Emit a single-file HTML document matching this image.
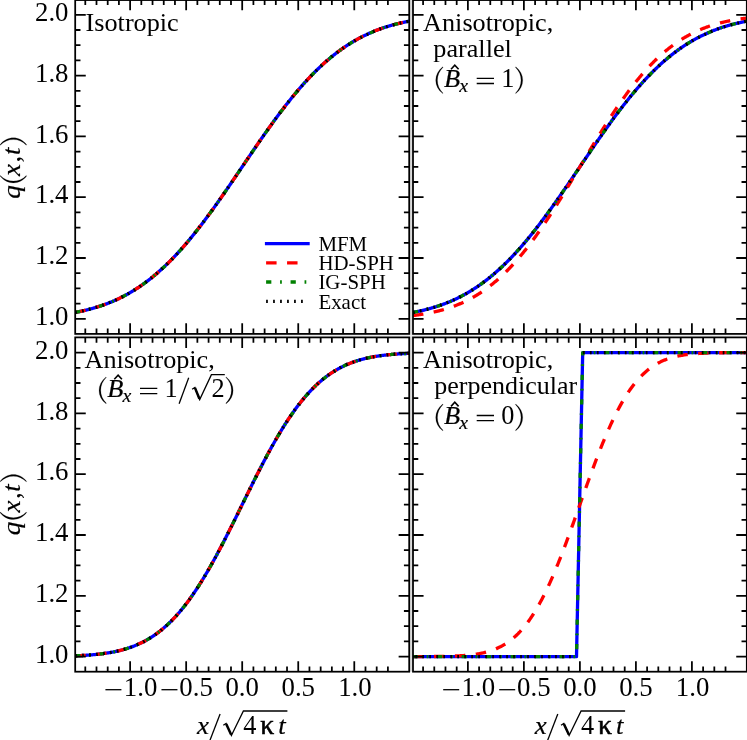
<!DOCTYPE html>
<html><head><meta charset="utf-8"><title>chart</title>
<style>
html,body{margin:0;padding:0;background:#fff;}
body{width:747px;height:740px;overflow:hidden;position:relative;font-family:"Liberation Serif",serif;}
</style></head><body>
<svg width="747" height="740" viewBox="0 0 747 740" style="position:absolute;left:0;top:0;will-change:transform">
<defs>
<clipPath id="c00"><rect x="75.20" y="-0.40" width="334.00" height="334.30"/></clipPath>
<clipPath id="c01"><rect x="75.20" y="337.40" width="334.00" height="334.30"/></clipPath>
<clipPath id="c10"><rect x="413.00" y="-0.40" width="333.80" height="334.30"/></clipPath>
<clipPath id="c11"><rect x="413.00" y="337.40" width="333.80" height="334.30"/></clipPath>
</defs>
<rect x="0" y="0" width="747" height="740" fill="#ffffff"/>
<path d="M75.20 312.41 L75.76 312.31 L76.31 312.20 L76.87 312.10 L77.43 311.99 L77.98 311.88 L78.54 311.76 L79.10 311.65 L79.65 311.54 L80.21 311.42 L80.77 311.30 L81.32 311.18 L81.88 311.06 L82.44 310.94 L82.99 310.81 L83.55 310.68 L84.11 310.56 L84.66 310.43 L85.22 310.30 L85.78 310.16 L86.33 310.03 L86.89 309.89 L87.45 309.75 L88.00 309.61 L88.56 309.47 L89.12 309.33 L89.67 309.18 L90.23 309.03 L90.79 308.88 L91.34 308.73 L91.90 308.58 L92.46 308.42 L93.01 308.27 L93.57 308.11 L94.13 307.95 L94.68 307.79 L95.24 307.62 L95.80 307.45 L96.35 307.29 L96.91 307.11 L97.47 306.94 L98.02 306.77 L98.58 306.59 L99.14 306.41 L99.69 306.23 L100.25 306.05 L100.81 305.86 L101.36 305.67 L101.92 305.48 L102.48 305.29 L103.03 305.09 L103.59 304.90 L104.15 304.70 L104.70 304.50 L105.26 304.29 L105.82 304.09 L106.37 303.88 L106.93 303.67 L107.49 303.46 L108.04 303.24 L108.60 303.02 L109.16 302.80 L109.71 302.58 L110.27 302.36 L110.83 302.13 L111.38 301.90 L111.94 301.67 L112.50 301.43 L113.05 301.19 L113.61 300.95 L114.17 300.71 L114.72 300.47 L115.28 300.22 L115.84 299.97 L116.39 299.71 L116.95 299.46 L117.51 299.20 L118.06 298.94 L118.62 298.68 L119.18 298.41 L119.73 298.14 L120.29 297.87 L120.85 297.59 L121.40 297.32 L121.96 297.04 L122.52 296.75 L123.07 296.47 L123.63 296.18 L124.19 295.89 L124.74 295.59 L125.30 295.30 L125.86 295.00 L126.41 294.69 L126.97 294.39 L127.53 294.08 L128.08 293.77 L128.64 293.45 L129.20 293.14 L129.75 292.82 L130.31 292.49 L130.87 292.17 L131.42 291.84 L131.98 291.50 L132.54 291.17 L133.09 290.83 L133.65 290.49 L134.21 290.14 L134.76 289.80 L135.32 289.45 L135.88 289.09 L136.43 288.73 L136.99 288.37 L137.55 288.01 L138.10 287.64 L138.66 287.27 L139.22 286.90 L139.77 286.52 L140.33 286.15 L140.89 285.76 L141.44 285.38 L142.00 284.99 L142.56 284.60 L143.11 284.20 L143.67 283.80 L144.23 283.40 L144.78 283.00 L145.34 282.59 L145.90 282.18 L146.45 281.76 L147.01 281.34 L147.57 280.92 L148.12 280.50 L148.68 280.07 L149.24 279.64 L149.79 279.20 L150.35 278.76 L150.91 278.32 L151.46 277.88 L152.02 277.43 L152.58 276.98 L153.13 276.52 L153.69 276.06 L154.25 275.60 L154.80 275.14 L155.36 274.67 L155.92 274.20 L156.47 273.72 L157.03 273.24 L157.59 272.76 L158.14 272.28 L158.70 271.79 L159.26 271.30 L159.81 270.80 L160.37 270.30 L160.93 269.80 L161.48 269.29 L162.04 268.79 L162.60 268.27 L163.15 267.76 L163.71 267.24 L164.27 266.72 L164.82 266.19 L165.38 265.66 L165.94 265.13 L166.49 264.59 L167.05 264.05 L167.61 263.51 L168.16 262.97 L168.72 262.42 L169.28 261.86 L169.83 261.31 L170.39 260.75 L170.95 260.19 L171.50 259.62 L172.06 259.05 L172.62 258.48 L173.17 257.90 L173.73 257.32 L174.29 256.74 L174.84 256.16 L175.40 255.57 L175.96 254.98 L176.51 254.38 L177.07 253.78 L177.63 253.18 L178.18 252.57 L178.74 251.97 L179.30 251.35 L179.85 250.74 L180.41 250.12 L180.97 249.50 L181.52 248.88 L182.08 248.25 L182.64 247.62 L183.19 246.99 L183.75 246.35 L184.31 245.71 L184.86 245.07 L185.42 244.42 L185.98 243.77 L186.53 243.12 L187.09 242.47 L187.65 241.81 L188.20 241.15 L188.76 240.48 L189.32 239.82 L189.87 239.15 L190.43 238.47 L190.99 237.80 L191.54 237.12 L192.10 236.44 L192.66 235.76 L193.21 235.07 L193.77 234.38 L194.33 233.69 L194.88 232.99 L195.44 232.29 L196.00 231.59 L196.55 230.89 L197.11 230.19 L197.67 229.48 L198.22 228.77 L198.78 228.05 L199.34 227.34 L199.89 226.62 L200.45 225.90 L201.01 225.17 L201.56 224.45 L202.12 223.72 L202.68 222.99 L203.23 222.25 L203.79 221.52 L204.35 220.78 L204.90 220.04 L205.46 219.30 L206.02 218.55 L206.57 217.81 L207.13 217.06 L207.69 216.31 L208.24 215.55 L208.80 214.80 L209.36 214.04 L209.91 213.28 L210.47 212.52 L211.03 211.75 L211.58 210.99 L212.14 210.22 L212.70 209.45 L213.25 208.68 L213.81 207.90 L214.37 207.13 L214.92 206.35 L215.48 205.57 L216.04 204.79 L216.59 204.01 L217.15 203.23 L217.71 202.44 L218.26 201.65 L218.82 200.86 L219.38 200.07 L219.93 199.28 L220.49 198.49 L221.05 197.70 L221.60 196.90 L222.16 196.10 L222.72 195.30 L223.27 194.50 L223.83 193.70 L224.39 192.90 L224.94 192.10 L225.50 191.29 L226.06 190.49 L226.61 189.68 L227.17 188.87 L227.73 188.06 L228.28 187.25 L228.84 186.44 L229.40 185.63 L229.95 184.82 L230.51 184.00 L231.07 183.19 L231.62 182.38 L232.18 181.56 L232.74 180.74 L233.29 179.93 L233.85 179.11 L234.41 178.29 L234.96 177.47 L235.52 176.65 L236.08 175.83 L236.63 175.01 L237.19 174.19 L237.75 173.37 L238.30 172.55 L238.86 171.73 L239.42 170.91 L239.97 170.09 L240.53 169.27 L241.09 168.44 L241.64 167.62 L242.20 166.80 L242.76 165.98 L243.31 165.16 L243.87 164.33 L244.43 163.51 L244.98 162.69 L245.54 161.87 L246.10 161.05 L246.65 160.23 L247.21 159.41 L247.77 158.59 L248.32 157.77 L248.88 156.95 L249.44 156.13 L249.99 155.31 L250.55 154.49 L251.11 153.67 L251.66 152.86 L252.22 152.04 L252.78 151.22 L253.33 150.41 L253.89 149.60 L254.45 148.78 L255.00 147.97 L255.56 147.16 L256.12 146.35 L256.67 145.54 L257.23 144.73 L257.79 143.92 L258.34 143.11 L258.90 142.31 L259.46 141.50 L260.01 140.70 L260.57 139.90 L261.13 139.10 L261.68 138.30 L262.24 137.50 L262.80 136.70 L263.35 135.90 L263.91 135.11 L264.47 134.32 L265.02 133.53 L265.58 132.74 L266.14 131.95 L266.69 131.16 L267.25 130.37 L267.81 129.59 L268.36 128.81 L268.92 128.03 L269.48 127.25 L270.03 126.47 L270.59 125.70 L271.15 124.92 L271.70 124.15 L272.26 123.38 L272.82 122.61 L273.37 121.85 L273.93 121.08 L274.49 120.32 L275.04 119.56 L275.60 118.80 L276.16 118.05 L276.71 117.29 L277.27 116.54 L277.83 115.79 L278.38 115.05 L278.94 114.30 L279.50 113.56 L280.05 112.82 L280.61 112.08 L281.17 111.35 L281.72 110.61 L282.28 109.88 L282.84 109.15 L283.39 108.43 L283.95 107.70 L284.51 106.98 L285.06 106.26 L285.62 105.55 L286.18 104.83 L286.73 104.12 L287.29 103.41 L287.85 102.71 L288.40 102.01 L288.96 101.31 L289.52 100.61 L290.07 99.91 L290.63 99.22 L291.19 98.53 L291.74 97.84 L292.30 97.16 L292.86 96.48 L293.41 95.80 L293.97 95.13 L294.53 94.45 L295.08 93.78 L295.64 93.12 L296.20 92.45 L296.75 91.79 L297.31 91.13 L297.87 90.48 L298.42 89.83 L298.98 89.18 L299.54 88.53 L300.09 87.89 L300.65 87.25 L301.21 86.61 L301.76 85.98 L302.32 85.35 L302.88 84.72 L303.43 84.10 L303.99 83.48 L304.55 82.86 L305.10 82.25 L305.66 81.63 L306.22 81.03 L306.77 80.42 L307.33 79.82 L307.89 79.22 L308.44 78.62 L309.00 78.03 L309.56 77.44 L310.11 76.86 L310.67 76.28 L311.23 75.70 L311.78 75.12 L312.34 74.55 L312.90 73.98 L313.45 73.41 L314.01 72.85 L314.57 72.29 L315.12 71.74 L315.68 71.18 L316.24 70.63 L316.79 70.09 L317.35 69.55 L317.91 69.01 L318.46 68.47 L319.02 67.94 L319.58 67.41 L320.13 66.88 L320.69 66.36 L321.25 65.84 L321.80 65.33 L322.36 64.81 L322.92 64.31 L323.47 63.80 L324.03 63.30 L324.59 62.80 L325.14 62.30 L325.70 61.81 L326.26 61.32 L326.81 60.84 L327.37 60.36 L327.93 59.88 L328.48 59.40 L329.04 58.93 L329.60 58.46 L330.15 58.00 L330.71 57.54 L331.27 57.08 L331.82 56.62 L332.38 56.17 L332.94 55.72 L333.49 55.28 L334.05 54.84 L334.61 54.40 L335.16 53.96 L335.72 53.53 L336.28 53.10 L336.83 52.68 L337.39 52.26 L337.95 51.84 L338.50 51.42 L339.06 51.01 L339.62 50.60 L340.17 50.20 L340.73 49.80 L341.29 49.40 L341.84 49.00 L342.40 48.61 L342.96 48.22 L343.51 47.84 L344.07 47.45 L344.63 47.08 L345.18 46.70 L345.74 46.33 L346.30 45.96 L346.85 45.59 L347.41 45.23 L347.97 44.87 L348.52 44.51 L349.08 44.15 L349.64 43.80 L350.19 43.46 L350.75 43.11 L351.31 42.77 L351.86 42.43 L352.42 42.10 L352.98 41.76 L353.53 41.43 L354.09 41.11 L354.65 40.78 L355.20 40.46 L355.76 40.15 L356.32 39.83 L356.87 39.52 L357.43 39.21 L357.99 38.91 L358.54 38.60 L359.10 38.30 L359.66 38.01 L360.21 37.71 L360.77 37.42 L361.33 37.13 L361.88 36.85 L362.44 36.56 L363.00 36.28 L363.55 36.01 L364.11 35.73 L364.67 35.46 L365.22 35.19 L365.78 34.92 L366.34 34.66 L366.89 34.40 L367.45 34.14 L368.01 33.89 L368.56 33.63 L369.12 33.38 L369.68 33.13 L370.23 32.89 L370.79 32.65 L371.35 32.41 L371.90 32.17 L372.46 31.93 L373.02 31.70 L373.57 31.47 L374.13 31.24 L374.69 31.02 L375.24 30.80 L375.80 30.58 L376.36 30.36 L376.91 30.14 L377.47 29.93 L378.03 29.72 L378.58 29.51 L379.14 29.31 L379.70 29.10 L380.25 28.90 L380.81 28.70 L381.37 28.51 L381.92 28.31 L382.48 28.12 L383.04 27.93 L383.59 27.74 L384.15 27.55 L384.71 27.37 L385.26 27.19 L385.82 27.01 L386.38 26.83 L386.93 26.66 L387.49 26.49 L388.05 26.31 L388.60 26.15 L389.16 25.98 L389.72 25.81 L390.27 25.65 L390.83 25.49 L391.39 25.33 L391.94 25.18 L392.50 25.02 L393.06 24.87 L393.61 24.72 L394.17 24.57 L394.73 24.42 L395.28 24.27 L395.84 24.13 L396.40 23.99 L396.95 23.85 L397.51 23.71 L398.07 23.57 L398.62 23.44 L399.18 23.30 L399.74 23.17 L400.29 23.04 L400.85 22.92 L401.41 22.79 L401.96 22.66 L402.52 22.54 L403.08 22.42 L403.63 22.30 L404.19 22.18 L404.75 22.06 L405.30 21.95 L405.86 21.84 L406.42 21.72 L406.97 21.61 L407.53 21.50 L408.09 21.40 L408.64 21.29 L409.20 21.19" fill="none" stroke="#0000ff" stroke-width="3.30" clip-path="url(#c00)" stroke-linejoin="round"/>
<path d="M75.20 312.41 L75.76 312.31 L76.31 312.20 L76.87 312.10 L77.43 311.99 L77.98 311.88 L78.54 311.76 L79.10 311.65 L79.65 311.54 L80.21 311.42 L80.77 311.30 L81.32 311.18 L81.88 311.06 L82.44 310.94 L82.99 310.81 L83.55 310.68 L84.11 310.56 L84.66 310.43 L85.22 310.30 L85.78 310.16 L86.33 310.03 L86.89 309.89 L87.45 309.75 L88.00 309.61 L88.56 309.47 L89.12 309.33 L89.67 309.18 L90.23 309.03 L90.79 308.88 L91.34 308.73 L91.90 308.58 L92.46 308.42 L93.01 308.27 L93.57 308.11 L94.13 307.95 L94.68 307.79 L95.24 307.62 L95.80 307.45 L96.35 307.29 L96.91 307.11 L97.47 306.94 L98.02 306.77 L98.58 306.59 L99.14 306.41 L99.69 306.23 L100.25 306.05 L100.81 305.86 L101.36 305.67 L101.92 305.48 L102.48 305.29 L103.03 305.09 L103.59 304.90 L104.15 304.70 L104.70 304.50 L105.26 304.29 L105.82 304.09 L106.37 303.88 L106.93 303.67 L107.49 303.46 L108.04 303.24 L108.60 303.02 L109.16 302.80 L109.71 302.58 L110.27 302.36 L110.83 302.13 L111.38 301.90 L111.94 301.67 L112.50 301.43 L113.05 301.19 L113.61 300.95 L114.17 300.71 L114.72 300.47 L115.28 300.22 L115.84 299.97 L116.39 299.71 L116.95 299.46 L117.51 299.20 L118.06 298.94 L118.62 298.68 L119.18 298.41 L119.73 298.14 L120.29 297.87 L120.85 297.59 L121.40 297.32 L121.96 297.04 L122.52 296.75 L123.07 296.47 L123.63 296.18 L124.19 295.89 L124.74 295.59 L125.30 295.30 L125.86 295.00 L126.41 294.69 L126.97 294.39 L127.53 294.08 L128.08 293.77 L128.64 293.45 L129.20 293.14 L129.75 292.82 L130.31 292.49 L130.87 292.17 L131.42 291.84 L131.98 291.50 L132.54 291.17 L133.09 290.83 L133.65 290.49 L134.21 290.14 L134.76 289.80 L135.32 289.45 L135.88 289.09 L136.43 288.73 L136.99 288.37 L137.55 288.01 L138.10 287.64 L138.66 287.27 L139.22 286.90 L139.77 286.52 L140.33 286.15 L140.89 285.76 L141.44 285.38 L142.00 284.99 L142.56 284.60 L143.11 284.20 L143.67 283.80 L144.23 283.40 L144.78 283.00 L145.34 282.59 L145.90 282.18 L146.45 281.76 L147.01 281.34 L147.57 280.92 L148.12 280.50 L148.68 280.07 L149.24 279.64 L149.79 279.20 L150.35 278.76 L150.91 278.32 L151.46 277.88 L152.02 277.43 L152.58 276.98 L153.13 276.52 L153.69 276.06 L154.25 275.60 L154.80 275.14 L155.36 274.67 L155.92 274.20 L156.47 273.72 L157.03 273.24 L157.59 272.76 L158.14 272.28 L158.70 271.79 L159.26 271.30 L159.81 270.80 L160.37 270.30 L160.93 269.80 L161.48 269.29 L162.04 268.79 L162.60 268.27 L163.15 267.76 L163.71 267.24 L164.27 266.72 L164.82 266.19 L165.38 265.66 L165.94 265.13 L166.49 264.59 L167.05 264.05 L167.61 263.51 L168.16 262.97 L168.72 262.42 L169.28 261.86 L169.83 261.31 L170.39 260.75 L170.95 260.19 L171.50 259.62 L172.06 259.05 L172.62 258.48 L173.17 257.90 L173.73 257.32 L174.29 256.74 L174.84 256.16 L175.40 255.57 L175.96 254.98 L176.51 254.38 L177.07 253.78 L177.63 253.18 L178.18 252.57 L178.74 251.97 L179.30 251.35 L179.85 250.74 L180.41 250.12 L180.97 249.50 L181.52 248.88 L182.08 248.25 L182.64 247.62 L183.19 246.99 L183.75 246.35 L184.31 245.71 L184.86 245.07 L185.42 244.42 L185.98 243.77 L186.53 243.12 L187.09 242.47 L187.65 241.81 L188.20 241.15 L188.76 240.48 L189.32 239.82 L189.87 239.15 L190.43 238.47 L190.99 237.80 L191.54 237.12 L192.10 236.44 L192.66 235.76 L193.21 235.07 L193.77 234.38 L194.33 233.69 L194.88 232.99 L195.44 232.29 L196.00 231.59 L196.55 230.89 L197.11 230.19 L197.67 229.48 L198.22 228.77 L198.78 228.05 L199.34 227.34 L199.89 226.62 L200.45 225.90 L201.01 225.17 L201.56 224.45 L202.12 223.72 L202.68 222.99 L203.23 222.25 L203.79 221.52 L204.35 220.78 L204.90 220.04 L205.46 219.30 L206.02 218.55 L206.57 217.81 L207.13 217.06 L207.69 216.31 L208.24 215.55 L208.80 214.80 L209.36 214.04 L209.91 213.28 L210.47 212.52 L211.03 211.75 L211.58 210.99 L212.14 210.22 L212.70 209.45 L213.25 208.68 L213.81 207.90 L214.37 207.13 L214.92 206.35 L215.48 205.57 L216.04 204.79 L216.59 204.01 L217.15 203.23 L217.71 202.44 L218.26 201.65 L218.82 200.86 L219.38 200.07 L219.93 199.28 L220.49 198.49 L221.05 197.70 L221.60 196.90 L222.16 196.10 L222.72 195.30 L223.27 194.50 L223.83 193.70 L224.39 192.90 L224.94 192.10 L225.50 191.29 L226.06 190.49 L226.61 189.68 L227.17 188.87 L227.73 188.06 L228.28 187.25 L228.84 186.44 L229.40 185.63 L229.95 184.82 L230.51 184.00 L231.07 183.19 L231.62 182.38 L232.18 181.56 L232.74 180.74 L233.29 179.93 L233.85 179.11 L234.41 178.29 L234.96 177.47 L235.52 176.65 L236.08 175.83 L236.63 175.01 L237.19 174.19 L237.75 173.37 L238.30 172.55 L238.86 171.73 L239.42 170.91 L239.97 170.09 L240.53 169.27 L241.09 168.44 L241.64 167.62 L242.20 166.80 L242.76 165.98 L243.31 165.16 L243.87 164.33 L244.43 163.51 L244.98 162.69 L245.54 161.87 L246.10 161.05 L246.65 160.23 L247.21 159.41 L247.77 158.59 L248.32 157.77 L248.88 156.95 L249.44 156.13 L249.99 155.31 L250.55 154.49 L251.11 153.67 L251.66 152.86 L252.22 152.04 L252.78 151.22 L253.33 150.41 L253.89 149.60 L254.45 148.78 L255.00 147.97 L255.56 147.16 L256.12 146.35 L256.67 145.54 L257.23 144.73 L257.79 143.92 L258.34 143.11 L258.90 142.31 L259.46 141.50 L260.01 140.70 L260.57 139.90 L261.13 139.10 L261.68 138.30 L262.24 137.50 L262.80 136.70 L263.35 135.90 L263.91 135.11 L264.47 134.32 L265.02 133.53 L265.58 132.74 L266.14 131.95 L266.69 131.16 L267.25 130.37 L267.81 129.59 L268.36 128.81 L268.92 128.03 L269.48 127.25 L270.03 126.47 L270.59 125.70 L271.15 124.92 L271.70 124.15 L272.26 123.38 L272.82 122.61 L273.37 121.85 L273.93 121.08 L274.49 120.32 L275.04 119.56 L275.60 118.80 L276.16 118.05 L276.71 117.29 L277.27 116.54 L277.83 115.79 L278.38 115.05 L278.94 114.30 L279.50 113.56 L280.05 112.82 L280.61 112.08 L281.17 111.35 L281.72 110.61 L282.28 109.88 L282.84 109.15 L283.39 108.43 L283.95 107.70 L284.51 106.98 L285.06 106.26 L285.62 105.55 L286.18 104.83 L286.73 104.12 L287.29 103.41 L287.85 102.71 L288.40 102.01 L288.96 101.31 L289.52 100.61 L290.07 99.91 L290.63 99.22 L291.19 98.53 L291.74 97.84 L292.30 97.16 L292.86 96.48 L293.41 95.80 L293.97 95.13 L294.53 94.45 L295.08 93.78 L295.64 93.12 L296.20 92.45 L296.75 91.79 L297.31 91.13 L297.87 90.48 L298.42 89.83 L298.98 89.18 L299.54 88.53 L300.09 87.89 L300.65 87.25 L301.21 86.61 L301.76 85.98 L302.32 85.35 L302.88 84.72 L303.43 84.10 L303.99 83.48 L304.55 82.86 L305.10 82.25 L305.66 81.63 L306.22 81.03 L306.77 80.42 L307.33 79.82 L307.89 79.22 L308.44 78.62 L309.00 78.03 L309.56 77.44 L310.11 76.86 L310.67 76.28 L311.23 75.70 L311.78 75.12 L312.34 74.55 L312.90 73.98 L313.45 73.41 L314.01 72.85 L314.57 72.29 L315.12 71.74 L315.68 71.18 L316.24 70.63 L316.79 70.09 L317.35 69.55 L317.91 69.01 L318.46 68.47 L319.02 67.94 L319.58 67.41 L320.13 66.88 L320.69 66.36 L321.25 65.84 L321.80 65.33 L322.36 64.81 L322.92 64.31 L323.47 63.80 L324.03 63.30 L324.59 62.80 L325.14 62.30 L325.70 61.81 L326.26 61.32 L326.81 60.84 L327.37 60.36 L327.93 59.88 L328.48 59.40 L329.04 58.93 L329.60 58.46 L330.15 58.00 L330.71 57.54 L331.27 57.08 L331.82 56.62 L332.38 56.17 L332.94 55.72 L333.49 55.28 L334.05 54.84 L334.61 54.40 L335.16 53.96 L335.72 53.53 L336.28 53.10 L336.83 52.68 L337.39 52.26 L337.95 51.84 L338.50 51.42 L339.06 51.01 L339.62 50.60 L340.17 50.20 L340.73 49.80 L341.29 49.40 L341.84 49.00 L342.40 48.61 L342.96 48.22 L343.51 47.84 L344.07 47.45 L344.63 47.08 L345.18 46.70 L345.74 46.33 L346.30 45.96 L346.85 45.59 L347.41 45.23 L347.97 44.87 L348.52 44.51 L349.08 44.15 L349.64 43.80 L350.19 43.46 L350.75 43.11 L351.31 42.77 L351.86 42.43 L352.42 42.10 L352.98 41.76 L353.53 41.43 L354.09 41.11 L354.65 40.78 L355.20 40.46 L355.76 40.15 L356.32 39.83 L356.87 39.52 L357.43 39.21 L357.99 38.91 L358.54 38.60 L359.10 38.30 L359.66 38.01 L360.21 37.71 L360.77 37.42 L361.33 37.13 L361.88 36.85 L362.44 36.56 L363.00 36.28 L363.55 36.01 L364.11 35.73 L364.67 35.46 L365.22 35.19 L365.78 34.92 L366.34 34.66 L366.89 34.40 L367.45 34.14 L368.01 33.89 L368.56 33.63 L369.12 33.38 L369.68 33.13 L370.23 32.89 L370.79 32.65 L371.35 32.41 L371.90 32.17 L372.46 31.93 L373.02 31.70 L373.57 31.47 L374.13 31.24 L374.69 31.02 L375.24 30.80 L375.80 30.58 L376.36 30.36 L376.91 30.14 L377.47 29.93 L378.03 29.72 L378.58 29.51 L379.14 29.31 L379.70 29.10 L380.25 28.90 L380.81 28.70 L381.37 28.51 L381.92 28.31 L382.48 28.12 L383.04 27.93 L383.59 27.74 L384.15 27.55 L384.71 27.37 L385.26 27.19 L385.82 27.01 L386.38 26.83 L386.93 26.66 L387.49 26.49 L388.05 26.31 L388.60 26.15 L389.16 25.98 L389.72 25.81 L390.27 25.65 L390.83 25.49 L391.39 25.33 L391.94 25.18 L392.50 25.02 L393.06 24.87 L393.61 24.72 L394.17 24.57 L394.73 24.42 L395.28 24.27 L395.84 24.13 L396.40 23.99 L396.95 23.85 L397.51 23.71 L398.07 23.57 L398.62 23.44 L399.18 23.30 L399.74 23.17 L400.29 23.04 L400.85 22.92 L401.41 22.79 L401.96 22.66 L402.52 22.54 L403.08 22.42 L403.63 22.30 L404.19 22.18 L404.75 22.06 L405.30 21.95 L405.86 21.84 L406.42 21.72 L406.97 21.61 L407.53 21.50 L408.09 21.40 L408.64 21.29 L409.20 21.19" fill="none" stroke="#ff0000" stroke-width="3.30" stroke-dasharray="10.48 10.48" stroke-dashoffset="0.00" clip-path="url(#c00)" stroke-linejoin="round"/>
<path d="M75.20 312.41 L75.76 312.31 L76.31 312.20 L76.87 312.10 L77.43 311.99 L77.98 311.88 L78.54 311.76 L79.10 311.65 L79.65 311.54 L80.21 311.42 L80.77 311.30 L81.32 311.18 L81.88 311.06 L82.44 310.94 L82.99 310.81 L83.55 310.68 L84.11 310.56 L84.66 310.43 L85.22 310.30 L85.78 310.16 L86.33 310.03 L86.89 309.89 L87.45 309.75 L88.00 309.61 L88.56 309.47 L89.12 309.33 L89.67 309.18 L90.23 309.03 L90.79 308.88 L91.34 308.73 L91.90 308.58 L92.46 308.42 L93.01 308.27 L93.57 308.11 L94.13 307.95 L94.68 307.79 L95.24 307.62 L95.80 307.45 L96.35 307.29 L96.91 307.11 L97.47 306.94 L98.02 306.77 L98.58 306.59 L99.14 306.41 L99.69 306.23 L100.25 306.05 L100.81 305.86 L101.36 305.67 L101.92 305.48 L102.48 305.29 L103.03 305.09 L103.59 304.90 L104.15 304.70 L104.70 304.50 L105.26 304.29 L105.82 304.09 L106.37 303.88 L106.93 303.67 L107.49 303.46 L108.04 303.24 L108.60 303.02 L109.16 302.80 L109.71 302.58 L110.27 302.36 L110.83 302.13 L111.38 301.90 L111.94 301.67 L112.50 301.43 L113.05 301.19 L113.61 300.95 L114.17 300.71 L114.72 300.47 L115.28 300.22 L115.84 299.97 L116.39 299.71 L116.95 299.46 L117.51 299.20 L118.06 298.94 L118.62 298.68 L119.18 298.41 L119.73 298.14 L120.29 297.87 L120.85 297.59 L121.40 297.32 L121.96 297.04 L122.52 296.75 L123.07 296.47 L123.63 296.18 L124.19 295.89 L124.74 295.59 L125.30 295.30 L125.86 295.00 L126.41 294.69 L126.97 294.39 L127.53 294.08 L128.08 293.77 L128.64 293.45 L129.20 293.14 L129.75 292.82 L130.31 292.49 L130.87 292.17 L131.42 291.84 L131.98 291.50 L132.54 291.17 L133.09 290.83 L133.65 290.49 L134.21 290.14 L134.76 289.80 L135.32 289.45 L135.88 289.09 L136.43 288.73 L136.99 288.37 L137.55 288.01 L138.10 287.64 L138.66 287.27 L139.22 286.90 L139.77 286.52 L140.33 286.15 L140.89 285.76 L141.44 285.38 L142.00 284.99 L142.56 284.60 L143.11 284.20 L143.67 283.80 L144.23 283.40 L144.78 283.00 L145.34 282.59 L145.90 282.18 L146.45 281.76 L147.01 281.34 L147.57 280.92 L148.12 280.50 L148.68 280.07 L149.24 279.64 L149.79 279.20 L150.35 278.76 L150.91 278.32 L151.46 277.88 L152.02 277.43 L152.58 276.98 L153.13 276.52 L153.69 276.06 L154.25 275.60 L154.80 275.14 L155.36 274.67 L155.92 274.20 L156.47 273.72 L157.03 273.24 L157.59 272.76 L158.14 272.28 L158.70 271.79 L159.26 271.30 L159.81 270.80 L160.37 270.30 L160.93 269.80 L161.48 269.29 L162.04 268.79 L162.60 268.27 L163.15 267.76 L163.71 267.24 L164.27 266.72 L164.82 266.19 L165.38 265.66 L165.94 265.13 L166.49 264.59 L167.05 264.05 L167.61 263.51 L168.16 262.97 L168.72 262.42 L169.28 261.86 L169.83 261.31 L170.39 260.75 L170.95 260.19 L171.50 259.62 L172.06 259.05 L172.62 258.48 L173.17 257.90 L173.73 257.32 L174.29 256.74 L174.84 256.16 L175.40 255.57 L175.96 254.98 L176.51 254.38 L177.07 253.78 L177.63 253.18 L178.18 252.57 L178.74 251.97 L179.30 251.35 L179.85 250.74 L180.41 250.12 L180.97 249.50 L181.52 248.88 L182.08 248.25 L182.64 247.62 L183.19 246.99 L183.75 246.35 L184.31 245.71 L184.86 245.07 L185.42 244.42 L185.98 243.77 L186.53 243.12 L187.09 242.47 L187.65 241.81 L188.20 241.15 L188.76 240.48 L189.32 239.82 L189.87 239.15 L190.43 238.47 L190.99 237.80 L191.54 237.12 L192.10 236.44 L192.66 235.76 L193.21 235.07 L193.77 234.38 L194.33 233.69 L194.88 232.99 L195.44 232.29 L196.00 231.59 L196.55 230.89 L197.11 230.19 L197.67 229.48 L198.22 228.77 L198.78 228.05 L199.34 227.34 L199.89 226.62 L200.45 225.90 L201.01 225.17 L201.56 224.45 L202.12 223.72 L202.68 222.99 L203.23 222.25 L203.79 221.52 L204.35 220.78 L204.90 220.04 L205.46 219.30 L206.02 218.55 L206.57 217.81 L207.13 217.06 L207.69 216.31 L208.24 215.55 L208.80 214.80 L209.36 214.04 L209.91 213.28 L210.47 212.52 L211.03 211.75 L211.58 210.99 L212.14 210.22 L212.70 209.45 L213.25 208.68 L213.81 207.90 L214.37 207.13 L214.92 206.35 L215.48 205.57 L216.04 204.79 L216.59 204.01 L217.15 203.23 L217.71 202.44 L218.26 201.65 L218.82 200.86 L219.38 200.07 L219.93 199.28 L220.49 198.49 L221.05 197.70 L221.60 196.90 L222.16 196.10 L222.72 195.30 L223.27 194.50 L223.83 193.70 L224.39 192.90 L224.94 192.10 L225.50 191.29 L226.06 190.49 L226.61 189.68 L227.17 188.87 L227.73 188.06 L228.28 187.25 L228.84 186.44 L229.40 185.63 L229.95 184.82 L230.51 184.00 L231.07 183.19 L231.62 182.38 L232.18 181.56 L232.74 180.74 L233.29 179.93 L233.85 179.11 L234.41 178.29 L234.96 177.47 L235.52 176.65 L236.08 175.83 L236.63 175.01 L237.19 174.19 L237.75 173.37 L238.30 172.55 L238.86 171.73 L239.42 170.91 L239.97 170.09 L240.53 169.27 L241.09 168.44 L241.64 167.62 L242.20 166.80 L242.76 165.98 L243.31 165.16 L243.87 164.33 L244.43 163.51 L244.98 162.69 L245.54 161.87 L246.10 161.05 L246.65 160.23 L247.21 159.41 L247.77 158.59 L248.32 157.77 L248.88 156.95 L249.44 156.13 L249.99 155.31 L250.55 154.49 L251.11 153.67 L251.66 152.86 L252.22 152.04 L252.78 151.22 L253.33 150.41 L253.89 149.60 L254.45 148.78 L255.00 147.97 L255.56 147.16 L256.12 146.35 L256.67 145.54 L257.23 144.73 L257.79 143.92 L258.34 143.11 L258.90 142.31 L259.46 141.50 L260.01 140.70 L260.57 139.90 L261.13 139.10 L261.68 138.30 L262.24 137.50 L262.80 136.70 L263.35 135.90 L263.91 135.11 L264.47 134.32 L265.02 133.53 L265.58 132.74 L266.14 131.95 L266.69 131.16 L267.25 130.37 L267.81 129.59 L268.36 128.81 L268.92 128.03 L269.48 127.25 L270.03 126.47 L270.59 125.70 L271.15 124.92 L271.70 124.15 L272.26 123.38 L272.82 122.61 L273.37 121.85 L273.93 121.08 L274.49 120.32 L275.04 119.56 L275.60 118.80 L276.16 118.05 L276.71 117.29 L277.27 116.54 L277.83 115.79 L278.38 115.05 L278.94 114.30 L279.50 113.56 L280.05 112.82 L280.61 112.08 L281.17 111.35 L281.72 110.61 L282.28 109.88 L282.84 109.15 L283.39 108.43 L283.95 107.70 L284.51 106.98 L285.06 106.26 L285.62 105.55 L286.18 104.83 L286.73 104.12 L287.29 103.41 L287.85 102.71 L288.40 102.01 L288.96 101.31 L289.52 100.61 L290.07 99.91 L290.63 99.22 L291.19 98.53 L291.74 97.84 L292.30 97.16 L292.86 96.48 L293.41 95.80 L293.97 95.13 L294.53 94.45 L295.08 93.78 L295.64 93.12 L296.20 92.45 L296.75 91.79 L297.31 91.13 L297.87 90.48 L298.42 89.83 L298.98 89.18 L299.54 88.53 L300.09 87.89 L300.65 87.25 L301.21 86.61 L301.76 85.98 L302.32 85.35 L302.88 84.72 L303.43 84.10 L303.99 83.48 L304.55 82.86 L305.10 82.25 L305.66 81.63 L306.22 81.03 L306.77 80.42 L307.33 79.82 L307.89 79.22 L308.44 78.62 L309.00 78.03 L309.56 77.44 L310.11 76.86 L310.67 76.28 L311.23 75.70 L311.78 75.12 L312.34 74.55 L312.90 73.98 L313.45 73.41 L314.01 72.85 L314.57 72.29 L315.12 71.74 L315.68 71.18 L316.24 70.63 L316.79 70.09 L317.35 69.55 L317.91 69.01 L318.46 68.47 L319.02 67.94 L319.58 67.41 L320.13 66.88 L320.69 66.36 L321.25 65.84 L321.80 65.33 L322.36 64.81 L322.92 64.31 L323.47 63.80 L324.03 63.30 L324.59 62.80 L325.14 62.30 L325.70 61.81 L326.26 61.32 L326.81 60.84 L327.37 60.36 L327.93 59.88 L328.48 59.40 L329.04 58.93 L329.60 58.46 L330.15 58.00 L330.71 57.54 L331.27 57.08 L331.82 56.62 L332.38 56.17 L332.94 55.72 L333.49 55.28 L334.05 54.84 L334.61 54.40 L335.16 53.96 L335.72 53.53 L336.28 53.10 L336.83 52.68 L337.39 52.26 L337.95 51.84 L338.50 51.42 L339.06 51.01 L339.62 50.60 L340.17 50.20 L340.73 49.80 L341.29 49.40 L341.84 49.00 L342.40 48.61 L342.96 48.22 L343.51 47.84 L344.07 47.45 L344.63 47.08 L345.18 46.70 L345.74 46.33 L346.30 45.96 L346.85 45.59 L347.41 45.23 L347.97 44.87 L348.52 44.51 L349.08 44.15 L349.64 43.80 L350.19 43.46 L350.75 43.11 L351.31 42.77 L351.86 42.43 L352.42 42.10 L352.98 41.76 L353.53 41.43 L354.09 41.11 L354.65 40.78 L355.20 40.46 L355.76 40.15 L356.32 39.83 L356.87 39.52 L357.43 39.21 L357.99 38.91 L358.54 38.60 L359.10 38.30 L359.66 38.01 L360.21 37.71 L360.77 37.42 L361.33 37.13 L361.88 36.85 L362.44 36.56 L363.00 36.28 L363.55 36.01 L364.11 35.73 L364.67 35.46 L365.22 35.19 L365.78 34.92 L366.34 34.66 L366.89 34.40 L367.45 34.14 L368.01 33.89 L368.56 33.63 L369.12 33.38 L369.68 33.13 L370.23 32.89 L370.79 32.65 L371.35 32.41 L371.90 32.17 L372.46 31.93 L373.02 31.70 L373.57 31.47 L374.13 31.24 L374.69 31.02 L375.24 30.80 L375.80 30.58 L376.36 30.36 L376.91 30.14 L377.47 29.93 L378.03 29.72 L378.58 29.51 L379.14 29.31 L379.70 29.10 L380.25 28.90 L380.81 28.70 L381.37 28.51 L381.92 28.31 L382.48 28.12 L383.04 27.93 L383.59 27.74 L384.15 27.55 L384.71 27.37 L385.26 27.19 L385.82 27.01 L386.38 26.83 L386.93 26.66 L387.49 26.49 L388.05 26.31 L388.60 26.15 L389.16 25.98 L389.72 25.81 L390.27 25.65 L390.83 25.49 L391.39 25.33 L391.94 25.18 L392.50 25.02 L393.06 24.87 L393.61 24.72 L394.17 24.57 L394.73 24.42 L395.28 24.27 L395.84 24.13 L396.40 23.99 L396.95 23.85 L397.51 23.71 L398.07 23.57 L398.62 23.44 L399.18 23.30 L399.74 23.17 L400.29 23.04 L400.85 22.92 L401.41 22.79 L401.96 22.66 L402.52 22.54 L403.08 22.42 L403.63 22.30 L404.19 22.18 L404.75 22.06 L405.30 21.95 L405.86 21.84 L406.42 21.72 L406.97 21.61 L407.53 21.50 L408.09 21.40 L408.64 21.29 L409.20 21.19" fill="none" stroke="#008000" stroke-width="3.30" stroke-dasharray="5.24 8.74 1.75 8.74" stroke-dashoffset="0.00" clip-path="url(#c00)" stroke-linejoin="round"/>
<path d="M75.20 312.41 L75.76 312.31 L76.31 312.20 L76.87 312.10 L77.43 311.99 L77.98 311.88 L78.54 311.76 L79.10 311.65 L79.65 311.54 L80.21 311.42 L80.77 311.30 L81.32 311.18 L81.88 311.06 L82.44 310.94 L82.99 310.81 L83.55 310.68 L84.11 310.56 L84.66 310.43 L85.22 310.30 L85.78 310.16 L86.33 310.03 L86.89 309.89 L87.45 309.75 L88.00 309.61 L88.56 309.47 L89.12 309.33 L89.67 309.18 L90.23 309.03 L90.79 308.88 L91.34 308.73 L91.90 308.58 L92.46 308.42 L93.01 308.27 L93.57 308.11 L94.13 307.95 L94.68 307.79 L95.24 307.62 L95.80 307.45 L96.35 307.29 L96.91 307.11 L97.47 306.94 L98.02 306.77 L98.58 306.59 L99.14 306.41 L99.69 306.23 L100.25 306.05 L100.81 305.86 L101.36 305.67 L101.92 305.48 L102.48 305.29 L103.03 305.09 L103.59 304.90 L104.15 304.70 L104.70 304.50 L105.26 304.29 L105.82 304.09 L106.37 303.88 L106.93 303.67 L107.49 303.46 L108.04 303.24 L108.60 303.02 L109.16 302.80 L109.71 302.58 L110.27 302.36 L110.83 302.13 L111.38 301.90 L111.94 301.67 L112.50 301.43 L113.05 301.19 L113.61 300.95 L114.17 300.71 L114.72 300.47 L115.28 300.22 L115.84 299.97 L116.39 299.71 L116.95 299.46 L117.51 299.20 L118.06 298.94 L118.62 298.68 L119.18 298.41 L119.73 298.14 L120.29 297.87 L120.85 297.59 L121.40 297.32 L121.96 297.04 L122.52 296.75 L123.07 296.47 L123.63 296.18 L124.19 295.89 L124.74 295.59 L125.30 295.30 L125.86 295.00 L126.41 294.69 L126.97 294.39 L127.53 294.08 L128.08 293.77 L128.64 293.45 L129.20 293.14 L129.75 292.82 L130.31 292.49 L130.87 292.17 L131.42 291.84 L131.98 291.50 L132.54 291.17 L133.09 290.83 L133.65 290.49 L134.21 290.14 L134.76 289.80 L135.32 289.45 L135.88 289.09 L136.43 288.73 L136.99 288.37 L137.55 288.01 L138.10 287.64 L138.66 287.27 L139.22 286.90 L139.77 286.52 L140.33 286.15 L140.89 285.76 L141.44 285.38 L142.00 284.99 L142.56 284.60 L143.11 284.20 L143.67 283.80 L144.23 283.40 L144.78 283.00 L145.34 282.59 L145.90 282.18 L146.45 281.76 L147.01 281.34 L147.57 280.92 L148.12 280.50 L148.68 280.07 L149.24 279.64 L149.79 279.20 L150.35 278.76 L150.91 278.32 L151.46 277.88 L152.02 277.43 L152.58 276.98 L153.13 276.52 L153.69 276.06 L154.25 275.60 L154.80 275.14 L155.36 274.67 L155.92 274.20 L156.47 273.72 L157.03 273.24 L157.59 272.76 L158.14 272.28 L158.70 271.79 L159.26 271.30 L159.81 270.80 L160.37 270.30 L160.93 269.80 L161.48 269.29 L162.04 268.79 L162.60 268.27 L163.15 267.76 L163.71 267.24 L164.27 266.72 L164.82 266.19 L165.38 265.66 L165.94 265.13 L166.49 264.59 L167.05 264.05 L167.61 263.51 L168.16 262.97 L168.72 262.42 L169.28 261.86 L169.83 261.31 L170.39 260.75 L170.95 260.19 L171.50 259.62 L172.06 259.05 L172.62 258.48 L173.17 257.90 L173.73 257.32 L174.29 256.74 L174.84 256.16 L175.40 255.57 L175.96 254.98 L176.51 254.38 L177.07 253.78 L177.63 253.18 L178.18 252.57 L178.74 251.97 L179.30 251.35 L179.85 250.74 L180.41 250.12 L180.97 249.50 L181.52 248.88 L182.08 248.25 L182.64 247.62 L183.19 246.99 L183.75 246.35 L184.31 245.71 L184.86 245.07 L185.42 244.42 L185.98 243.77 L186.53 243.12 L187.09 242.47 L187.65 241.81 L188.20 241.15 L188.76 240.48 L189.32 239.82 L189.87 239.15 L190.43 238.47 L190.99 237.80 L191.54 237.12 L192.10 236.44 L192.66 235.76 L193.21 235.07 L193.77 234.38 L194.33 233.69 L194.88 232.99 L195.44 232.29 L196.00 231.59 L196.55 230.89 L197.11 230.19 L197.67 229.48 L198.22 228.77 L198.78 228.05 L199.34 227.34 L199.89 226.62 L200.45 225.90 L201.01 225.17 L201.56 224.45 L202.12 223.72 L202.68 222.99 L203.23 222.25 L203.79 221.52 L204.35 220.78 L204.90 220.04 L205.46 219.30 L206.02 218.55 L206.57 217.81 L207.13 217.06 L207.69 216.31 L208.24 215.55 L208.80 214.80 L209.36 214.04 L209.91 213.28 L210.47 212.52 L211.03 211.75 L211.58 210.99 L212.14 210.22 L212.70 209.45 L213.25 208.68 L213.81 207.90 L214.37 207.13 L214.92 206.35 L215.48 205.57 L216.04 204.79 L216.59 204.01 L217.15 203.23 L217.71 202.44 L218.26 201.65 L218.82 200.86 L219.38 200.07 L219.93 199.28 L220.49 198.49 L221.05 197.70 L221.60 196.90 L222.16 196.10 L222.72 195.30 L223.27 194.50 L223.83 193.70 L224.39 192.90 L224.94 192.10 L225.50 191.29 L226.06 190.49 L226.61 189.68 L227.17 188.87 L227.73 188.06 L228.28 187.25 L228.84 186.44 L229.40 185.63 L229.95 184.82 L230.51 184.00 L231.07 183.19 L231.62 182.38 L232.18 181.56 L232.74 180.74 L233.29 179.93 L233.85 179.11 L234.41 178.29 L234.96 177.47 L235.52 176.65 L236.08 175.83 L236.63 175.01 L237.19 174.19 L237.75 173.37 L238.30 172.55 L238.86 171.73 L239.42 170.91 L239.97 170.09 L240.53 169.27 L241.09 168.44 L241.64 167.62 L242.20 166.80 L242.76 165.98 L243.31 165.16 L243.87 164.33 L244.43 163.51 L244.98 162.69 L245.54 161.87 L246.10 161.05 L246.65 160.23 L247.21 159.41 L247.77 158.59 L248.32 157.77 L248.88 156.95 L249.44 156.13 L249.99 155.31 L250.55 154.49 L251.11 153.67 L251.66 152.86 L252.22 152.04 L252.78 151.22 L253.33 150.41 L253.89 149.60 L254.45 148.78 L255.00 147.97 L255.56 147.16 L256.12 146.35 L256.67 145.54 L257.23 144.73 L257.79 143.92 L258.34 143.11 L258.90 142.31 L259.46 141.50 L260.01 140.70 L260.57 139.90 L261.13 139.10 L261.68 138.30 L262.24 137.50 L262.80 136.70 L263.35 135.90 L263.91 135.11 L264.47 134.32 L265.02 133.53 L265.58 132.74 L266.14 131.95 L266.69 131.16 L267.25 130.37 L267.81 129.59 L268.36 128.81 L268.92 128.03 L269.48 127.25 L270.03 126.47 L270.59 125.70 L271.15 124.92 L271.70 124.15 L272.26 123.38 L272.82 122.61 L273.37 121.85 L273.93 121.08 L274.49 120.32 L275.04 119.56 L275.60 118.80 L276.16 118.05 L276.71 117.29 L277.27 116.54 L277.83 115.79 L278.38 115.05 L278.94 114.30 L279.50 113.56 L280.05 112.82 L280.61 112.08 L281.17 111.35 L281.72 110.61 L282.28 109.88 L282.84 109.15 L283.39 108.43 L283.95 107.70 L284.51 106.98 L285.06 106.26 L285.62 105.55 L286.18 104.83 L286.73 104.12 L287.29 103.41 L287.85 102.71 L288.40 102.01 L288.96 101.31 L289.52 100.61 L290.07 99.91 L290.63 99.22 L291.19 98.53 L291.74 97.84 L292.30 97.16 L292.86 96.48 L293.41 95.80 L293.97 95.13 L294.53 94.45 L295.08 93.78 L295.64 93.12 L296.20 92.45 L296.75 91.79 L297.31 91.13 L297.87 90.48 L298.42 89.83 L298.98 89.18 L299.54 88.53 L300.09 87.89 L300.65 87.25 L301.21 86.61 L301.76 85.98 L302.32 85.35 L302.88 84.72 L303.43 84.10 L303.99 83.48 L304.55 82.86 L305.10 82.25 L305.66 81.63 L306.22 81.03 L306.77 80.42 L307.33 79.82 L307.89 79.22 L308.44 78.62 L309.00 78.03 L309.56 77.44 L310.11 76.86 L310.67 76.28 L311.23 75.70 L311.78 75.12 L312.34 74.55 L312.90 73.98 L313.45 73.41 L314.01 72.85 L314.57 72.29 L315.12 71.74 L315.68 71.18 L316.24 70.63 L316.79 70.09 L317.35 69.55 L317.91 69.01 L318.46 68.47 L319.02 67.94 L319.58 67.41 L320.13 66.88 L320.69 66.36 L321.25 65.84 L321.80 65.33 L322.36 64.81 L322.92 64.31 L323.47 63.80 L324.03 63.30 L324.59 62.80 L325.14 62.30 L325.70 61.81 L326.26 61.32 L326.81 60.84 L327.37 60.36 L327.93 59.88 L328.48 59.40 L329.04 58.93 L329.60 58.46 L330.15 58.00 L330.71 57.54 L331.27 57.08 L331.82 56.62 L332.38 56.17 L332.94 55.72 L333.49 55.28 L334.05 54.84 L334.61 54.40 L335.16 53.96 L335.72 53.53 L336.28 53.10 L336.83 52.68 L337.39 52.26 L337.95 51.84 L338.50 51.42 L339.06 51.01 L339.62 50.60 L340.17 50.20 L340.73 49.80 L341.29 49.40 L341.84 49.00 L342.40 48.61 L342.96 48.22 L343.51 47.84 L344.07 47.45 L344.63 47.08 L345.18 46.70 L345.74 46.33 L346.30 45.96 L346.85 45.59 L347.41 45.23 L347.97 44.87 L348.52 44.51 L349.08 44.15 L349.64 43.80 L350.19 43.46 L350.75 43.11 L351.31 42.77 L351.86 42.43 L352.42 42.10 L352.98 41.76 L353.53 41.43 L354.09 41.11 L354.65 40.78 L355.20 40.46 L355.76 40.15 L356.32 39.83 L356.87 39.52 L357.43 39.21 L357.99 38.91 L358.54 38.60 L359.10 38.30 L359.66 38.01 L360.21 37.71 L360.77 37.42 L361.33 37.13 L361.88 36.85 L362.44 36.56 L363.00 36.28 L363.55 36.01 L364.11 35.73 L364.67 35.46 L365.22 35.19 L365.78 34.92 L366.34 34.66 L366.89 34.40 L367.45 34.14 L368.01 33.89 L368.56 33.63 L369.12 33.38 L369.68 33.13 L370.23 32.89 L370.79 32.65 L371.35 32.41 L371.90 32.17 L372.46 31.93 L373.02 31.70 L373.57 31.47 L374.13 31.24 L374.69 31.02 L375.24 30.80 L375.80 30.58 L376.36 30.36 L376.91 30.14 L377.47 29.93 L378.03 29.72 L378.58 29.51 L379.14 29.31 L379.70 29.10 L380.25 28.90 L380.81 28.70 L381.37 28.51 L381.92 28.31 L382.48 28.12 L383.04 27.93 L383.59 27.74 L384.15 27.55 L384.71 27.37 L385.26 27.19 L385.82 27.01 L386.38 26.83 L386.93 26.66 L387.49 26.49 L388.05 26.31 L388.60 26.15 L389.16 25.98 L389.72 25.81 L390.27 25.65 L390.83 25.49 L391.39 25.33 L391.94 25.18 L392.50 25.02 L393.06 24.87 L393.61 24.72 L394.17 24.57 L394.73 24.42 L395.28 24.27 L395.84 24.13 L396.40 23.99 L396.95 23.85 L397.51 23.71 L398.07 23.57 L398.62 23.44 L399.18 23.30 L399.74 23.17 L400.29 23.04 L400.85 22.92 L401.41 22.79 L401.96 22.66 L402.52 22.54 L403.08 22.42 L403.63 22.30 L404.19 22.18 L404.75 22.06 L405.30 21.95 L405.86 21.84 L406.42 21.72 L406.97 21.61 L407.53 21.50 L408.09 21.40 L408.64 21.29 L409.20 21.19" fill="none" stroke="#000000" stroke-width="3.30" stroke-dasharray="1.75 5.24" stroke-dashoffset="0.00" clip-path="url(#c00)" stroke-linejoin="round"/>
<path d="M75.20 655.83 L75.76 655.81 L76.31 655.78 L76.87 655.76 L77.43 655.74 L77.98 655.71 L78.54 655.68 L79.10 655.66 L79.65 655.63 L80.21 655.60 L80.77 655.57 L81.32 655.55 L81.88 655.52 L82.44 655.48 L82.99 655.45 L83.55 655.42 L84.11 655.39 L84.66 655.35 L85.22 655.32 L85.78 655.28 L86.33 655.25 L86.89 655.21 L87.45 655.17 L88.00 655.13 L88.56 655.09 L89.12 655.05 L89.67 655.01 L90.23 654.96 L90.79 654.92 L91.34 654.87 L91.90 654.83 L92.46 654.78 L93.01 654.73 L93.57 654.68 L94.13 654.63 L94.68 654.58 L95.24 654.52 L95.80 654.47 L96.35 654.41 L96.91 654.36 L97.47 654.30 L98.02 654.24 L98.58 654.18 L99.14 654.11 L99.69 654.05 L100.25 653.98 L100.81 653.92 L101.36 653.85 L101.92 653.78 L102.48 653.71 L103.03 653.63 L103.59 653.56 L104.15 653.48 L104.70 653.40 L105.26 653.32 L105.82 653.24 L106.37 653.16 L106.93 653.07 L107.49 652.99 L108.04 652.90 L108.60 652.81 L109.16 652.71 L109.71 652.62 L110.27 652.52 L110.83 652.42 L111.38 652.32 L111.94 652.22 L112.50 652.11 L113.05 652.01 L113.61 651.90 L114.17 651.79 L114.72 651.67 L115.28 651.56 L115.84 651.44 L116.39 651.32 L116.95 651.19 L117.51 651.07 L118.06 650.94 L118.62 650.81 L119.18 650.68 L119.73 650.54 L120.29 650.40 L120.85 650.26 L121.40 650.12 L121.96 649.97 L122.52 649.82 L123.07 649.67 L123.63 649.51 L124.19 649.36 L124.74 649.20 L125.30 649.03 L125.86 648.87 L126.41 648.70 L126.97 648.52 L127.53 648.35 L128.08 648.17 L128.64 647.98 L129.20 647.80 L129.75 647.61 L130.31 647.42 L130.87 647.22 L131.42 647.02 L131.98 646.82 L132.54 646.61 L133.09 646.40 L133.65 646.19 L134.21 645.97 L134.76 645.75 L135.32 645.52 L135.88 645.29 L136.43 645.06 L136.99 644.83 L137.55 644.59 L138.10 644.34 L138.66 644.09 L139.22 643.84 L139.77 643.58 L140.33 643.32 L140.89 643.06 L141.44 642.79 L142.00 642.52 L142.56 642.24 L143.11 641.96 L143.67 641.67 L144.23 641.38 L144.78 641.08 L145.34 640.78 L145.90 640.48 L146.45 640.17 L147.01 639.85 L147.57 639.54 L148.12 639.21 L148.68 638.88 L149.24 638.55 L149.79 638.21 L150.35 637.87 L150.91 637.52 L151.46 637.17 L152.02 636.81 L152.58 636.45 L153.13 636.08 L153.69 635.71 L154.25 635.33 L154.80 634.95 L155.36 634.56 L155.92 634.16 L156.47 633.76 L157.03 633.36 L157.59 632.95 L158.14 632.53 L158.70 632.11 L159.26 631.68 L159.81 631.25 L160.37 630.81 L160.93 630.37 L161.48 629.92 L162.04 629.46 L162.60 629.00 L163.15 628.53 L163.71 628.06 L164.27 627.58 L164.82 627.10 L165.38 626.60 L165.94 626.11 L166.49 625.61 L167.05 625.10 L167.61 624.58 L168.16 624.06 L168.72 623.54 L169.28 623.00 L169.83 622.46 L170.39 621.92 L170.95 621.37 L171.50 620.81 L172.06 620.25 L172.62 619.68 L173.17 619.10 L173.73 618.52 L174.29 617.93 L174.84 617.33 L175.40 616.73 L175.96 616.13 L176.51 615.51 L177.07 614.89 L177.63 614.27 L178.18 613.63 L178.74 612.99 L179.30 612.35 L179.85 611.69 L180.41 611.04 L180.97 610.37 L181.52 609.70 L182.08 609.02 L182.64 608.34 L183.19 607.65 L183.75 606.95 L184.31 606.25 L184.86 605.54 L185.42 604.82 L185.98 604.10 L186.53 603.37 L187.09 602.63 L187.65 601.89 L188.20 601.14 L188.76 600.39 L189.32 599.63 L189.87 598.86 L190.43 598.09 L190.99 597.31 L191.54 596.52 L192.10 595.73 L192.66 594.93 L193.21 594.12 L193.77 593.31 L194.33 592.49 L194.88 591.67 L195.44 590.84 L196.00 590.01 L196.55 589.16 L197.11 588.32 L197.67 587.46 L198.22 586.60 L198.78 585.74 L199.34 584.86 L199.89 583.99 L200.45 583.10 L201.01 582.21 L201.56 581.32 L202.12 580.42 L202.68 579.51 L203.23 578.60 L203.79 577.68 L204.35 576.76 L204.90 575.83 L205.46 574.90 L206.02 573.96 L206.57 573.01 L207.13 572.06 L207.69 571.11 L208.24 570.15 L208.80 569.18 L209.36 568.21 L209.91 567.23 L210.47 566.25 L211.03 565.27 L211.58 564.28 L212.14 563.28 L212.70 562.28 L213.25 561.28 L213.81 560.27 L214.37 559.25 L214.92 558.24 L215.48 557.21 L216.04 556.19 L216.59 555.16 L217.15 554.12 L217.71 553.08 L218.26 552.04 L218.82 550.99 L219.38 549.94 L219.93 548.89 L220.49 547.83 L221.05 546.77 L221.60 545.70 L222.16 544.63 L222.72 543.56 L223.27 542.48 L223.83 541.40 L224.39 540.32 L224.94 539.24 L225.50 538.15 L226.06 537.06 L226.61 535.96 L227.17 534.87 L227.73 533.77 L228.28 532.67 L228.84 531.56 L229.40 530.46 L229.95 529.35 L230.51 528.24 L231.07 527.13 L231.62 526.01 L232.18 524.90 L232.74 523.78 L233.29 522.66 L233.85 521.54 L234.41 520.42 L234.96 519.29 L235.52 518.17 L236.08 517.04 L236.63 515.91 L237.19 514.78 L237.75 513.66 L238.30 512.53 L238.86 511.39 L239.42 510.26 L239.97 509.13 L240.53 508.00 L241.09 506.87 L241.64 505.73 L242.20 504.60 L242.76 503.47 L243.31 502.33 L243.87 501.20 L244.43 500.07 L244.98 498.94 L245.54 497.81 L246.10 496.67 L246.65 495.54 L247.21 494.42 L247.77 493.29 L248.32 492.16 L248.88 491.03 L249.44 489.91 L249.99 488.78 L250.55 487.66 L251.11 486.54 L251.66 485.42 L252.22 484.30 L252.78 483.19 L253.33 482.07 L253.89 480.96 L254.45 479.85 L255.00 478.74 L255.56 477.64 L256.12 476.53 L256.67 475.43 L257.23 474.33 L257.79 473.24 L258.34 472.14 L258.90 471.05 L259.46 469.96 L260.01 468.88 L260.57 467.80 L261.13 466.72 L261.68 465.64 L262.24 464.57 L262.80 463.50 L263.35 462.43 L263.91 461.37 L264.47 460.31 L265.02 459.26 L265.58 458.21 L266.14 457.16 L266.69 456.12 L267.25 455.08 L267.81 454.04 L268.36 453.01 L268.92 451.99 L269.48 450.96 L270.03 449.95 L270.59 448.93 L271.15 447.92 L271.70 446.92 L272.26 445.92 L272.82 444.92 L273.37 443.93 L273.93 442.95 L274.49 441.97 L275.04 440.99 L275.60 440.02 L276.16 439.05 L276.71 438.09 L277.27 437.14 L277.83 436.19 L278.38 435.24 L278.94 434.30 L279.50 433.37 L280.05 432.44 L280.61 431.52 L281.17 430.60 L281.72 429.69 L282.28 428.78 L282.84 427.88 L283.39 426.99 L283.95 426.10 L284.51 425.21 L285.06 424.34 L285.62 423.46 L286.18 422.60 L286.73 421.74 L287.29 420.88 L287.85 420.04 L288.40 419.19 L288.96 418.36 L289.52 417.53 L290.07 416.71 L290.63 415.89 L291.19 415.08 L291.74 414.27 L292.30 413.47 L292.86 412.68 L293.41 411.89 L293.97 411.11 L294.53 410.34 L295.08 409.57 L295.64 408.81 L296.20 408.06 L296.75 407.31 L297.31 406.57 L297.87 405.83 L298.42 405.10 L298.98 404.38 L299.54 403.66 L300.09 402.95 L300.65 402.25 L301.21 401.55 L301.76 400.86 L302.32 400.18 L302.88 399.50 L303.43 398.83 L303.99 398.16 L304.55 397.51 L305.10 396.85 L305.66 396.21 L306.22 395.57 L306.77 394.93 L307.33 394.31 L307.89 393.69 L308.44 393.07 L309.00 392.47 L309.56 391.87 L310.11 391.27 L310.67 390.68 L311.23 390.10 L311.78 389.52 L312.34 388.95 L312.90 388.39 L313.45 387.83 L314.01 387.28 L314.57 386.74 L315.12 386.20 L315.68 385.66 L316.24 385.14 L316.79 384.62 L317.35 384.10 L317.91 383.59 L318.46 383.09 L319.02 382.60 L319.58 382.10 L320.13 381.62 L320.69 381.14 L321.25 380.67 L321.80 380.20 L322.36 379.74 L322.92 379.28 L323.47 378.83 L324.03 378.39 L324.59 377.95 L325.14 377.52 L325.70 377.09 L326.26 376.67 L326.81 376.25 L327.37 375.84 L327.93 375.44 L328.48 375.04 L329.04 374.64 L329.60 374.25 L330.15 373.87 L330.71 373.49 L331.27 373.12 L331.82 372.75 L332.38 372.39 L332.94 372.03 L333.49 371.68 L334.05 371.33 L334.61 370.99 L335.16 370.65 L335.72 370.32 L336.28 369.99 L336.83 369.66 L337.39 369.35 L337.95 369.03 L338.50 368.72 L339.06 368.42 L339.62 368.12 L340.17 367.82 L340.73 367.53 L341.29 367.24 L341.84 366.96 L342.40 366.68 L342.96 366.41 L343.51 366.14 L344.07 365.88 L344.63 365.62 L345.18 365.36 L345.74 365.11 L346.30 364.86 L346.85 364.61 L347.41 364.37 L347.97 364.14 L348.52 363.91 L349.08 363.68 L349.64 363.45 L350.19 363.23 L350.75 363.01 L351.31 362.80 L351.86 362.59 L352.42 362.38 L352.98 362.18 L353.53 361.98 L354.09 361.78 L354.65 361.59 L355.20 361.40 L355.76 361.22 L356.32 361.03 L356.87 360.85 L357.43 360.68 L357.99 360.50 L358.54 360.33 L359.10 360.17 L359.66 360.00 L360.21 359.84 L360.77 359.69 L361.33 359.53 L361.88 359.38 L362.44 359.23 L363.00 359.08 L363.55 358.94 L364.11 358.80 L364.67 358.66 L365.22 358.52 L365.78 358.39 L366.34 358.26 L366.89 358.13 L367.45 358.01 L368.01 357.88 L368.56 357.76 L369.12 357.64 L369.68 357.53 L370.23 357.41 L370.79 357.30 L371.35 357.19 L371.90 357.09 L372.46 356.98 L373.02 356.88 L373.57 356.78 L374.13 356.68 L374.69 356.58 L375.24 356.49 L375.80 356.39 L376.36 356.30 L376.91 356.21 L377.47 356.13 L378.03 356.04 L378.58 355.96 L379.14 355.88 L379.70 355.80 L380.25 355.72 L380.81 355.64 L381.37 355.57 L381.92 355.49 L382.48 355.42 L383.04 355.35 L383.59 355.28 L384.15 355.22 L384.71 355.15 L385.26 355.09 L385.82 355.02 L386.38 354.96 L386.93 354.90 L387.49 354.84 L388.05 354.79 L388.60 354.73 L389.16 354.68 L389.72 354.62 L390.27 354.57 L390.83 354.52 L391.39 354.47 L391.94 354.42 L392.50 354.37 L393.06 354.33 L393.61 354.28 L394.17 354.24 L394.73 354.19 L395.28 354.15 L395.84 354.11 L396.40 354.07 L396.95 354.03 L397.51 353.99 L398.07 353.95 L398.62 353.92 L399.18 353.88 L399.74 353.85 L400.29 353.81 L400.85 353.78 L401.41 353.75 L401.96 353.72 L402.52 353.68 L403.08 353.65 L403.63 353.63 L404.19 353.60 L404.75 353.57 L405.30 353.54 L405.86 353.52 L406.42 353.49 L406.97 353.46 L407.53 353.44 L408.09 353.42 L408.64 353.39 L409.20 353.37" fill="none" stroke="#0000ff" stroke-width="3.30" clip-path="url(#c01)" stroke-linejoin="round"/>
<path d="M75.20 655.83 L75.76 655.81 L76.31 655.78 L76.87 655.76 L77.43 655.74 L77.98 655.71 L78.54 655.68 L79.10 655.66 L79.65 655.63 L80.21 655.60 L80.77 655.57 L81.32 655.55 L81.88 655.52 L82.44 655.48 L82.99 655.45 L83.55 655.42 L84.11 655.39 L84.66 655.35 L85.22 655.32 L85.78 655.28 L86.33 655.25 L86.89 655.21 L87.45 655.17 L88.00 655.13 L88.56 655.09 L89.12 655.05 L89.67 655.01 L90.23 654.96 L90.79 654.92 L91.34 654.87 L91.90 654.83 L92.46 654.78 L93.01 654.73 L93.57 654.68 L94.13 654.63 L94.68 654.58 L95.24 654.52 L95.80 654.47 L96.35 654.41 L96.91 654.36 L97.47 654.30 L98.02 654.24 L98.58 654.18 L99.14 654.11 L99.69 654.05 L100.25 653.98 L100.81 653.92 L101.36 653.85 L101.92 653.78 L102.48 653.71 L103.03 653.63 L103.59 653.56 L104.15 653.48 L104.70 653.40 L105.26 653.32 L105.82 653.24 L106.37 653.16 L106.93 653.07 L107.49 652.99 L108.04 652.90 L108.60 652.81 L109.16 652.71 L109.71 652.62 L110.27 652.52 L110.83 652.42 L111.38 652.32 L111.94 652.22 L112.50 652.11 L113.05 652.01 L113.61 651.90 L114.17 651.79 L114.72 651.67 L115.28 651.56 L115.84 651.44 L116.39 651.32 L116.95 651.19 L117.51 651.07 L118.06 650.94 L118.62 650.81 L119.18 650.68 L119.73 650.54 L120.29 650.40 L120.85 650.26 L121.40 650.12 L121.96 649.97 L122.52 649.82 L123.07 649.67 L123.63 649.51 L124.19 649.36 L124.74 649.20 L125.30 649.03 L125.86 648.87 L126.41 648.70 L126.97 648.52 L127.53 648.35 L128.08 648.17 L128.64 647.98 L129.20 647.80 L129.75 647.61 L130.31 647.42 L130.87 647.22 L131.42 647.02 L131.98 646.82 L132.54 646.61 L133.09 646.40 L133.65 646.19 L134.21 645.97 L134.76 645.75 L135.32 645.52 L135.88 645.29 L136.43 645.06 L136.99 644.83 L137.55 644.59 L138.10 644.34 L138.66 644.09 L139.22 643.84 L139.77 643.58 L140.33 643.32 L140.89 643.06 L141.44 642.79 L142.00 642.52 L142.56 642.24 L143.11 641.96 L143.67 641.67 L144.23 641.38 L144.78 641.08 L145.34 640.78 L145.90 640.48 L146.45 640.17 L147.01 639.85 L147.57 639.54 L148.12 639.21 L148.68 638.88 L149.24 638.55 L149.79 638.21 L150.35 637.87 L150.91 637.52 L151.46 637.17 L152.02 636.81 L152.58 636.45 L153.13 636.08 L153.69 635.71 L154.25 635.33 L154.80 634.95 L155.36 634.56 L155.92 634.16 L156.47 633.76 L157.03 633.36 L157.59 632.95 L158.14 632.53 L158.70 632.11 L159.26 631.68 L159.81 631.25 L160.37 630.81 L160.93 630.37 L161.48 629.92 L162.04 629.46 L162.60 629.00 L163.15 628.53 L163.71 628.06 L164.27 627.58 L164.82 627.10 L165.38 626.60 L165.94 626.11 L166.49 625.61 L167.05 625.10 L167.61 624.58 L168.16 624.06 L168.72 623.54 L169.28 623.00 L169.83 622.46 L170.39 621.92 L170.95 621.37 L171.50 620.81 L172.06 620.25 L172.62 619.68 L173.17 619.10 L173.73 618.52 L174.29 617.93 L174.84 617.33 L175.40 616.73 L175.96 616.13 L176.51 615.51 L177.07 614.89 L177.63 614.27 L178.18 613.63 L178.74 612.99 L179.30 612.35 L179.85 611.69 L180.41 611.04 L180.97 610.37 L181.52 609.70 L182.08 609.02 L182.64 608.34 L183.19 607.65 L183.75 606.95 L184.31 606.25 L184.86 605.54 L185.42 604.82 L185.98 604.10 L186.53 603.37 L187.09 602.63 L187.65 601.89 L188.20 601.14 L188.76 600.39 L189.32 599.63 L189.87 598.86 L190.43 598.09 L190.99 597.31 L191.54 596.52 L192.10 595.73 L192.66 594.93 L193.21 594.12 L193.77 593.31 L194.33 592.49 L194.88 591.67 L195.44 590.84 L196.00 590.01 L196.55 589.16 L197.11 588.32 L197.67 587.46 L198.22 586.60 L198.78 585.74 L199.34 584.86 L199.89 583.99 L200.45 583.10 L201.01 582.21 L201.56 581.32 L202.12 580.42 L202.68 579.51 L203.23 578.60 L203.79 577.68 L204.35 576.76 L204.90 575.83 L205.46 574.90 L206.02 573.96 L206.57 573.01 L207.13 572.06 L207.69 571.11 L208.24 570.15 L208.80 569.18 L209.36 568.21 L209.91 567.23 L210.47 566.25 L211.03 565.27 L211.58 564.28 L212.14 563.28 L212.70 562.28 L213.25 561.28 L213.81 560.27 L214.37 559.25 L214.92 558.24 L215.48 557.21 L216.04 556.19 L216.59 555.16 L217.15 554.12 L217.71 553.08 L218.26 552.04 L218.82 550.99 L219.38 549.94 L219.93 548.89 L220.49 547.83 L221.05 546.77 L221.60 545.70 L222.16 544.63 L222.72 543.56 L223.27 542.48 L223.83 541.40 L224.39 540.32 L224.94 539.24 L225.50 538.15 L226.06 537.06 L226.61 535.96 L227.17 534.87 L227.73 533.77 L228.28 532.67 L228.84 531.56 L229.40 530.46 L229.95 529.35 L230.51 528.24 L231.07 527.13 L231.62 526.01 L232.18 524.90 L232.74 523.78 L233.29 522.66 L233.85 521.54 L234.41 520.42 L234.96 519.29 L235.52 518.17 L236.08 517.04 L236.63 515.91 L237.19 514.78 L237.75 513.66 L238.30 512.53 L238.86 511.39 L239.42 510.26 L239.97 509.13 L240.53 508.00 L241.09 506.87 L241.64 505.73 L242.20 504.60 L242.76 503.47 L243.31 502.33 L243.87 501.20 L244.43 500.07 L244.98 498.94 L245.54 497.81 L246.10 496.67 L246.65 495.54 L247.21 494.42 L247.77 493.29 L248.32 492.16 L248.88 491.03 L249.44 489.91 L249.99 488.78 L250.55 487.66 L251.11 486.54 L251.66 485.42 L252.22 484.30 L252.78 483.19 L253.33 482.07 L253.89 480.96 L254.45 479.85 L255.00 478.74 L255.56 477.64 L256.12 476.53 L256.67 475.43 L257.23 474.33 L257.79 473.24 L258.34 472.14 L258.90 471.05 L259.46 469.96 L260.01 468.88 L260.57 467.80 L261.13 466.72 L261.68 465.64 L262.24 464.57 L262.80 463.50 L263.35 462.43 L263.91 461.37 L264.47 460.31 L265.02 459.26 L265.58 458.21 L266.14 457.16 L266.69 456.12 L267.25 455.08 L267.81 454.04 L268.36 453.01 L268.92 451.99 L269.48 450.96 L270.03 449.95 L270.59 448.93 L271.15 447.92 L271.70 446.92 L272.26 445.92 L272.82 444.92 L273.37 443.93 L273.93 442.95 L274.49 441.97 L275.04 440.99 L275.60 440.02 L276.16 439.05 L276.71 438.09 L277.27 437.14 L277.83 436.19 L278.38 435.24 L278.94 434.30 L279.50 433.37 L280.05 432.44 L280.61 431.52 L281.17 430.60 L281.72 429.69 L282.28 428.78 L282.84 427.88 L283.39 426.99 L283.95 426.10 L284.51 425.21 L285.06 424.34 L285.62 423.46 L286.18 422.60 L286.73 421.74 L287.29 420.88 L287.85 420.04 L288.40 419.19 L288.96 418.36 L289.52 417.53 L290.07 416.71 L290.63 415.89 L291.19 415.08 L291.74 414.27 L292.30 413.47 L292.86 412.68 L293.41 411.89 L293.97 411.11 L294.53 410.34 L295.08 409.57 L295.64 408.81 L296.20 408.06 L296.75 407.31 L297.31 406.57 L297.87 405.83 L298.42 405.10 L298.98 404.38 L299.54 403.66 L300.09 402.95 L300.65 402.25 L301.21 401.55 L301.76 400.86 L302.32 400.18 L302.88 399.50 L303.43 398.83 L303.99 398.16 L304.55 397.51 L305.10 396.85 L305.66 396.21 L306.22 395.57 L306.77 394.93 L307.33 394.31 L307.89 393.69 L308.44 393.07 L309.00 392.47 L309.56 391.87 L310.11 391.27 L310.67 390.68 L311.23 390.10 L311.78 389.52 L312.34 388.95 L312.90 388.39 L313.45 387.83 L314.01 387.28 L314.57 386.74 L315.12 386.20 L315.68 385.66 L316.24 385.14 L316.79 384.62 L317.35 384.10 L317.91 383.59 L318.46 383.09 L319.02 382.60 L319.58 382.10 L320.13 381.62 L320.69 381.14 L321.25 380.67 L321.80 380.20 L322.36 379.74 L322.92 379.28 L323.47 378.83 L324.03 378.39 L324.59 377.95 L325.14 377.52 L325.70 377.09 L326.26 376.67 L326.81 376.25 L327.37 375.84 L327.93 375.44 L328.48 375.04 L329.04 374.64 L329.60 374.25 L330.15 373.87 L330.71 373.49 L331.27 373.12 L331.82 372.75 L332.38 372.39 L332.94 372.03 L333.49 371.68 L334.05 371.33 L334.61 370.99 L335.16 370.65 L335.72 370.32 L336.28 369.99 L336.83 369.66 L337.39 369.35 L337.95 369.03 L338.50 368.72 L339.06 368.42 L339.62 368.12 L340.17 367.82 L340.73 367.53 L341.29 367.24 L341.84 366.96 L342.40 366.68 L342.96 366.41 L343.51 366.14 L344.07 365.88 L344.63 365.62 L345.18 365.36 L345.74 365.11 L346.30 364.86 L346.85 364.61 L347.41 364.37 L347.97 364.14 L348.52 363.91 L349.08 363.68 L349.64 363.45 L350.19 363.23 L350.75 363.01 L351.31 362.80 L351.86 362.59 L352.42 362.38 L352.98 362.18 L353.53 361.98 L354.09 361.78 L354.65 361.59 L355.20 361.40 L355.76 361.22 L356.32 361.03 L356.87 360.85 L357.43 360.68 L357.99 360.50 L358.54 360.33 L359.10 360.17 L359.66 360.00 L360.21 359.84 L360.77 359.69 L361.33 359.53 L361.88 359.38 L362.44 359.23 L363.00 359.08 L363.55 358.94 L364.11 358.80 L364.67 358.66 L365.22 358.52 L365.78 358.39 L366.34 358.26 L366.89 358.13 L367.45 358.01 L368.01 357.88 L368.56 357.76 L369.12 357.64 L369.68 357.53 L370.23 357.41 L370.79 357.30 L371.35 357.19 L371.90 357.09 L372.46 356.98 L373.02 356.88 L373.57 356.78 L374.13 356.68 L374.69 356.58 L375.24 356.49 L375.80 356.39 L376.36 356.30 L376.91 356.21 L377.47 356.13 L378.03 356.04 L378.58 355.96 L379.14 355.88 L379.70 355.80 L380.25 355.72 L380.81 355.64 L381.37 355.57 L381.92 355.49 L382.48 355.42 L383.04 355.35 L383.59 355.28 L384.15 355.22 L384.71 355.15 L385.26 355.09 L385.82 355.02 L386.38 354.96 L386.93 354.90 L387.49 354.84 L388.05 354.79 L388.60 354.73 L389.16 354.68 L389.72 354.62 L390.27 354.57 L390.83 354.52 L391.39 354.47 L391.94 354.42 L392.50 354.37 L393.06 354.33 L393.61 354.28 L394.17 354.24 L394.73 354.19 L395.28 354.15 L395.84 354.11 L396.40 354.07 L396.95 354.03 L397.51 353.99 L398.07 353.95 L398.62 353.92 L399.18 353.88 L399.74 353.85 L400.29 353.81 L400.85 353.78 L401.41 353.75 L401.96 353.72 L402.52 353.68 L403.08 353.65 L403.63 353.63 L404.19 353.60 L404.75 353.57 L405.30 353.54 L405.86 353.52 L406.42 353.49 L406.97 353.46 L407.53 353.44 L408.09 353.42 L408.64 353.39 L409.20 353.37" fill="none" stroke="#ff0000" stroke-width="3.30" stroke-dasharray="10.48 10.48" stroke-dashoffset="0.00" clip-path="url(#c01)" stroke-linejoin="round"/>
<path d="M75.20 655.83 L75.76 655.81 L76.31 655.78 L76.87 655.76 L77.43 655.74 L77.98 655.71 L78.54 655.68 L79.10 655.66 L79.65 655.63 L80.21 655.60 L80.77 655.57 L81.32 655.55 L81.88 655.52 L82.44 655.48 L82.99 655.45 L83.55 655.42 L84.11 655.39 L84.66 655.35 L85.22 655.32 L85.78 655.28 L86.33 655.25 L86.89 655.21 L87.45 655.17 L88.00 655.13 L88.56 655.09 L89.12 655.05 L89.67 655.01 L90.23 654.96 L90.79 654.92 L91.34 654.87 L91.90 654.83 L92.46 654.78 L93.01 654.73 L93.57 654.68 L94.13 654.63 L94.68 654.58 L95.24 654.52 L95.80 654.47 L96.35 654.41 L96.91 654.36 L97.47 654.30 L98.02 654.24 L98.58 654.18 L99.14 654.11 L99.69 654.05 L100.25 653.98 L100.81 653.92 L101.36 653.85 L101.92 653.78 L102.48 653.71 L103.03 653.63 L103.59 653.56 L104.15 653.48 L104.70 653.40 L105.26 653.32 L105.82 653.24 L106.37 653.16 L106.93 653.07 L107.49 652.99 L108.04 652.90 L108.60 652.81 L109.16 652.71 L109.71 652.62 L110.27 652.52 L110.83 652.42 L111.38 652.32 L111.94 652.22 L112.50 652.11 L113.05 652.01 L113.61 651.90 L114.17 651.79 L114.72 651.67 L115.28 651.56 L115.84 651.44 L116.39 651.32 L116.95 651.19 L117.51 651.07 L118.06 650.94 L118.62 650.81 L119.18 650.68 L119.73 650.54 L120.29 650.40 L120.85 650.26 L121.40 650.12 L121.96 649.97 L122.52 649.82 L123.07 649.67 L123.63 649.51 L124.19 649.36 L124.74 649.20 L125.30 649.03 L125.86 648.87 L126.41 648.70 L126.97 648.52 L127.53 648.35 L128.08 648.17 L128.64 647.98 L129.20 647.80 L129.75 647.61 L130.31 647.42 L130.87 647.22 L131.42 647.02 L131.98 646.82 L132.54 646.61 L133.09 646.40 L133.65 646.19 L134.21 645.97 L134.76 645.75 L135.32 645.52 L135.88 645.29 L136.43 645.06 L136.99 644.83 L137.55 644.59 L138.10 644.34 L138.66 644.09 L139.22 643.84 L139.77 643.58 L140.33 643.32 L140.89 643.06 L141.44 642.79 L142.00 642.52 L142.56 642.24 L143.11 641.96 L143.67 641.67 L144.23 641.38 L144.78 641.08 L145.34 640.78 L145.90 640.48 L146.45 640.17 L147.01 639.85 L147.57 639.54 L148.12 639.21 L148.68 638.88 L149.24 638.55 L149.79 638.21 L150.35 637.87 L150.91 637.52 L151.46 637.17 L152.02 636.81 L152.58 636.45 L153.13 636.08 L153.69 635.71 L154.25 635.33 L154.80 634.95 L155.36 634.56 L155.92 634.16 L156.47 633.76 L157.03 633.36 L157.59 632.95 L158.14 632.53 L158.70 632.11 L159.26 631.68 L159.81 631.25 L160.37 630.81 L160.93 630.37 L161.48 629.92 L162.04 629.46 L162.60 629.00 L163.15 628.53 L163.71 628.06 L164.27 627.58 L164.82 627.10 L165.38 626.60 L165.94 626.11 L166.49 625.61 L167.05 625.10 L167.61 624.58 L168.16 624.06 L168.72 623.54 L169.28 623.00 L169.83 622.46 L170.39 621.92 L170.95 621.37 L171.50 620.81 L172.06 620.25 L172.62 619.68 L173.17 619.10 L173.73 618.52 L174.29 617.93 L174.84 617.33 L175.40 616.73 L175.96 616.13 L176.51 615.51 L177.07 614.89 L177.63 614.27 L178.18 613.63 L178.74 612.99 L179.30 612.35 L179.85 611.69 L180.41 611.04 L180.97 610.37 L181.52 609.70 L182.08 609.02 L182.64 608.34 L183.19 607.65 L183.75 606.95 L184.31 606.25 L184.86 605.54 L185.42 604.82 L185.98 604.10 L186.53 603.37 L187.09 602.63 L187.65 601.89 L188.20 601.14 L188.76 600.39 L189.32 599.63 L189.87 598.86 L190.43 598.09 L190.99 597.31 L191.54 596.52 L192.10 595.73 L192.66 594.93 L193.21 594.12 L193.77 593.31 L194.33 592.49 L194.88 591.67 L195.44 590.84 L196.00 590.01 L196.55 589.16 L197.11 588.32 L197.67 587.46 L198.22 586.60 L198.78 585.74 L199.34 584.86 L199.89 583.99 L200.45 583.10 L201.01 582.21 L201.56 581.32 L202.12 580.42 L202.68 579.51 L203.23 578.60 L203.79 577.68 L204.35 576.76 L204.90 575.83 L205.46 574.90 L206.02 573.96 L206.57 573.01 L207.13 572.06 L207.69 571.11 L208.24 570.15 L208.80 569.18 L209.36 568.21 L209.91 567.23 L210.47 566.25 L211.03 565.27 L211.58 564.28 L212.14 563.28 L212.70 562.28 L213.25 561.28 L213.81 560.27 L214.37 559.25 L214.92 558.24 L215.48 557.21 L216.04 556.19 L216.59 555.16 L217.15 554.12 L217.71 553.08 L218.26 552.04 L218.82 550.99 L219.38 549.94 L219.93 548.89 L220.49 547.83 L221.05 546.77 L221.60 545.70 L222.16 544.63 L222.72 543.56 L223.27 542.48 L223.83 541.40 L224.39 540.32 L224.94 539.24 L225.50 538.15 L226.06 537.06 L226.61 535.96 L227.17 534.87 L227.73 533.77 L228.28 532.67 L228.84 531.56 L229.40 530.46 L229.95 529.35 L230.51 528.24 L231.07 527.13 L231.62 526.01 L232.18 524.90 L232.74 523.78 L233.29 522.66 L233.85 521.54 L234.41 520.42 L234.96 519.29 L235.52 518.17 L236.08 517.04 L236.63 515.91 L237.19 514.78 L237.75 513.66 L238.30 512.53 L238.86 511.39 L239.42 510.26 L239.97 509.13 L240.53 508.00 L241.09 506.87 L241.64 505.73 L242.20 504.60 L242.76 503.47 L243.31 502.33 L243.87 501.20 L244.43 500.07 L244.98 498.94 L245.54 497.81 L246.10 496.67 L246.65 495.54 L247.21 494.42 L247.77 493.29 L248.32 492.16 L248.88 491.03 L249.44 489.91 L249.99 488.78 L250.55 487.66 L251.11 486.54 L251.66 485.42 L252.22 484.30 L252.78 483.19 L253.33 482.07 L253.89 480.96 L254.45 479.85 L255.00 478.74 L255.56 477.64 L256.12 476.53 L256.67 475.43 L257.23 474.33 L257.79 473.24 L258.34 472.14 L258.90 471.05 L259.46 469.96 L260.01 468.88 L260.57 467.80 L261.13 466.72 L261.68 465.64 L262.24 464.57 L262.80 463.50 L263.35 462.43 L263.91 461.37 L264.47 460.31 L265.02 459.26 L265.58 458.21 L266.14 457.16 L266.69 456.12 L267.25 455.08 L267.81 454.04 L268.36 453.01 L268.92 451.99 L269.48 450.96 L270.03 449.95 L270.59 448.93 L271.15 447.92 L271.70 446.92 L272.26 445.92 L272.82 444.92 L273.37 443.93 L273.93 442.95 L274.49 441.97 L275.04 440.99 L275.60 440.02 L276.16 439.05 L276.71 438.09 L277.27 437.14 L277.83 436.19 L278.38 435.24 L278.94 434.30 L279.50 433.37 L280.05 432.44 L280.61 431.52 L281.17 430.60 L281.72 429.69 L282.28 428.78 L282.84 427.88 L283.39 426.99 L283.95 426.10 L284.51 425.21 L285.06 424.34 L285.62 423.46 L286.18 422.60 L286.73 421.74 L287.29 420.88 L287.85 420.04 L288.40 419.19 L288.96 418.36 L289.52 417.53 L290.07 416.71 L290.63 415.89 L291.19 415.08 L291.74 414.27 L292.30 413.47 L292.86 412.68 L293.41 411.89 L293.97 411.11 L294.53 410.34 L295.08 409.57 L295.64 408.81 L296.20 408.06 L296.75 407.31 L297.31 406.57 L297.87 405.83 L298.42 405.10 L298.98 404.38 L299.54 403.66 L300.09 402.95 L300.65 402.25 L301.21 401.55 L301.76 400.86 L302.32 400.18 L302.88 399.50 L303.43 398.83 L303.99 398.16 L304.55 397.51 L305.10 396.85 L305.66 396.21 L306.22 395.57 L306.77 394.93 L307.33 394.31 L307.89 393.69 L308.44 393.07 L309.00 392.47 L309.56 391.87 L310.11 391.27 L310.67 390.68 L311.23 390.10 L311.78 389.52 L312.34 388.95 L312.90 388.39 L313.45 387.83 L314.01 387.28 L314.57 386.74 L315.12 386.20 L315.68 385.66 L316.24 385.14 L316.79 384.62 L317.35 384.10 L317.91 383.59 L318.46 383.09 L319.02 382.60 L319.58 382.10 L320.13 381.62 L320.69 381.14 L321.25 380.67 L321.80 380.20 L322.36 379.74 L322.92 379.28 L323.47 378.83 L324.03 378.39 L324.59 377.95 L325.14 377.52 L325.70 377.09 L326.26 376.67 L326.81 376.25 L327.37 375.84 L327.93 375.44 L328.48 375.04 L329.04 374.64 L329.60 374.25 L330.15 373.87 L330.71 373.49 L331.27 373.12 L331.82 372.75 L332.38 372.39 L332.94 372.03 L333.49 371.68 L334.05 371.33 L334.61 370.99 L335.16 370.65 L335.72 370.32 L336.28 369.99 L336.83 369.66 L337.39 369.35 L337.95 369.03 L338.50 368.72 L339.06 368.42 L339.62 368.12 L340.17 367.82 L340.73 367.53 L341.29 367.24 L341.84 366.96 L342.40 366.68 L342.96 366.41 L343.51 366.14 L344.07 365.88 L344.63 365.62 L345.18 365.36 L345.74 365.11 L346.30 364.86 L346.85 364.61 L347.41 364.37 L347.97 364.14 L348.52 363.91 L349.08 363.68 L349.64 363.45 L350.19 363.23 L350.75 363.01 L351.31 362.80 L351.86 362.59 L352.42 362.38 L352.98 362.18 L353.53 361.98 L354.09 361.78 L354.65 361.59 L355.20 361.40 L355.76 361.22 L356.32 361.03 L356.87 360.85 L357.43 360.68 L357.99 360.50 L358.54 360.33 L359.10 360.17 L359.66 360.00 L360.21 359.84 L360.77 359.69 L361.33 359.53 L361.88 359.38 L362.44 359.23 L363.00 359.08 L363.55 358.94 L364.11 358.80 L364.67 358.66 L365.22 358.52 L365.78 358.39 L366.34 358.26 L366.89 358.13 L367.45 358.01 L368.01 357.88 L368.56 357.76 L369.12 357.64 L369.68 357.53 L370.23 357.41 L370.79 357.30 L371.35 357.19 L371.90 357.09 L372.46 356.98 L373.02 356.88 L373.57 356.78 L374.13 356.68 L374.69 356.58 L375.24 356.49 L375.80 356.39 L376.36 356.30 L376.91 356.21 L377.47 356.13 L378.03 356.04 L378.58 355.96 L379.14 355.88 L379.70 355.80 L380.25 355.72 L380.81 355.64 L381.37 355.57 L381.92 355.49 L382.48 355.42 L383.04 355.35 L383.59 355.28 L384.15 355.22 L384.71 355.15 L385.26 355.09 L385.82 355.02 L386.38 354.96 L386.93 354.90 L387.49 354.84 L388.05 354.79 L388.60 354.73 L389.16 354.68 L389.72 354.62 L390.27 354.57 L390.83 354.52 L391.39 354.47 L391.94 354.42 L392.50 354.37 L393.06 354.33 L393.61 354.28 L394.17 354.24 L394.73 354.19 L395.28 354.15 L395.84 354.11 L396.40 354.07 L396.95 354.03 L397.51 353.99 L398.07 353.95 L398.62 353.92 L399.18 353.88 L399.74 353.85 L400.29 353.81 L400.85 353.78 L401.41 353.75 L401.96 353.72 L402.52 353.68 L403.08 353.65 L403.63 353.63 L404.19 353.60 L404.75 353.57 L405.30 353.54 L405.86 353.52 L406.42 353.49 L406.97 353.46 L407.53 353.44 L408.09 353.42 L408.64 353.39 L409.20 353.37" fill="none" stroke="#008000" stroke-width="3.30" stroke-dasharray="5.24 8.74 1.75 8.74" stroke-dashoffset="0.00" clip-path="url(#c01)" stroke-linejoin="round"/>
<path d="M75.20 655.83 L75.76 655.81 L76.31 655.78 L76.87 655.76 L77.43 655.74 L77.98 655.71 L78.54 655.68 L79.10 655.66 L79.65 655.63 L80.21 655.60 L80.77 655.57 L81.32 655.55 L81.88 655.52 L82.44 655.48 L82.99 655.45 L83.55 655.42 L84.11 655.39 L84.66 655.35 L85.22 655.32 L85.78 655.28 L86.33 655.25 L86.89 655.21 L87.45 655.17 L88.00 655.13 L88.56 655.09 L89.12 655.05 L89.67 655.01 L90.23 654.96 L90.79 654.92 L91.34 654.87 L91.90 654.83 L92.46 654.78 L93.01 654.73 L93.57 654.68 L94.13 654.63 L94.68 654.58 L95.24 654.52 L95.80 654.47 L96.35 654.41 L96.91 654.36 L97.47 654.30 L98.02 654.24 L98.58 654.18 L99.14 654.11 L99.69 654.05 L100.25 653.98 L100.81 653.92 L101.36 653.85 L101.92 653.78 L102.48 653.71 L103.03 653.63 L103.59 653.56 L104.15 653.48 L104.70 653.40 L105.26 653.32 L105.82 653.24 L106.37 653.16 L106.93 653.07 L107.49 652.99 L108.04 652.90 L108.60 652.81 L109.16 652.71 L109.71 652.62 L110.27 652.52 L110.83 652.42 L111.38 652.32 L111.94 652.22 L112.50 652.11 L113.05 652.01 L113.61 651.90 L114.17 651.79 L114.72 651.67 L115.28 651.56 L115.84 651.44 L116.39 651.32 L116.95 651.19 L117.51 651.07 L118.06 650.94 L118.62 650.81 L119.18 650.68 L119.73 650.54 L120.29 650.40 L120.85 650.26 L121.40 650.12 L121.96 649.97 L122.52 649.82 L123.07 649.67 L123.63 649.51 L124.19 649.36 L124.74 649.20 L125.30 649.03 L125.86 648.87 L126.41 648.70 L126.97 648.52 L127.53 648.35 L128.08 648.17 L128.64 647.98 L129.20 647.80 L129.75 647.61 L130.31 647.42 L130.87 647.22 L131.42 647.02 L131.98 646.82 L132.54 646.61 L133.09 646.40 L133.65 646.19 L134.21 645.97 L134.76 645.75 L135.32 645.52 L135.88 645.29 L136.43 645.06 L136.99 644.83 L137.55 644.59 L138.10 644.34 L138.66 644.09 L139.22 643.84 L139.77 643.58 L140.33 643.32 L140.89 643.06 L141.44 642.79 L142.00 642.52 L142.56 642.24 L143.11 641.96 L143.67 641.67 L144.23 641.38 L144.78 641.08 L145.34 640.78 L145.90 640.48 L146.45 640.17 L147.01 639.85 L147.57 639.54 L148.12 639.21 L148.68 638.88 L149.24 638.55 L149.79 638.21 L150.35 637.87 L150.91 637.52 L151.46 637.17 L152.02 636.81 L152.58 636.45 L153.13 636.08 L153.69 635.71 L154.25 635.33 L154.80 634.95 L155.36 634.56 L155.92 634.16 L156.47 633.76 L157.03 633.36 L157.59 632.95 L158.14 632.53 L158.70 632.11 L159.26 631.68 L159.81 631.25 L160.37 630.81 L160.93 630.37 L161.48 629.92 L162.04 629.46 L162.60 629.00 L163.15 628.53 L163.71 628.06 L164.27 627.58 L164.82 627.10 L165.38 626.60 L165.94 626.11 L166.49 625.61 L167.05 625.10 L167.61 624.58 L168.16 624.06 L168.72 623.54 L169.28 623.00 L169.83 622.46 L170.39 621.92 L170.95 621.37 L171.50 620.81 L172.06 620.25 L172.62 619.68 L173.17 619.10 L173.73 618.52 L174.29 617.93 L174.84 617.33 L175.40 616.73 L175.96 616.13 L176.51 615.51 L177.07 614.89 L177.63 614.27 L178.18 613.63 L178.74 612.99 L179.30 612.35 L179.85 611.69 L180.41 611.04 L180.97 610.37 L181.52 609.70 L182.08 609.02 L182.64 608.34 L183.19 607.65 L183.75 606.95 L184.31 606.25 L184.86 605.54 L185.42 604.82 L185.98 604.10 L186.53 603.37 L187.09 602.63 L187.65 601.89 L188.20 601.14 L188.76 600.39 L189.32 599.63 L189.87 598.86 L190.43 598.09 L190.99 597.31 L191.54 596.52 L192.10 595.73 L192.66 594.93 L193.21 594.12 L193.77 593.31 L194.33 592.49 L194.88 591.67 L195.44 590.84 L196.00 590.01 L196.55 589.16 L197.11 588.32 L197.67 587.46 L198.22 586.60 L198.78 585.74 L199.34 584.86 L199.89 583.99 L200.45 583.10 L201.01 582.21 L201.56 581.32 L202.12 580.42 L202.68 579.51 L203.23 578.60 L203.79 577.68 L204.35 576.76 L204.90 575.83 L205.46 574.90 L206.02 573.96 L206.57 573.01 L207.13 572.06 L207.69 571.11 L208.24 570.15 L208.80 569.18 L209.36 568.21 L209.91 567.23 L210.47 566.25 L211.03 565.27 L211.58 564.28 L212.14 563.28 L212.70 562.28 L213.25 561.28 L213.81 560.27 L214.37 559.25 L214.92 558.24 L215.48 557.21 L216.04 556.19 L216.59 555.16 L217.15 554.12 L217.71 553.08 L218.26 552.04 L218.82 550.99 L219.38 549.94 L219.93 548.89 L220.49 547.83 L221.05 546.77 L221.60 545.70 L222.16 544.63 L222.72 543.56 L223.27 542.48 L223.83 541.40 L224.39 540.32 L224.94 539.24 L225.50 538.15 L226.06 537.06 L226.61 535.96 L227.17 534.87 L227.73 533.77 L228.28 532.67 L228.84 531.56 L229.40 530.46 L229.95 529.35 L230.51 528.24 L231.07 527.13 L231.62 526.01 L232.18 524.90 L232.74 523.78 L233.29 522.66 L233.85 521.54 L234.41 520.42 L234.96 519.29 L235.52 518.17 L236.08 517.04 L236.63 515.91 L237.19 514.78 L237.75 513.66 L238.30 512.53 L238.86 511.39 L239.42 510.26 L239.97 509.13 L240.53 508.00 L241.09 506.87 L241.64 505.73 L242.20 504.60 L242.76 503.47 L243.31 502.33 L243.87 501.20 L244.43 500.07 L244.98 498.94 L245.54 497.81 L246.10 496.67 L246.65 495.54 L247.21 494.42 L247.77 493.29 L248.32 492.16 L248.88 491.03 L249.44 489.91 L249.99 488.78 L250.55 487.66 L251.11 486.54 L251.66 485.42 L252.22 484.30 L252.78 483.19 L253.33 482.07 L253.89 480.96 L254.45 479.85 L255.00 478.74 L255.56 477.64 L256.12 476.53 L256.67 475.43 L257.23 474.33 L257.79 473.24 L258.34 472.14 L258.90 471.05 L259.46 469.96 L260.01 468.88 L260.57 467.80 L261.13 466.72 L261.68 465.64 L262.24 464.57 L262.80 463.50 L263.35 462.43 L263.91 461.37 L264.47 460.31 L265.02 459.26 L265.58 458.21 L266.14 457.16 L266.69 456.12 L267.25 455.08 L267.81 454.04 L268.36 453.01 L268.92 451.99 L269.48 450.96 L270.03 449.95 L270.59 448.93 L271.15 447.92 L271.70 446.92 L272.26 445.92 L272.82 444.92 L273.37 443.93 L273.93 442.95 L274.49 441.97 L275.04 440.99 L275.60 440.02 L276.16 439.05 L276.71 438.09 L277.27 437.14 L277.83 436.19 L278.38 435.24 L278.94 434.30 L279.50 433.37 L280.05 432.44 L280.61 431.52 L281.17 430.60 L281.72 429.69 L282.28 428.78 L282.84 427.88 L283.39 426.99 L283.95 426.10 L284.51 425.21 L285.06 424.34 L285.62 423.46 L286.18 422.60 L286.73 421.74 L287.29 420.88 L287.85 420.04 L288.40 419.19 L288.96 418.36 L289.52 417.53 L290.07 416.71 L290.63 415.89 L291.19 415.08 L291.74 414.27 L292.30 413.47 L292.86 412.68 L293.41 411.89 L293.97 411.11 L294.53 410.34 L295.08 409.57 L295.64 408.81 L296.20 408.06 L296.75 407.31 L297.31 406.57 L297.87 405.83 L298.42 405.10 L298.98 404.38 L299.54 403.66 L300.09 402.95 L300.65 402.25 L301.21 401.55 L301.76 400.86 L302.32 400.18 L302.88 399.50 L303.43 398.83 L303.99 398.16 L304.55 397.51 L305.10 396.85 L305.66 396.21 L306.22 395.57 L306.77 394.93 L307.33 394.31 L307.89 393.69 L308.44 393.07 L309.00 392.47 L309.56 391.87 L310.11 391.27 L310.67 390.68 L311.23 390.10 L311.78 389.52 L312.34 388.95 L312.90 388.39 L313.45 387.83 L314.01 387.28 L314.57 386.74 L315.12 386.20 L315.68 385.66 L316.24 385.14 L316.79 384.62 L317.35 384.10 L317.91 383.59 L318.46 383.09 L319.02 382.60 L319.58 382.10 L320.13 381.62 L320.69 381.14 L321.25 380.67 L321.80 380.20 L322.36 379.74 L322.92 379.28 L323.47 378.83 L324.03 378.39 L324.59 377.95 L325.14 377.52 L325.70 377.09 L326.26 376.67 L326.81 376.25 L327.37 375.84 L327.93 375.44 L328.48 375.04 L329.04 374.64 L329.60 374.25 L330.15 373.87 L330.71 373.49 L331.27 373.12 L331.82 372.75 L332.38 372.39 L332.94 372.03 L333.49 371.68 L334.05 371.33 L334.61 370.99 L335.16 370.65 L335.72 370.32 L336.28 369.99 L336.83 369.66 L337.39 369.35 L337.95 369.03 L338.50 368.72 L339.06 368.42 L339.62 368.12 L340.17 367.82 L340.73 367.53 L341.29 367.24 L341.84 366.96 L342.40 366.68 L342.96 366.41 L343.51 366.14 L344.07 365.88 L344.63 365.62 L345.18 365.36 L345.74 365.11 L346.30 364.86 L346.85 364.61 L347.41 364.37 L347.97 364.14 L348.52 363.91 L349.08 363.68 L349.64 363.45 L350.19 363.23 L350.75 363.01 L351.31 362.80 L351.86 362.59 L352.42 362.38 L352.98 362.18 L353.53 361.98 L354.09 361.78 L354.65 361.59 L355.20 361.40 L355.76 361.22 L356.32 361.03 L356.87 360.85 L357.43 360.68 L357.99 360.50 L358.54 360.33 L359.10 360.17 L359.66 360.00 L360.21 359.84 L360.77 359.69 L361.33 359.53 L361.88 359.38 L362.44 359.23 L363.00 359.08 L363.55 358.94 L364.11 358.80 L364.67 358.66 L365.22 358.52 L365.78 358.39 L366.34 358.26 L366.89 358.13 L367.45 358.01 L368.01 357.88 L368.56 357.76 L369.12 357.64 L369.68 357.53 L370.23 357.41 L370.79 357.30 L371.35 357.19 L371.90 357.09 L372.46 356.98 L373.02 356.88 L373.57 356.78 L374.13 356.68 L374.69 356.58 L375.24 356.49 L375.80 356.39 L376.36 356.30 L376.91 356.21 L377.47 356.13 L378.03 356.04 L378.58 355.96 L379.14 355.88 L379.70 355.80 L380.25 355.72 L380.81 355.64 L381.37 355.57 L381.92 355.49 L382.48 355.42 L383.04 355.35 L383.59 355.28 L384.15 355.22 L384.71 355.15 L385.26 355.09 L385.82 355.02 L386.38 354.96 L386.93 354.90 L387.49 354.84 L388.05 354.79 L388.60 354.73 L389.16 354.68 L389.72 354.62 L390.27 354.57 L390.83 354.52 L391.39 354.47 L391.94 354.42 L392.50 354.37 L393.06 354.33 L393.61 354.28 L394.17 354.24 L394.73 354.19 L395.28 354.15 L395.84 354.11 L396.40 354.07 L396.95 354.03 L397.51 353.99 L398.07 353.95 L398.62 353.92 L399.18 353.88 L399.74 353.85 L400.29 353.81 L400.85 353.78 L401.41 353.75 L401.96 353.72 L402.52 353.68 L403.08 353.65 L403.63 353.63 L404.19 353.60 L404.75 353.57 L405.30 353.54 L405.86 353.52 L406.42 353.49 L406.97 353.46 L407.53 353.44 L408.09 353.42 L408.64 353.39 L409.20 353.37" fill="none" stroke="#000000" stroke-width="3.30" stroke-dasharray="1.75 5.24" stroke-dashoffset="0.00" clip-path="url(#c01)" stroke-linejoin="round"/>
<path d="M413.00 312.41 L413.56 312.31 L414.11 312.20 L414.67 312.10 L415.23 311.99 L415.78 311.88 L416.34 311.76 L416.89 311.65 L417.45 311.54 L418.01 311.42 L418.56 311.30 L419.12 311.18 L419.68 311.06 L420.23 310.94 L420.79 310.81 L421.35 310.68 L421.90 310.56 L422.46 310.43 L423.01 310.30 L423.57 310.16 L424.13 310.03 L424.68 309.89 L425.24 309.75 L425.80 309.61 L426.35 309.47 L426.91 309.33 L427.46 309.18 L428.02 309.03 L428.58 308.88 L429.13 308.73 L429.69 308.58 L430.25 308.42 L430.80 308.27 L431.36 308.11 L431.92 307.95 L432.47 307.79 L433.03 307.62 L433.58 307.45 L434.14 307.29 L434.70 307.11 L435.25 306.94 L435.81 306.77 L436.37 306.59 L436.92 306.41 L437.48 306.23 L438.03 306.05 L438.59 305.86 L439.15 305.67 L439.70 305.48 L440.26 305.29 L440.82 305.09 L441.37 304.90 L441.93 304.70 L442.49 304.50 L443.04 304.29 L443.60 304.09 L444.15 303.88 L444.71 303.67 L445.27 303.46 L445.82 303.24 L446.38 303.02 L446.94 302.80 L447.49 302.58 L448.05 302.36 L448.61 302.13 L449.16 301.90 L449.72 301.67 L450.27 301.43 L450.83 301.19 L451.39 300.95 L451.94 300.71 L452.50 300.47 L453.06 300.22 L453.61 299.97 L454.17 299.71 L454.73 299.46 L455.28 299.20 L455.84 298.94 L456.39 298.68 L456.95 298.41 L457.51 298.14 L458.06 297.87 L458.62 297.59 L459.18 297.32 L459.73 297.04 L460.29 296.75 L460.84 296.47 L461.40 296.18 L461.96 295.89 L462.51 295.59 L463.07 295.30 L463.63 295.00 L464.18 294.69 L464.74 294.39 L465.30 294.08 L465.85 293.77 L466.41 293.45 L466.96 293.14 L467.52 292.82 L468.08 292.49 L468.63 292.17 L469.19 291.84 L469.75 291.50 L470.30 291.17 L470.86 290.83 L471.41 290.49 L471.97 290.14 L472.53 289.80 L473.08 289.45 L473.64 289.09 L474.20 288.73 L474.75 288.37 L475.31 288.01 L475.87 287.64 L476.42 287.27 L476.98 286.90 L477.53 286.52 L478.09 286.15 L478.65 285.76 L479.20 285.38 L479.76 284.99 L480.32 284.60 L480.87 284.20 L481.43 283.80 L481.99 283.40 L482.54 283.00 L483.10 282.59 L483.65 282.18 L484.21 281.76 L484.77 281.34 L485.32 280.92 L485.88 280.50 L486.44 280.07 L486.99 279.64 L487.55 279.20 L488.11 278.76 L488.66 278.32 L489.22 277.88 L489.77 277.43 L490.33 276.98 L490.89 276.52 L491.44 276.06 L492.00 275.60 L492.56 275.14 L493.11 274.67 L493.67 274.20 L494.22 273.72 L494.78 273.24 L495.34 272.76 L495.89 272.28 L496.45 271.79 L497.01 271.30 L497.56 270.80 L498.12 270.30 L498.68 269.80 L499.23 269.29 L499.79 268.79 L500.34 268.27 L500.90 267.76 L501.46 267.24 L502.01 266.72 L502.57 266.19 L503.13 265.66 L503.68 265.13 L504.24 264.59 L504.79 264.05 L505.35 263.51 L505.91 262.97 L506.46 262.42 L507.02 261.86 L507.58 261.31 L508.13 260.75 L508.69 260.19 L509.25 259.62 L509.80 259.05 L510.36 258.48 L510.91 257.90 L511.47 257.32 L512.03 256.74 L512.58 256.16 L513.14 255.57 L513.70 254.98 L514.25 254.38 L514.81 253.78 L515.37 253.18 L515.92 252.57 L516.48 251.97 L517.03 251.35 L517.59 250.74 L518.15 250.12 L518.70 249.50 L519.26 248.88 L519.82 248.25 L520.37 247.62 L520.93 246.99 L521.49 246.35 L522.04 245.71 L522.60 245.07 L523.15 244.42 L523.71 243.77 L524.27 243.12 L524.82 242.47 L525.38 241.81 L525.94 241.15 L526.49 240.48 L527.05 239.82 L527.60 239.15 L528.16 238.47 L528.72 237.80 L529.27 237.12 L529.83 236.44 L530.39 235.76 L530.94 235.07 L531.50 234.38 L532.06 233.69 L532.61 232.99 L533.17 232.29 L533.72 231.59 L534.28 230.89 L534.84 230.19 L535.39 229.48 L535.95 228.77 L536.51 228.05 L537.06 227.34 L537.62 226.62 L538.17 225.90 L538.73 225.17 L539.29 224.45 L539.84 223.72 L540.40 222.99 L540.96 222.25 L541.51 221.52 L542.07 220.78 L542.63 220.04 L543.18 219.30 L543.74 218.55 L544.29 217.81 L544.85 217.06 L545.41 216.31 L545.96 215.55 L546.52 214.80 L547.08 214.04 L547.63 213.28 L548.19 212.52 L548.75 211.75 L549.30 210.99 L549.86 210.22 L550.41 209.45 L550.97 208.68 L551.53 207.90 L552.08 207.13 L552.64 206.35 L553.20 205.57 L553.75 204.79 L554.31 204.01 L554.87 203.23 L555.42 202.44 L555.98 201.65 L556.53 200.86 L557.09 200.07 L557.65 199.28 L558.20 198.49 L558.76 197.70 L559.32 196.90 L559.87 196.10 L560.43 195.30 L560.98 194.50 L561.54 193.70 L562.10 192.90 L562.65 192.10 L563.21 191.29 L563.77 190.49 L564.32 189.68 L564.88 188.87 L565.44 188.06 L565.99 187.25 L566.55 186.44 L567.10 185.63 L567.66 184.82 L568.22 184.00 L568.77 183.19 L569.33 182.38 L569.89 181.56 L570.44 180.74 L571.00 179.93 L571.55 179.11 L572.11 178.29 L572.67 177.47 L573.22 176.65 L573.78 175.83 L574.34 175.01 L574.89 174.19 L575.45 173.37 L576.01 172.55 L576.56 171.73 L577.12 170.91 L577.67 170.09 L578.23 169.27 L578.79 168.44 L579.34 167.62 L579.90 166.80 L580.46 165.98 L581.01 165.16 L581.57 164.33 L582.13 163.51 L582.68 162.69 L583.24 161.87 L583.79 161.05 L584.35 160.23 L584.91 159.41 L585.46 158.59 L586.02 157.77 L586.58 156.95 L587.13 156.13 L587.69 155.31 L588.25 154.49 L588.80 153.67 L589.36 152.86 L589.91 152.04 L590.47 151.22 L591.03 150.41 L591.58 149.60 L592.14 148.78 L592.70 147.97 L593.25 147.16 L593.81 146.35 L594.36 145.54 L594.92 144.73 L595.48 143.92 L596.03 143.11 L596.59 142.31 L597.15 141.50 L597.70 140.70 L598.26 139.90 L598.82 139.10 L599.37 138.30 L599.93 137.50 L600.48 136.70 L601.04 135.90 L601.60 135.11 L602.15 134.32 L602.71 133.53 L603.27 132.74 L603.82 131.95 L604.38 131.16 L604.93 130.37 L605.49 129.59 L606.05 128.81 L606.60 128.03 L607.16 127.25 L607.72 126.47 L608.27 125.70 L608.83 124.92 L609.39 124.15 L609.94 123.38 L610.50 122.61 L611.05 121.85 L611.61 121.08 L612.17 120.32 L612.72 119.56 L613.28 118.80 L613.84 118.05 L614.39 117.29 L614.95 116.54 L615.51 115.79 L616.06 115.05 L616.62 114.30 L617.17 113.56 L617.73 112.82 L618.29 112.08 L618.84 111.35 L619.40 110.61 L619.96 109.88 L620.51 109.15 L621.07 108.43 L621.62 107.70 L622.18 106.98 L622.74 106.26 L623.29 105.55 L623.85 104.83 L624.41 104.12 L624.96 103.41 L625.52 102.71 L626.08 102.01 L626.63 101.31 L627.19 100.61 L627.74 99.91 L628.30 99.22 L628.86 98.53 L629.41 97.84 L629.97 97.16 L630.53 96.48 L631.08 95.80 L631.64 95.13 L632.20 94.45 L632.75 93.78 L633.31 93.12 L633.86 92.45 L634.42 91.79 L634.98 91.13 L635.53 90.48 L636.09 89.83 L636.65 89.18 L637.20 88.53 L637.76 87.89 L638.32 87.25 L638.87 86.61 L639.43 85.98 L639.98 85.35 L640.54 84.72 L641.10 84.10 L641.65 83.48 L642.21 82.86 L642.77 82.25 L643.32 81.63 L643.88 81.03 L644.43 80.42 L644.99 79.82 L645.55 79.22 L646.10 78.62 L646.66 78.03 L647.22 77.44 L647.77 76.86 L648.33 76.28 L648.89 75.70 L649.44 75.12 L650.00 74.55 L650.55 73.98 L651.11 73.41 L651.67 72.85 L652.22 72.29 L652.78 71.74 L653.34 71.18 L653.89 70.63 L654.45 70.09 L655.00 69.55 L655.56 69.01 L656.12 68.47 L656.67 67.94 L657.23 67.41 L657.79 66.88 L658.34 66.36 L658.90 65.84 L659.46 65.33 L660.01 64.81 L660.57 64.31 L661.12 63.80 L661.68 63.30 L662.24 62.80 L662.79 62.30 L663.35 61.81 L663.91 61.32 L664.46 60.84 L665.02 60.36 L665.58 59.88 L666.13 59.40 L666.69 58.93 L667.24 58.46 L667.80 58.00 L668.36 57.54 L668.91 57.08 L669.47 56.62 L670.03 56.17 L670.58 55.72 L671.14 55.28 L671.69 54.84 L672.25 54.40 L672.81 53.96 L673.36 53.53 L673.92 53.10 L674.48 52.68 L675.03 52.26 L675.59 51.84 L676.15 51.42 L676.70 51.01 L677.26 50.60 L677.81 50.20 L678.37 49.80 L678.93 49.40 L679.48 49.00 L680.04 48.61 L680.60 48.22 L681.15 47.84 L681.71 47.45 L682.27 47.08 L682.82 46.70 L683.38 46.33 L683.93 45.96 L684.49 45.59 L685.05 45.23 L685.60 44.87 L686.16 44.51 L686.72 44.15 L687.27 43.80 L687.83 43.46 L688.38 43.11 L688.94 42.77 L689.50 42.43 L690.05 42.10 L690.61 41.76 L691.17 41.43 L691.72 41.11 L692.28 40.78 L692.84 40.46 L693.39 40.15 L693.95 39.83 L694.50 39.52 L695.06 39.21 L695.62 38.91 L696.17 38.60 L696.73 38.30 L697.29 38.01 L697.84 37.71 L698.40 37.42 L698.96 37.13 L699.51 36.85 L700.07 36.56 L700.62 36.28 L701.18 36.01 L701.74 35.73 L702.29 35.46 L702.85 35.19 L703.41 34.92 L703.96 34.66 L704.52 34.40 L705.07 34.14 L705.63 33.89 L706.19 33.63 L706.74 33.38 L707.30 33.13 L707.86 32.89 L708.41 32.65 L708.97 32.41 L709.53 32.17 L710.08 31.93 L710.64 31.70 L711.19 31.47 L711.75 31.24 L712.31 31.02 L712.86 30.80 L713.42 30.58 L713.98 30.36 L714.53 30.14 L715.09 29.93 L715.65 29.72 L716.20 29.51 L716.76 29.31 L717.31 29.10 L717.87 28.90 L718.43 28.70 L718.98 28.51 L719.54 28.31 L720.10 28.12 L720.65 27.93 L721.21 27.74 L721.76 27.55 L722.32 27.37 L722.88 27.19 L723.43 27.01 L723.99 26.83 L724.55 26.66 L725.10 26.49 L725.66 26.31 L726.22 26.15 L726.77 25.98 L727.33 25.81 L727.88 25.65 L728.44 25.49 L729.00 25.33 L729.55 25.18 L730.11 25.02 L730.67 24.87 L731.22 24.72 L731.78 24.57 L732.34 24.42 L732.89 24.27 L733.45 24.13 L734.00 23.99 L734.56 23.85 L735.12 23.71 L735.67 23.57 L736.23 23.44 L736.79 23.30 L737.34 23.17 L737.90 23.04 L738.45 22.92 L739.01 22.79 L739.57 22.66 L740.12 22.54 L740.68 22.42 L741.24 22.30 L741.79 22.18 L742.35 22.06 L742.91 21.95 L743.46 21.84 L744.02 21.72 L744.57 21.61 L745.13 21.50 L745.69 21.40 L746.24 21.29 L746.80 21.19" fill="none" stroke="#0000ff" stroke-width="3.30" clip-path="url(#c10)" stroke-linejoin="round"/>
<path d="M413.00 315.51 L413.56 315.45 L414.11 315.38 L414.67 315.31 L415.23 315.24 L415.78 315.17 L416.34 315.09 L416.89 315.02 L417.45 314.94 L418.01 314.87 L418.56 314.79 L419.12 314.71 L419.68 314.63 L420.23 314.54 L420.79 314.46 L421.35 314.38 L421.90 314.29 L422.46 314.20 L423.01 314.11 L423.57 314.02 L424.13 313.93 L424.68 313.83 L425.24 313.74 L425.80 313.64 L426.35 313.54 L426.91 313.44 L427.46 313.34 L428.02 313.24 L428.58 313.13 L429.13 313.02 L429.69 312.91 L430.25 312.80 L430.80 312.69 L431.36 312.58 L431.92 312.46 L432.47 312.34 L433.03 312.22 L433.58 312.10 L434.14 311.98 L434.70 311.85 L435.25 311.73 L435.81 311.60 L436.37 311.47 L436.92 311.33 L437.48 311.20 L438.03 311.06 L438.59 310.92 L439.15 310.78 L439.70 310.64 L440.26 310.49 L440.82 310.35 L441.37 310.20 L441.93 310.04 L442.49 309.89 L443.04 309.73 L443.60 309.57 L444.15 309.41 L444.71 309.25 L445.27 309.08 L445.82 308.92 L446.38 308.75 L446.94 308.57 L447.49 308.40 L448.05 308.22 L448.61 308.04 L449.16 307.86 L449.72 307.67 L450.27 307.48 L450.83 307.29 L451.39 307.10 L451.94 306.91 L452.50 306.71 L453.06 306.51 L453.61 306.30 L454.17 306.10 L454.73 305.89 L455.28 305.67 L455.84 305.46 L456.39 305.24 L456.95 305.02 L457.51 304.80 L458.06 304.57 L458.62 304.34 L459.18 304.11 L459.73 303.88 L460.29 303.64 L460.84 303.40 L461.40 303.15 L461.96 302.91 L462.51 302.66 L463.07 302.40 L463.63 302.15 L464.18 301.89 L464.74 301.62 L465.30 301.36 L465.85 301.09 L466.41 300.81 L466.96 300.54 L467.52 300.26 L468.08 299.98 L468.63 299.69 L469.19 299.40 L469.75 299.11 L470.30 298.81 L470.86 298.51 L471.41 298.21 L471.97 297.90 L472.53 297.59 L473.08 297.28 L473.64 296.96 L474.20 296.64 L474.75 296.32 L475.31 295.99 L475.87 295.66 L476.42 295.33 L476.98 294.99 L477.53 294.64 L478.09 294.30 L478.65 293.95 L479.20 293.59 L479.76 293.24 L480.32 292.88 L480.87 292.51 L481.43 292.14 L481.99 291.77 L482.54 291.39 L483.10 291.01 L483.65 290.63 L484.21 290.24 L484.77 289.85 L485.32 289.45 L485.88 289.05 L486.44 288.65 L486.99 288.24 L487.55 287.83 L488.11 287.41 L488.66 286.99 L489.22 286.57 L489.77 286.14 L490.33 285.71 L490.89 285.27 L491.44 284.83 L492.00 284.39 L492.56 283.94 L493.11 283.48 L493.67 283.03 L494.22 282.57 L494.78 282.10 L495.34 281.63 L495.89 281.16 L496.45 280.68 L497.01 280.20 L497.56 279.71 L498.12 279.22 L498.68 278.72 L499.23 278.22 L499.79 277.72 L500.34 277.21 L500.90 276.70 L501.46 276.19 L502.01 275.66 L502.57 275.14 L503.13 274.61 L503.68 274.08 L504.24 273.54 L504.79 273.00 L505.35 272.45 L505.91 271.90 L506.46 271.34 L507.02 270.79 L507.58 270.22 L508.13 269.65 L508.69 269.08 L509.25 268.50 L509.80 267.92 L510.36 267.34 L510.91 266.75 L511.47 266.16 L512.03 265.56 L512.58 264.95 L513.14 264.35 L513.70 263.74 L514.25 263.12 L514.81 262.50 L515.37 261.88 L515.92 261.25 L516.48 260.62 L517.03 259.98 L517.59 259.34 L518.15 258.70 L518.70 258.05 L519.26 257.39 L519.82 256.74 L520.37 256.07 L520.93 255.41 L521.49 254.74 L522.04 254.06 L522.60 253.39 L523.15 252.70 L523.71 252.02 L524.27 251.33 L524.82 250.63 L525.38 249.93 L525.94 249.23 L526.49 248.52 L527.05 247.81 L527.60 247.10 L528.16 246.38 L528.72 245.66 L529.27 244.93 L529.83 244.20 L530.39 243.47 L530.94 242.73 L531.50 241.99 L532.06 241.24 L532.61 240.49 L533.17 239.74 L533.72 238.98 L534.28 238.22 L534.84 237.46 L535.39 236.69 L535.95 235.92 L536.51 235.14 L537.06 234.36 L537.62 233.58 L538.17 232.79 L538.73 232.00 L539.29 231.21 L539.84 230.42 L540.40 229.62 L540.96 228.81 L541.51 228.01 L542.07 227.20 L542.63 226.39 L543.18 225.57 L543.74 224.75 L544.29 223.93 L544.85 223.11 L545.41 222.28 L545.96 221.45 L546.52 220.61 L547.08 219.78 L547.63 218.94 L548.19 218.09 L548.75 217.25 L549.30 216.40 L549.86 215.55 L550.41 214.69 L550.97 213.84 L551.53 212.98 L552.08 212.12 L552.64 211.25 L553.20 210.39 L553.75 209.52 L554.31 208.65 L554.87 207.77 L555.42 206.90 L555.98 206.02 L556.53 205.14 L557.09 204.25 L557.65 203.37 L558.20 202.48 L558.76 201.59 L559.32 200.70 L559.87 199.81 L560.43 198.91 L560.98 198.02 L561.54 197.12 L562.10 196.22 L562.65 195.32 L563.21 194.41 L563.77 193.51 L564.32 192.60 L564.88 191.69 L565.44 190.78 L565.99 189.87 L566.55 188.96 L567.10 188.05 L567.66 187.13 L568.22 186.22 L568.77 185.30 L569.33 184.38 L569.89 183.46 L570.44 182.54 L571.00 181.62 L571.55 180.70 L572.11 179.77 L572.67 178.85 L573.22 177.93 L573.78 177.00 L574.34 176.08 L574.89 175.15 L575.45 174.22 L576.01 173.30 L576.56 172.37 L577.12 171.44 L577.67 170.51 L578.23 169.59 L578.79 168.66 L579.34 167.73 L579.90 166.80 L580.46 165.87 L581.01 164.94 L581.57 164.01 L582.13 163.09 L582.68 162.16 L583.24 161.23 L583.79 160.30 L584.35 159.38 L584.91 158.45 L585.46 157.52 L586.02 156.60 L586.58 155.67 L587.13 154.75 L587.69 153.83 L588.25 152.90 L588.80 151.98 L589.36 151.06 L589.91 150.14 L590.47 149.22 L591.03 148.30 L591.58 147.38 L592.14 146.47 L592.70 145.55 L593.25 144.64 L593.81 143.73 L594.36 142.82 L594.92 141.91 L595.48 141.00 L596.03 140.09 L596.59 139.19 L597.15 138.28 L597.70 137.38 L598.26 136.48 L598.82 135.58 L599.37 134.69 L599.93 133.79 L600.48 132.90 L601.04 132.01 L601.60 131.12 L602.15 130.23 L602.71 129.35 L603.27 128.46 L603.82 127.58 L604.38 126.70 L604.93 125.83 L605.49 124.95 L606.05 124.08 L606.60 123.21 L607.16 122.35 L607.72 121.48 L608.27 120.62 L608.83 119.76 L609.39 118.91 L609.94 118.05 L610.50 117.20 L611.05 116.35 L611.61 115.51 L612.17 114.66 L612.72 113.82 L613.28 112.99 L613.84 112.15 L614.39 111.32 L614.95 110.49 L615.51 109.67 L616.06 108.85 L616.62 108.03 L617.17 107.21 L617.73 106.40 L618.29 105.59 L618.84 104.79 L619.40 103.98 L619.96 103.18 L620.51 102.39 L621.07 101.60 L621.62 100.81 L622.18 100.02 L622.74 99.24 L623.29 98.46 L623.85 97.68 L624.41 96.91 L624.96 96.14 L625.52 95.38 L626.08 94.62 L626.63 93.86 L627.19 93.11 L627.74 92.36 L628.30 91.61 L628.86 90.87 L629.41 90.13 L629.97 89.40 L630.53 88.67 L631.08 87.94 L631.64 87.22 L632.20 86.50 L632.75 85.79 L633.31 85.08 L633.86 84.37 L634.42 83.67 L634.98 82.97 L635.53 82.27 L636.09 81.58 L636.65 80.90 L637.20 80.21 L637.76 79.54 L638.32 78.86 L638.87 78.19 L639.43 77.53 L639.98 76.86 L640.54 76.21 L641.10 75.55 L641.65 74.90 L642.21 74.26 L642.77 73.62 L643.32 72.98 L643.88 72.35 L644.43 71.72 L644.99 71.10 L645.55 70.48 L646.10 69.86 L646.66 69.25 L647.22 68.65 L647.77 68.04 L648.33 67.44 L648.89 66.85 L649.44 66.26 L650.00 65.68 L650.55 65.10 L651.11 64.52 L651.67 63.95 L652.22 63.38 L652.78 62.81 L653.34 62.26 L653.89 61.70 L654.45 61.15 L655.00 60.60 L655.56 60.06 L656.12 59.52 L656.67 58.99 L657.23 58.46 L657.79 57.94 L658.34 57.41 L658.90 56.90 L659.46 56.39 L660.01 55.88 L660.57 55.38 L661.12 54.88 L661.68 54.38 L662.24 53.89 L662.79 53.40 L663.35 52.92 L663.91 52.44 L664.46 51.97 L665.02 51.50 L665.58 51.03 L666.13 50.57 L666.69 50.12 L667.24 49.66 L667.80 49.21 L668.36 48.77 L668.91 48.33 L669.47 47.89 L670.03 47.46 L670.58 47.03 L671.14 46.61 L671.69 46.19 L672.25 45.77 L672.81 45.36 L673.36 44.95 L673.92 44.55 L674.48 44.15 L675.03 43.75 L675.59 43.36 L676.15 42.97 L676.70 42.59 L677.26 42.21 L677.81 41.83 L678.37 41.46 L678.93 41.09 L679.48 40.72 L680.04 40.36 L680.60 40.01 L681.15 39.65 L681.71 39.30 L682.27 38.96 L682.82 38.61 L683.38 38.27 L683.93 37.94 L684.49 37.61 L685.05 37.28 L685.60 36.96 L686.16 36.64 L686.72 36.32 L687.27 36.01 L687.83 35.70 L688.38 35.39 L688.94 35.09 L689.50 34.79 L690.05 34.49 L690.61 34.20 L691.17 33.91 L691.72 33.62 L692.28 33.34 L692.84 33.06 L693.39 32.79 L693.95 32.51 L694.50 32.24 L695.06 31.98 L695.62 31.71 L696.17 31.45 L696.73 31.20 L697.29 30.94 L697.84 30.69 L698.40 30.45 L698.96 30.20 L699.51 29.96 L700.07 29.72 L700.62 29.49 L701.18 29.26 L701.74 29.03 L702.29 28.80 L702.85 28.58 L703.41 28.36 L703.96 28.14 L704.52 27.93 L705.07 27.71 L705.63 27.50 L706.19 27.30 L706.74 27.09 L707.30 26.89 L707.86 26.69 L708.41 26.50 L708.97 26.31 L709.53 26.12 L710.08 25.93 L710.64 25.74 L711.19 25.56 L711.75 25.38 L712.31 25.20 L712.86 25.03 L713.42 24.85 L713.98 24.68 L714.53 24.52 L715.09 24.35 L715.65 24.19 L716.20 24.03 L716.76 23.87 L717.31 23.71 L717.87 23.56 L718.43 23.40 L718.98 23.25 L719.54 23.11 L720.10 22.96 L720.65 22.82 L721.21 22.68 L721.76 22.54 L722.32 22.40 L722.88 22.27 L723.43 22.13 L723.99 22.00 L724.55 21.87 L725.10 21.75 L725.66 21.62 L726.22 21.50 L726.77 21.38 L727.33 21.26 L727.88 21.14 L728.44 21.02 L729.00 20.91 L729.55 20.80 L730.11 20.69 L730.67 20.58 L731.22 20.47 L731.78 20.36 L732.34 20.26 L732.89 20.16 L733.45 20.06 L734.00 19.96 L734.56 19.86 L735.12 19.77 L735.67 19.67 L736.23 19.58 L736.79 19.49 L737.34 19.40 L737.90 19.31 L738.45 19.22 L739.01 19.14 L739.57 19.06 L740.12 18.97 L740.68 18.89 L741.24 18.81 L741.79 18.73 L742.35 18.66 L742.91 18.58 L743.46 18.51 L744.02 18.43 L744.57 18.36 L745.13 18.29 L745.69 18.22 L746.24 18.15 L746.80 18.09" fill="none" stroke="#ff0000" stroke-width="3.30" stroke-dasharray="10.48 10.48" stroke-dashoffset="0.00" clip-path="url(#c10)" stroke-linejoin="round"/>
<path d="M413.00 312.41 L413.56 312.31 L414.11 312.20 L414.67 312.10 L415.23 311.99 L415.78 311.88 L416.34 311.76 L416.89 311.65 L417.45 311.54 L418.01 311.42 L418.56 311.30 L419.12 311.18 L419.68 311.06 L420.23 310.94 L420.79 310.81 L421.35 310.68 L421.90 310.56 L422.46 310.43 L423.01 310.30 L423.57 310.16 L424.13 310.03 L424.68 309.89 L425.24 309.75 L425.80 309.61 L426.35 309.47 L426.91 309.33 L427.46 309.18 L428.02 309.03 L428.58 308.88 L429.13 308.73 L429.69 308.58 L430.25 308.42 L430.80 308.27 L431.36 308.11 L431.92 307.95 L432.47 307.79 L433.03 307.62 L433.58 307.45 L434.14 307.29 L434.70 307.11 L435.25 306.94 L435.81 306.77 L436.37 306.59 L436.92 306.41 L437.48 306.23 L438.03 306.05 L438.59 305.86 L439.15 305.67 L439.70 305.48 L440.26 305.29 L440.82 305.09 L441.37 304.90 L441.93 304.70 L442.49 304.50 L443.04 304.29 L443.60 304.09 L444.15 303.88 L444.71 303.67 L445.27 303.46 L445.82 303.24 L446.38 303.02 L446.94 302.80 L447.49 302.58 L448.05 302.36 L448.61 302.13 L449.16 301.90 L449.72 301.67 L450.27 301.43 L450.83 301.19 L451.39 300.95 L451.94 300.71 L452.50 300.47 L453.06 300.22 L453.61 299.97 L454.17 299.71 L454.73 299.46 L455.28 299.20 L455.84 298.94 L456.39 298.68 L456.95 298.41 L457.51 298.14 L458.06 297.87 L458.62 297.59 L459.18 297.32 L459.73 297.04 L460.29 296.75 L460.84 296.47 L461.40 296.18 L461.96 295.89 L462.51 295.59 L463.07 295.30 L463.63 295.00 L464.18 294.69 L464.74 294.39 L465.30 294.08 L465.85 293.77 L466.41 293.45 L466.96 293.14 L467.52 292.82 L468.08 292.49 L468.63 292.17 L469.19 291.84 L469.75 291.50 L470.30 291.17 L470.86 290.83 L471.41 290.49 L471.97 290.14 L472.53 289.80 L473.08 289.45 L473.64 289.09 L474.20 288.73 L474.75 288.37 L475.31 288.01 L475.87 287.64 L476.42 287.27 L476.98 286.90 L477.53 286.52 L478.09 286.15 L478.65 285.76 L479.20 285.38 L479.76 284.99 L480.32 284.60 L480.87 284.20 L481.43 283.80 L481.99 283.40 L482.54 283.00 L483.10 282.59 L483.65 282.18 L484.21 281.76 L484.77 281.34 L485.32 280.92 L485.88 280.50 L486.44 280.07 L486.99 279.64 L487.55 279.20 L488.11 278.76 L488.66 278.32 L489.22 277.88 L489.77 277.43 L490.33 276.98 L490.89 276.52 L491.44 276.06 L492.00 275.60 L492.56 275.14 L493.11 274.67 L493.67 274.20 L494.22 273.72 L494.78 273.24 L495.34 272.76 L495.89 272.28 L496.45 271.79 L497.01 271.30 L497.56 270.80 L498.12 270.30 L498.68 269.80 L499.23 269.29 L499.79 268.79 L500.34 268.27 L500.90 267.76 L501.46 267.24 L502.01 266.72 L502.57 266.19 L503.13 265.66 L503.68 265.13 L504.24 264.59 L504.79 264.05 L505.35 263.51 L505.91 262.97 L506.46 262.42 L507.02 261.86 L507.58 261.31 L508.13 260.75 L508.69 260.19 L509.25 259.62 L509.80 259.05 L510.36 258.48 L510.91 257.90 L511.47 257.32 L512.03 256.74 L512.58 256.16 L513.14 255.57 L513.70 254.98 L514.25 254.38 L514.81 253.78 L515.37 253.18 L515.92 252.57 L516.48 251.97 L517.03 251.35 L517.59 250.74 L518.15 250.12 L518.70 249.50 L519.26 248.88 L519.82 248.25 L520.37 247.62 L520.93 246.99 L521.49 246.35 L522.04 245.71 L522.60 245.07 L523.15 244.42 L523.71 243.77 L524.27 243.12 L524.82 242.47 L525.38 241.81 L525.94 241.15 L526.49 240.48 L527.05 239.82 L527.60 239.15 L528.16 238.47 L528.72 237.80 L529.27 237.12 L529.83 236.44 L530.39 235.76 L530.94 235.07 L531.50 234.38 L532.06 233.69 L532.61 232.99 L533.17 232.29 L533.72 231.59 L534.28 230.89 L534.84 230.19 L535.39 229.48 L535.95 228.77 L536.51 228.05 L537.06 227.34 L537.62 226.62 L538.17 225.90 L538.73 225.17 L539.29 224.45 L539.84 223.72 L540.40 222.99 L540.96 222.25 L541.51 221.52 L542.07 220.78 L542.63 220.04 L543.18 219.30 L543.74 218.55 L544.29 217.81 L544.85 217.06 L545.41 216.31 L545.96 215.55 L546.52 214.80 L547.08 214.04 L547.63 213.28 L548.19 212.52 L548.75 211.75 L549.30 210.99 L549.86 210.22 L550.41 209.45 L550.97 208.68 L551.53 207.90 L552.08 207.13 L552.64 206.35 L553.20 205.57 L553.75 204.79 L554.31 204.01 L554.87 203.23 L555.42 202.44 L555.98 201.65 L556.53 200.86 L557.09 200.07 L557.65 199.28 L558.20 198.49 L558.76 197.70 L559.32 196.90 L559.87 196.10 L560.43 195.30 L560.98 194.50 L561.54 193.70 L562.10 192.90 L562.65 192.10 L563.21 191.29 L563.77 190.49 L564.32 189.68 L564.88 188.87 L565.44 188.06 L565.99 187.25 L566.55 186.44 L567.10 185.63 L567.66 184.82 L568.22 184.00 L568.77 183.19 L569.33 182.38 L569.89 181.56 L570.44 180.74 L571.00 179.93 L571.55 179.11 L572.11 178.29 L572.67 177.47 L573.22 176.65 L573.78 175.83 L574.34 175.01 L574.89 174.19 L575.45 173.37 L576.01 172.55 L576.56 171.73 L577.12 170.91 L577.67 170.09 L578.23 169.27 L578.79 168.44 L579.34 167.62 L579.90 166.80 L580.46 165.98 L581.01 165.16 L581.57 164.33 L582.13 163.51 L582.68 162.69 L583.24 161.87 L583.79 161.05 L584.35 160.23 L584.91 159.41 L585.46 158.59 L586.02 157.77 L586.58 156.95 L587.13 156.13 L587.69 155.31 L588.25 154.49 L588.80 153.67 L589.36 152.86 L589.91 152.04 L590.47 151.22 L591.03 150.41 L591.58 149.60 L592.14 148.78 L592.70 147.97 L593.25 147.16 L593.81 146.35 L594.36 145.54 L594.92 144.73 L595.48 143.92 L596.03 143.11 L596.59 142.31 L597.15 141.50 L597.70 140.70 L598.26 139.90 L598.82 139.10 L599.37 138.30 L599.93 137.50 L600.48 136.70 L601.04 135.90 L601.60 135.11 L602.15 134.32 L602.71 133.53 L603.27 132.74 L603.82 131.95 L604.38 131.16 L604.93 130.37 L605.49 129.59 L606.05 128.81 L606.60 128.03 L607.16 127.25 L607.72 126.47 L608.27 125.70 L608.83 124.92 L609.39 124.15 L609.94 123.38 L610.50 122.61 L611.05 121.85 L611.61 121.08 L612.17 120.32 L612.72 119.56 L613.28 118.80 L613.84 118.05 L614.39 117.29 L614.95 116.54 L615.51 115.79 L616.06 115.05 L616.62 114.30 L617.17 113.56 L617.73 112.82 L618.29 112.08 L618.84 111.35 L619.40 110.61 L619.96 109.88 L620.51 109.15 L621.07 108.43 L621.62 107.70 L622.18 106.98 L622.74 106.26 L623.29 105.55 L623.85 104.83 L624.41 104.12 L624.96 103.41 L625.52 102.71 L626.08 102.01 L626.63 101.31 L627.19 100.61 L627.74 99.91 L628.30 99.22 L628.86 98.53 L629.41 97.84 L629.97 97.16 L630.53 96.48 L631.08 95.80 L631.64 95.13 L632.20 94.45 L632.75 93.78 L633.31 93.12 L633.86 92.45 L634.42 91.79 L634.98 91.13 L635.53 90.48 L636.09 89.83 L636.65 89.18 L637.20 88.53 L637.76 87.89 L638.32 87.25 L638.87 86.61 L639.43 85.98 L639.98 85.35 L640.54 84.72 L641.10 84.10 L641.65 83.48 L642.21 82.86 L642.77 82.25 L643.32 81.63 L643.88 81.03 L644.43 80.42 L644.99 79.82 L645.55 79.22 L646.10 78.62 L646.66 78.03 L647.22 77.44 L647.77 76.86 L648.33 76.28 L648.89 75.70 L649.44 75.12 L650.00 74.55 L650.55 73.98 L651.11 73.41 L651.67 72.85 L652.22 72.29 L652.78 71.74 L653.34 71.18 L653.89 70.63 L654.45 70.09 L655.00 69.55 L655.56 69.01 L656.12 68.47 L656.67 67.94 L657.23 67.41 L657.79 66.88 L658.34 66.36 L658.90 65.84 L659.46 65.33 L660.01 64.81 L660.57 64.31 L661.12 63.80 L661.68 63.30 L662.24 62.80 L662.79 62.30 L663.35 61.81 L663.91 61.32 L664.46 60.84 L665.02 60.36 L665.58 59.88 L666.13 59.40 L666.69 58.93 L667.24 58.46 L667.80 58.00 L668.36 57.54 L668.91 57.08 L669.47 56.62 L670.03 56.17 L670.58 55.72 L671.14 55.28 L671.69 54.84 L672.25 54.40 L672.81 53.96 L673.36 53.53 L673.92 53.10 L674.48 52.68 L675.03 52.26 L675.59 51.84 L676.15 51.42 L676.70 51.01 L677.26 50.60 L677.81 50.20 L678.37 49.80 L678.93 49.40 L679.48 49.00 L680.04 48.61 L680.60 48.22 L681.15 47.84 L681.71 47.45 L682.27 47.08 L682.82 46.70 L683.38 46.33 L683.93 45.96 L684.49 45.59 L685.05 45.23 L685.60 44.87 L686.16 44.51 L686.72 44.15 L687.27 43.80 L687.83 43.46 L688.38 43.11 L688.94 42.77 L689.50 42.43 L690.05 42.10 L690.61 41.76 L691.17 41.43 L691.72 41.11 L692.28 40.78 L692.84 40.46 L693.39 40.15 L693.95 39.83 L694.50 39.52 L695.06 39.21 L695.62 38.91 L696.17 38.60 L696.73 38.30 L697.29 38.01 L697.84 37.71 L698.40 37.42 L698.96 37.13 L699.51 36.85 L700.07 36.56 L700.62 36.28 L701.18 36.01 L701.74 35.73 L702.29 35.46 L702.85 35.19 L703.41 34.92 L703.96 34.66 L704.52 34.40 L705.07 34.14 L705.63 33.89 L706.19 33.63 L706.74 33.38 L707.30 33.13 L707.86 32.89 L708.41 32.65 L708.97 32.41 L709.53 32.17 L710.08 31.93 L710.64 31.70 L711.19 31.47 L711.75 31.24 L712.31 31.02 L712.86 30.80 L713.42 30.58 L713.98 30.36 L714.53 30.14 L715.09 29.93 L715.65 29.72 L716.20 29.51 L716.76 29.31 L717.31 29.10 L717.87 28.90 L718.43 28.70 L718.98 28.51 L719.54 28.31 L720.10 28.12 L720.65 27.93 L721.21 27.74 L721.76 27.55 L722.32 27.37 L722.88 27.19 L723.43 27.01 L723.99 26.83 L724.55 26.66 L725.10 26.49 L725.66 26.31 L726.22 26.15 L726.77 25.98 L727.33 25.81 L727.88 25.65 L728.44 25.49 L729.00 25.33 L729.55 25.18 L730.11 25.02 L730.67 24.87 L731.22 24.72 L731.78 24.57 L732.34 24.42 L732.89 24.27 L733.45 24.13 L734.00 23.99 L734.56 23.85 L735.12 23.71 L735.67 23.57 L736.23 23.44 L736.79 23.30 L737.34 23.17 L737.90 23.04 L738.45 22.92 L739.01 22.79 L739.57 22.66 L740.12 22.54 L740.68 22.42 L741.24 22.30 L741.79 22.18 L742.35 22.06 L742.91 21.95 L743.46 21.84 L744.02 21.72 L744.57 21.61 L745.13 21.50 L745.69 21.40 L746.24 21.29 L746.80 21.19" fill="none" stroke="#008000" stroke-width="3.30" stroke-dasharray="5.24 8.74 1.75 8.74" stroke-dashoffset="0.00" clip-path="url(#c10)" stroke-linejoin="round"/>
<path d="M413.00 312.41 L413.56 312.31 L414.11 312.20 L414.67 312.10 L415.23 311.99 L415.78 311.88 L416.34 311.76 L416.89 311.65 L417.45 311.54 L418.01 311.42 L418.56 311.30 L419.12 311.18 L419.68 311.06 L420.23 310.94 L420.79 310.81 L421.35 310.68 L421.90 310.56 L422.46 310.43 L423.01 310.30 L423.57 310.16 L424.13 310.03 L424.68 309.89 L425.24 309.75 L425.80 309.61 L426.35 309.47 L426.91 309.33 L427.46 309.18 L428.02 309.03 L428.58 308.88 L429.13 308.73 L429.69 308.58 L430.25 308.42 L430.80 308.27 L431.36 308.11 L431.92 307.95 L432.47 307.79 L433.03 307.62 L433.58 307.45 L434.14 307.29 L434.70 307.11 L435.25 306.94 L435.81 306.77 L436.37 306.59 L436.92 306.41 L437.48 306.23 L438.03 306.05 L438.59 305.86 L439.15 305.67 L439.70 305.48 L440.26 305.29 L440.82 305.09 L441.37 304.90 L441.93 304.70 L442.49 304.50 L443.04 304.29 L443.60 304.09 L444.15 303.88 L444.71 303.67 L445.27 303.46 L445.82 303.24 L446.38 303.02 L446.94 302.80 L447.49 302.58 L448.05 302.36 L448.61 302.13 L449.16 301.90 L449.72 301.67 L450.27 301.43 L450.83 301.19 L451.39 300.95 L451.94 300.71 L452.50 300.47 L453.06 300.22 L453.61 299.97 L454.17 299.71 L454.73 299.46 L455.28 299.20 L455.84 298.94 L456.39 298.68 L456.95 298.41 L457.51 298.14 L458.06 297.87 L458.62 297.59 L459.18 297.32 L459.73 297.04 L460.29 296.75 L460.84 296.47 L461.40 296.18 L461.96 295.89 L462.51 295.59 L463.07 295.30 L463.63 295.00 L464.18 294.69 L464.74 294.39 L465.30 294.08 L465.85 293.77 L466.41 293.45 L466.96 293.14 L467.52 292.82 L468.08 292.49 L468.63 292.17 L469.19 291.84 L469.75 291.50 L470.30 291.17 L470.86 290.83 L471.41 290.49 L471.97 290.14 L472.53 289.80 L473.08 289.45 L473.64 289.09 L474.20 288.73 L474.75 288.37 L475.31 288.01 L475.87 287.64 L476.42 287.27 L476.98 286.90 L477.53 286.52 L478.09 286.15 L478.65 285.76 L479.20 285.38 L479.76 284.99 L480.32 284.60 L480.87 284.20 L481.43 283.80 L481.99 283.40 L482.54 283.00 L483.10 282.59 L483.65 282.18 L484.21 281.76 L484.77 281.34 L485.32 280.92 L485.88 280.50 L486.44 280.07 L486.99 279.64 L487.55 279.20 L488.11 278.76 L488.66 278.32 L489.22 277.88 L489.77 277.43 L490.33 276.98 L490.89 276.52 L491.44 276.06 L492.00 275.60 L492.56 275.14 L493.11 274.67 L493.67 274.20 L494.22 273.72 L494.78 273.24 L495.34 272.76 L495.89 272.28 L496.45 271.79 L497.01 271.30 L497.56 270.80 L498.12 270.30 L498.68 269.80 L499.23 269.29 L499.79 268.79 L500.34 268.27 L500.90 267.76 L501.46 267.24 L502.01 266.72 L502.57 266.19 L503.13 265.66 L503.68 265.13 L504.24 264.59 L504.79 264.05 L505.35 263.51 L505.91 262.97 L506.46 262.42 L507.02 261.86 L507.58 261.31 L508.13 260.75 L508.69 260.19 L509.25 259.62 L509.80 259.05 L510.36 258.48 L510.91 257.90 L511.47 257.32 L512.03 256.74 L512.58 256.16 L513.14 255.57 L513.70 254.98 L514.25 254.38 L514.81 253.78 L515.37 253.18 L515.92 252.57 L516.48 251.97 L517.03 251.35 L517.59 250.74 L518.15 250.12 L518.70 249.50 L519.26 248.88 L519.82 248.25 L520.37 247.62 L520.93 246.99 L521.49 246.35 L522.04 245.71 L522.60 245.07 L523.15 244.42 L523.71 243.77 L524.27 243.12 L524.82 242.47 L525.38 241.81 L525.94 241.15 L526.49 240.48 L527.05 239.82 L527.60 239.15 L528.16 238.47 L528.72 237.80 L529.27 237.12 L529.83 236.44 L530.39 235.76 L530.94 235.07 L531.50 234.38 L532.06 233.69 L532.61 232.99 L533.17 232.29 L533.72 231.59 L534.28 230.89 L534.84 230.19 L535.39 229.48 L535.95 228.77 L536.51 228.05 L537.06 227.34 L537.62 226.62 L538.17 225.90 L538.73 225.17 L539.29 224.45 L539.84 223.72 L540.40 222.99 L540.96 222.25 L541.51 221.52 L542.07 220.78 L542.63 220.04 L543.18 219.30 L543.74 218.55 L544.29 217.81 L544.85 217.06 L545.41 216.31 L545.96 215.55 L546.52 214.80 L547.08 214.04 L547.63 213.28 L548.19 212.52 L548.75 211.75 L549.30 210.99 L549.86 210.22 L550.41 209.45 L550.97 208.68 L551.53 207.90 L552.08 207.13 L552.64 206.35 L553.20 205.57 L553.75 204.79 L554.31 204.01 L554.87 203.23 L555.42 202.44 L555.98 201.65 L556.53 200.86 L557.09 200.07 L557.65 199.28 L558.20 198.49 L558.76 197.70 L559.32 196.90 L559.87 196.10 L560.43 195.30 L560.98 194.50 L561.54 193.70 L562.10 192.90 L562.65 192.10 L563.21 191.29 L563.77 190.49 L564.32 189.68 L564.88 188.87 L565.44 188.06 L565.99 187.25 L566.55 186.44 L567.10 185.63 L567.66 184.82 L568.22 184.00 L568.77 183.19 L569.33 182.38 L569.89 181.56 L570.44 180.74 L571.00 179.93 L571.55 179.11 L572.11 178.29 L572.67 177.47 L573.22 176.65 L573.78 175.83 L574.34 175.01 L574.89 174.19 L575.45 173.37 L576.01 172.55 L576.56 171.73 L577.12 170.91 L577.67 170.09 L578.23 169.27 L578.79 168.44 L579.34 167.62 L579.90 166.80 L580.46 165.98 L581.01 165.16 L581.57 164.33 L582.13 163.51 L582.68 162.69 L583.24 161.87 L583.79 161.05 L584.35 160.23 L584.91 159.41 L585.46 158.59 L586.02 157.77 L586.58 156.95 L587.13 156.13 L587.69 155.31 L588.25 154.49 L588.80 153.67 L589.36 152.86 L589.91 152.04 L590.47 151.22 L591.03 150.41 L591.58 149.60 L592.14 148.78 L592.70 147.97 L593.25 147.16 L593.81 146.35 L594.36 145.54 L594.92 144.73 L595.48 143.92 L596.03 143.11 L596.59 142.31 L597.15 141.50 L597.70 140.70 L598.26 139.90 L598.82 139.10 L599.37 138.30 L599.93 137.50 L600.48 136.70 L601.04 135.90 L601.60 135.11 L602.15 134.32 L602.71 133.53 L603.27 132.74 L603.82 131.95 L604.38 131.16 L604.93 130.37 L605.49 129.59 L606.05 128.81 L606.60 128.03 L607.16 127.25 L607.72 126.47 L608.27 125.70 L608.83 124.92 L609.39 124.15 L609.94 123.38 L610.50 122.61 L611.05 121.85 L611.61 121.08 L612.17 120.32 L612.72 119.56 L613.28 118.80 L613.84 118.05 L614.39 117.29 L614.95 116.54 L615.51 115.79 L616.06 115.05 L616.62 114.30 L617.17 113.56 L617.73 112.82 L618.29 112.08 L618.84 111.35 L619.40 110.61 L619.96 109.88 L620.51 109.15 L621.07 108.43 L621.62 107.70 L622.18 106.98 L622.74 106.26 L623.29 105.55 L623.85 104.83 L624.41 104.12 L624.96 103.41 L625.52 102.71 L626.08 102.01 L626.63 101.31 L627.19 100.61 L627.74 99.91 L628.30 99.22 L628.86 98.53 L629.41 97.84 L629.97 97.16 L630.53 96.48 L631.08 95.80 L631.64 95.13 L632.20 94.45 L632.75 93.78 L633.31 93.12 L633.86 92.45 L634.42 91.79 L634.98 91.13 L635.53 90.48 L636.09 89.83 L636.65 89.18 L637.20 88.53 L637.76 87.89 L638.32 87.25 L638.87 86.61 L639.43 85.98 L639.98 85.35 L640.54 84.72 L641.10 84.10 L641.65 83.48 L642.21 82.86 L642.77 82.25 L643.32 81.63 L643.88 81.03 L644.43 80.42 L644.99 79.82 L645.55 79.22 L646.10 78.62 L646.66 78.03 L647.22 77.44 L647.77 76.86 L648.33 76.28 L648.89 75.70 L649.44 75.12 L650.00 74.55 L650.55 73.98 L651.11 73.41 L651.67 72.85 L652.22 72.29 L652.78 71.74 L653.34 71.18 L653.89 70.63 L654.45 70.09 L655.00 69.55 L655.56 69.01 L656.12 68.47 L656.67 67.94 L657.23 67.41 L657.79 66.88 L658.34 66.36 L658.90 65.84 L659.46 65.33 L660.01 64.81 L660.57 64.31 L661.12 63.80 L661.68 63.30 L662.24 62.80 L662.79 62.30 L663.35 61.81 L663.91 61.32 L664.46 60.84 L665.02 60.36 L665.58 59.88 L666.13 59.40 L666.69 58.93 L667.24 58.46 L667.80 58.00 L668.36 57.54 L668.91 57.08 L669.47 56.62 L670.03 56.17 L670.58 55.72 L671.14 55.28 L671.69 54.84 L672.25 54.40 L672.81 53.96 L673.36 53.53 L673.92 53.10 L674.48 52.68 L675.03 52.26 L675.59 51.84 L676.15 51.42 L676.70 51.01 L677.26 50.60 L677.81 50.20 L678.37 49.80 L678.93 49.40 L679.48 49.00 L680.04 48.61 L680.60 48.22 L681.15 47.84 L681.71 47.45 L682.27 47.08 L682.82 46.70 L683.38 46.33 L683.93 45.96 L684.49 45.59 L685.05 45.23 L685.60 44.87 L686.16 44.51 L686.72 44.15 L687.27 43.80 L687.83 43.46 L688.38 43.11 L688.94 42.77 L689.50 42.43 L690.05 42.10 L690.61 41.76 L691.17 41.43 L691.72 41.11 L692.28 40.78 L692.84 40.46 L693.39 40.15 L693.95 39.83 L694.50 39.52 L695.06 39.21 L695.62 38.91 L696.17 38.60 L696.73 38.30 L697.29 38.01 L697.84 37.71 L698.40 37.42 L698.96 37.13 L699.51 36.85 L700.07 36.56 L700.62 36.28 L701.18 36.01 L701.74 35.73 L702.29 35.46 L702.85 35.19 L703.41 34.92 L703.96 34.66 L704.52 34.40 L705.07 34.14 L705.63 33.89 L706.19 33.63 L706.74 33.38 L707.30 33.13 L707.86 32.89 L708.41 32.65 L708.97 32.41 L709.53 32.17 L710.08 31.93 L710.64 31.70 L711.19 31.47 L711.75 31.24 L712.31 31.02 L712.86 30.80 L713.42 30.58 L713.98 30.36 L714.53 30.14 L715.09 29.93 L715.65 29.72 L716.20 29.51 L716.76 29.31 L717.31 29.10 L717.87 28.90 L718.43 28.70 L718.98 28.51 L719.54 28.31 L720.10 28.12 L720.65 27.93 L721.21 27.74 L721.76 27.55 L722.32 27.37 L722.88 27.19 L723.43 27.01 L723.99 26.83 L724.55 26.66 L725.10 26.49 L725.66 26.31 L726.22 26.15 L726.77 25.98 L727.33 25.81 L727.88 25.65 L728.44 25.49 L729.00 25.33 L729.55 25.18 L730.11 25.02 L730.67 24.87 L731.22 24.72 L731.78 24.57 L732.34 24.42 L732.89 24.27 L733.45 24.13 L734.00 23.99 L734.56 23.85 L735.12 23.71 L735.67 23.57 L736.23 23.44 L736.79 23.30 L737.34 23.17 L737.90 23.04 L738.45 22.92 L739.01 22.79 L739.57 22.66 L740.12 22.54 L740.68 22.42 L741.24 22.30 L741.79 22.18 L742.35 22.06 L742.91 21.95 L743.46 21.84 L744.02 21.72 L744.57 21.61 L745.13 21.50 L745.69 21.40 L746.24 21.29 L746.80 21.19" fill="none" stroke="#000000" stroke-width="3.30" stroke-dasharray="1.75 5.24" stroke-dashoffset="0.00" clip-path="url(#c10)" stroke-linejoin="round"/>
<path d="M413.00 656.60 L576.50 656.60 L582.70 352.60 L746.80 352.60" fill="none" stroke="#0000ff" stroke-width="3.30" clip-path="url(#c11)" stroke-linejoin="round"/>
<path d="M413.00 656.58 L413.56 656.58 L414.11 656.58 L414.67 656.58 L415.23 656.58 L415.78 656.58 L416.34 656.58 L416.89 656.58 L417.45 656.58 L418.01 656.57 L418.56 656.57 L419.12 656.57 L419.68 656.57 L420.23 656.57 L420.79 656.57 L421.35 656.57 L421.90 656.56 L422.46 656.56 L423.01 656.56 L423.57 656.56 L424.13 656.55 L424.68 656.55 L425.24 656.55 L425.80 656.55 L426.35 656.55 L426.91 656.54 L427.46 656.54 L428.02 656.54 L428.58 656.53 L429.13 656.53 L429.69 656.53 L430.25 656.52 L430.80 656.52 L431.36 656.52 L431.92 656.51 L432.47 656.51 L433.03 656.50 L433.58 656.50 L434.14 656.49 L434.70 656.49 L435.25 656.48 L435.81 656.48 L436.37 656.47 L436.92 656.46 L437.48 656.46 L438.03 656.45 L438.59 656.44 L439.15 656.44 L439.70 656.43 L440.26 656.42 L440.82 656.41 L441.37 656.40 L441.93 656.39 L442.49 656.39 L443.04 656.38 L443.60 656.37 L444.15 656.35 L444.71 656.34 L445.27 656.33 L445.82 656.32 L446.38 656.31 L446.94 656.29 L447.49 656.28 L448.05 656.27 L448.61 656.25 L449.16 656.24 L449.72 656.22 L450.27 656.20 L450.83 656.19 L451.39 656.17 L451.94 656.15 L452.50 656.13 L453.06 656.11 L453.61 656.09 L454.17 656.07 L454.73 656.05 L455.28 656.02 L455.84 656.00 L456.39 655.97 L456.95 655.95 L457.51 655.92 L458.06 655.89 L458.62 655.86 L459.18 655.83 L459.73 655.80 L460.29 655.77 L460.84 655.74 L461.40 655.70 L461.96 655.67 L462.51 655.63 L463.07 655.59 L463.63 655.55 L464.18 655.51 L464.74 655.47 L465.30 655.42 L465.85 655.37 L466.41 655.33 L466.96 655.28 L467.52 655.23 L468.08 655.17 L468.63 655.12 L469.19 655.06 L469.75 655.00 L470.30 654.94 L470.86 654.88 L471.41 654.82 L471.97 654.75 L472.53 654.68 L473.08 654.61 L473.64 654.54 L474.20 654.46 L474.75 654.38 L475.31 654.30 L475.87 654.22 L476.42 654.13 L476.98 654.05 L477.53 653.95 L478.09 653.86 L478.65 653.76 L479.20 653.66 L479.76 653.56 L480.32 653.45 L480.87 653.34 L481.43 653.23 L481.99 653.11 L482.54 653.00 L483.10 652.87 L483.65 652.75 L484.21 652.61 L484.77 652.48 L485.32 652.34 L485.88 652.20 L486.44 652.05 L486.99 651.90 L487.55 651.75 L488.11 651.59 L488.66 651.43 L489.22 651.26 L489.77 651.08 L490.33 650.91 L490.89 650.72 L491.44 650.54 L492.00 650.34 L492.56 650.15 L493.11 649.94 L493.67 649.74 L494.22 649.52 L494.78 649.30 L495.34 649.08 L495.89 648.85 L496.45 648.61 L497.01 648.37 L497.56 648.12 L498.12 647.87 L498.68 647.61 L499.23 647.34 L499.79 647.06 L500.34 646.78 L500.90 646.50 L501.46 646.20 L502.01 645.90 L502.57 645.59 L503.13 645.28 L503.68 644.95 L504.24 644.62 L504.79 644.28 L505.35 643.94 L505.91 643.58 L506.46 643.22 L507.02 642.85 L507.58 642.47 L508.13 642.09 L508.69 641.69 L509.25 641.29 L509.80 640.88 L510.36 640.46 L510.91 640.03 L511.47 639.59 L512.03 639.14 L512.58 638.68 L513.14 638.22 L513.70 637.74 L514.25 637.26 L514.81 636.76 L515.37 636.26 L515.92 635.74 L516.48 635.22 L517.03 634.69 L517.59 634.14 L518.15 633.59 L518.70 633.02 L519.26 632.44 L519.82 631.86 L520.37 631.26 L520.93 630.65 L521.49 630.03 L522.04 629.40 L522.60 628.76 L523.15 628.11 L523.71 627.45 L524.27 626.77 L524.82 626.09 L525.38 625.39 L525.94 624.68 L526.49 623.96 L527.05 623.23 L527.60 622.49 L528.16 621.73 L528.72 620.97 L529.27 620.19 L529.83 619.40 L530.39 618.59 L530.94 617.78 L531.50 616.95 L532.06 616.11 L532.61 615.26 L533.17 614.40 L533.72 613.52 L534.28 612.63 L534.84 611.73 L535.39 610.82 L535.95 609.90 L536.51 608.96 L537.06 608.01 L537.62 607.05 L538.17 606.08 L538.73 605.09 L539.29 604.09 L539.84 603.08 L540.40 602.06 L540.96 601.02 L541.51 599.98 L542.07 598.92 L542.63 597.85 L543.18 596.76 L543.74 595.67 L544.29 594.56 L544.85 593.44 L545.41 592.31 L545.96 591.17 L546.52 590.01 L547.08 588.85 L547.63 587.67 L548.19 586.48 L548.75 585.28 L549.30 584.07 L549.86 582.84 L550.41 581.61 L550.97 580.36 L551.53 579.11 L552.08 577.84 L552.64 576.56 L553.20 575.28 L553.75 573.98 L554.31 572.67 L554.87 571.35 L555.42 570.02 L555.98 568.68 L556.53 567.34 L557.09 565.98 L557.65 564.61 L558.20 563.24 L558.76 561.85 L559.32 560.46 L559.87 559.06 L560.43 557.64 L560.98 556.23 L561.54 554.80 L562.10 553.36 L562.65 551.92 L563.21 550.47 L563.77 549.01 L564.32 547.55 L564.88 546.08 L565.44 544.60 L565.99 543.11 L566.55 541.62 L567.10 540.13 L567.66 538.62 L568.22 537.12 L568.77 535.60 L569.33 534.08 L569.89 532.56 L570.44 531.03 L571.00 529.50 L571.55 527.96 L572.11 526.42 L572.67 524.88 L573.22 523.33 L573.78 521.78 L574.34 520.23 L574.89 518.67 L575.45 517.12 L576.01 515.56 L576.56 514.00 L577.12 512.43 L577.67 510.87 L578.23 509.30 L578.79 507.73 L579.34 506.17 L579.90 504.60 L580.46 503.03 L581.01 501.47 L581.57 499.90 L582.13 498.33 L582.68 496.77 L583.24 495.20 L583.79 493.64 L584.35 492.08 L584.91 490.53 L585.46 488.97 L586.02 487.42 L586.58 485.87 L587.13 484.32 L587.69 482.78 L588.25 481.24 L588.80 479.70 L589.36 478.17 L589.91 476.64 L590.47 475.12 L591.03 473.60 L591.58 472.08 L592.14 470.58 L592.70 469.07 L593.25 467.58 L593.81 466.09 L594.36 464.60 L594.92 463.12 L595.48 461.65 L596.03 460.19 L596.59 458.73 L597.15 457.28 L597.70 455.84 L598.26 454.40 L598.82 452.97 L599.37 451.56 L599.93 450.14 L600.48 448.74 L601.04 447.35 L601.60 445.96 L602.15 444.59 L602.71 443.22 L603.27 441.86 L603.82 440.52 L604.38 439.18 L604.93 437.85 L605.49 436.53 L606.05 435.22 L606.60 433.92 L607.16 432.64 L607.72 431.36 L608.27 430.09 L608.83 428.84 L609.39 427.59 L609.94 426.36 L610.50 425.13 L611.05 423.92 L611.61 422.72 L612.17 421.53 L612.72 420.35 L613.28 419.19 L613.84 418.03 L614.39 416.89 L614.95 415.76 L615.51 414.64 L616.06 413.53 L616.62 412.44 L617.17 411.35 L617.73 410.28 L618.29 409.22 L618.84 408.18 L619.40 407.14 L619.96 406.12 L620.51 405.11 L621.07 404.11 L621.62 403.12 L622.18 402.15 L622.74 401.19 L623.29 400.24 L623.85 399.30 L624.41 398.38 L624.96 397.47 L625.52 396.57 L626.08 395.68 L626.63 394.80 L627.19 393.94 L627.74 393.09 L628.30 392.25 L628.86 391.42 L629.41 390.61 L629.97 389.80 L630.53 389.01 L631.08 388.23 L631.64 387.47 L632.20 386.71 L632.75 385.97 L633.31 385.24 L633.86 384.52 L634.42 383.81 L634.98 383.11 L635.53 382.43 L636.09 381.75 L636.65 381.09 L637.20 380.44 L637.76 379.80 L638.32 379.17 L638.87 378.55 L639.43 377.94 L639.98 377.34 L640.54 376.76 L641.10 376.18 L641.65 375.61 L642.21 375.06 L642.77 374.51 L643.32 373.98 L643.88 373.46 L644.43 372.94 L644.99 372.44 L645.55 371.94 L646.10 371.46 L646.66 370.98 L647.22 370.52 L647.77 370.06 L648.33 369.61 L648.89 369.17 L649.44 368.74 L650.00 368.32 L650.55 367.91 L651.11 367.51 L651.67 367.11 L652.22 366.73 L652.78 366.35 L653.34 365.98 L653.89 365.62 L654.45 365.26 L655.00 364.92 L655.56 364.58 L656.12 364.25 L656.67 363.92 L657.23 363.61 L657.79 363.30 L658.34 363.00 L658.90 362.70 L659.46 362.42 L660.01 362.14 L660.57 361.86 L661.12 361.59 L661.68 361.33 L662.24 361.08 L662.79 360.83 L663.35 360.59 L663.91 360.35 L664.46 360.12 L665.02 359.90 L665.58 359.68 L666.13 359.46 L666.69 359.26 L667.24 359.05 L667.80 358.86 L668.36 358.66 L668.91 358.48 L669.47 358.29 L670.03 358.12 L670.58 357.94 L671.14 357.77 L671.69 357.61 L672.25 357.45 L672.81 357.30 L673.36 357.15 L673.92 357.00 L674.48 356.86 L675.03 356.72 L675.59 356.59 L676.15 356.45 L676.70 356.33 L677.26 356.20 L677.81 356.09 L678.37 355.97 L678.93 355.86 L679.48 355.75 L680.04 355.64 L680.60 355.54 L681.15 355.44 L681.71 355.34 L682.27 355.25 L682.82 355.15 L683.38 355.07 L683.93 354.98 L684.49 354.90 L685.05 354.82 L685.60 354.74 L686.16 354.66 L686.72 354.59 L687.27 354.52 L687.83 354.45 L688.38 354.38 L688.94 354.32 L689.50 354.26 L690.05 354.20 L690.61 354.14 L691.17 354.08 L691.72 354.03 L692.28 353.97 L692.84 353.92 L693.39 353.87 L693.95 353.83 L694.50 353.78 L695.06 353.73 L695.62 353.69 L696.17 353.65 L696.73 353.61 L697.29 353.57 L697.84 353.53 L698.40 353.50 L698.96 353.46 L699.51 353.43 L700.07 353.40 L700.62 353.37 L701.18 353.34 L701.74 353.31 L702.29 353.28 L702.85 353.25 L703.41 353.23 L703.96 353.20 L704.52 353.18 L705.07 353.15 L705.63 353.13 L706.19 353.11 L706.74 353.09 L707.30 353.07 L707.86 353.05 L708.41 353.03 L708.97 353.01 L709.53 353.00 L710.08 352.98 L710.64 352.96 L711.19 352.95 L711.75 352.93 L712.31 352.92 L712.86 352.91 L713.42 352.89 L713.98 352.88 L714.53 352.87 L715.09 352.86 L715.65 352.85 L716.20 352.83 L716.76 352.82 L717.31 352.81 L717.87 352.81 L718.43 352.80 L718.98 352.79 L719.54 352.78 L720.10 352.77 L720.65 352.76 L721.21 352.76 L721.76 352.75 L722.32 352.74 L722.88 352.74 L723.43 352.73 L723.99 352.72 L724.55 352.72 L725.10 352.71 L725.66 352.71 L726.22 352.70 L726.77 352.70 L727.33 352.69 L727.88 352.69 L728.44 352.68 L729.00 352.68 L729.55 352.68 L730.11 352.67 L730.67 352.67 L731.22 352.67 L731.78 352.66 L732.34 352.66 L732.89 352.66 L733.45 352.65 L734.00 352.65 L734.56 352.65 L735.12 352.65 L735.67 352.65 L736.23 352.64 L736.79 352.64 L737.34 352.64 L737.90 352.64 L738.45 352.63 L739.01 352.63 L739.57 352.63 L740.12 352.63 L740.68 352.63 L741.24 352.63 L741.79 352.63 L742.35 352.62 L742.91 352.62 L743.46 352.62 L744.02 352.62 L744.57 352.62 L745.13 352.62 L745.69 352.62 L746.24 352.62 L746.80 352.62" fill="none" stroke="#ff0000" stroke-width="3.30" stroke-dasharray="10.48 10.48" stroke-dashoffset="0.00" clip-path="url(#c11)" stroke-linejoin="round"/>
<path d="M413.00 656.60 L576.50 656.60 L582.70 352.60 L746.80 352.60" fill="none" stroke="#008000" stroke-width="3.30" stroke-dasharray="5.24 8.74 1.75 8.74" stroke-dashoffset="0.35" clip-path="url(#c11)" stroke-linejoin="round"/>
<path d="M413.00 656.60 L575.60 656.60" fill="none" stroke="#000000" stroke-width="3.30" stroke-dasharray="1.75 5.24" stroke-dashoffset="4.69" clip-path="url(#c11)" stroke-linejoin="round"/>
<path d="M582.90 352.60 L746.80 352.60" fill="none" stroke="#000000" stroke-width="3.30" stroke-dasharray="1.75 5.24" stroke-dashoffset="0.00" clip-path="url(#c11)" stroke-linejoin="round"/>
<path d="M264.90 243.60 L309.70 243.60" fill="none" stroke="#0000ff" stroke-width="3.30" stroke-linejoin="round"/>
<path d="M266.10 262.80 L307.90 262.80" fill="none" stroke="#ff0000" stroke-width="3.30" stroke-dasharray="10.48 10.48" stroke-dashoffset="0.00" stroke-linejoin="round"/>
<path d="M266.10 282.00 L307.90 282.00" fill="none" stroke="#008000" stroke-width="3.30" stroke-dasharray="5.24 8.74 1.75 8.74" stroke-dashoffset="0.00" stroke-linejoin="round"/>
<path d="M266.10 301.30 L307.90 301.30" fill="none" stroke="#000000" stroke-width="3.30" stroke-dasharray="1.75 5.24" stroke-dashoffset="0.00" stroke-linejoin="round"/>
<rect x="409.98" y="0" width="2.24" height="671.70" fill="#dcdcdc"/>
<rect x="75.20" y="334.68" width="671.60" height="1.94" fill="#ececec"/>
<g stroke="#000" stroke-width="1.76" fill="none" stroke-linecap="butt">
<path d="M85.29 333.90 v-5.28 M85.29 -0.40 v5.28"/>
<path d="M96.50 333.90 v-5.28 M96.50 -0.40 v5.28"/>
<path d="M107.70 333.90 v-5.28 M107.70 -0.40 v5.28"/>
<path d="M118.91 333.90 v-5.28 M118.91 -0.40 v5.28"/>
<path d="M130.12 333.90 v-10.56 M130.12 -0.40 v10.56"/>
<path d="M141.33 333.90 v-5.28 M141.33 -0.40 v5.28"/>
<path d="M152.54 333.90 v-5.28 M152.54 -0.40 v5.28"/>
<path d="M163.74 333.90 v-5.28 M163.74 -0.40 v5.28"/>
<path d="M174.95 333.90 v-5.28 M174.95 -0.40 v5.28"/>
<path d="M186.16 333.90 v-10.56 M186.16 -0.40 v10.56"/>
<path d="M197.37 333.90 v-5.28 M197.37 -0.40 v5.28"/>
<path d="M208.58 333.90 v-5.28 M208.58 -0.40 v5.28"/>
<path d="M219.78 333.90 v-5.28 M219.78 -0.40 v5.28"/>
<path d="M230.99 333.90 v-5.28 M230.99 -0.40 v5.28"/>
<path d="M242.20 333.90 v-10.56 M242.20 -0.40 v10.56"/>
<path d="M253.41 333.90 v-5.28 M253.41 -0.40 v5.28"/>
<path d="M264.62 333.90 v-5.28 M264.62 -0.40 v5.28"/>
<path d="M275.82 333.90 v-5.28 M275.82 -0.40 v5.28"/>
<path d="M287.03 333.90 v-5.28 M287.03 -0.40 v5.28"/>
<path d="M298.24 333.90 v-10.56 M298.24 -0.40 v10.56"/>
<path d="M309.45 333.90 v-5.28 M309.45 -0.40 v5.28"/>
<path d="M320.66 333.90 v-5.28 M320.66 -0.40 v5.28"/>
<path d="M331.86 333.90 v-5.28 M331.86 -0.40 v5.28"/>
<path d="M343.07 333.90 v-5.28 M343.07 -0.40 v5.28"/>
<path d="M354.28 333.90 v-10.56 M354.28 -0.40 v10.56"/>
<path d="M365.49 333.90 v-5.28 M365.49 -0.40 v5.28"/>
<path d="M376.70 333.90 v-5.28 M376.70 -0.40 v5.28"/>
<path d="M387.90 333.90 v-5.28 M387.90 -0.40 v5.28"/>
<path d="M75.20 318.80 h10.56 M409.20 318.80 h-10.56"/>
<path d="M75.20 303.60 h5.28 M409.20 303.60 h-5.28"/>
<path d="M75.20 288.40 h5.28 M409.20 288.40 h-5.28"/>
<path d="M75.20 273.20 h5.28 M409.20 273.20 h-5.28"/>
<path d="M75.20 258.00 h10.56 M409.20 258.00 h-10.56"/>
<path d="M75.20 242.80 h5.28 M409.20 242.80 h-5.28"/>
<path d="M75.20 227.60 h5.28 M409.20 227.60 h-5.28"/>
<path d="M75.20 212.40 h5.28 M409.20 212.40 h-5.28"/>
<path d="M75.20 197.20 h10.56 M409.20 197.20 h-10.56"/>
<path d="M75.20 182.00 h5.28 M409.20 182.00 h-5.28"/>
<path d="M75.20 166.80 h5.28 M409.20 166.80 h-5.28"/>
<path d="M75.20 151.60 h5.28 M409.20 151.60 h-5.28"/>
<path d="M75.20 136.40 h10.56 M409.20 136.40 h-10.56"/>
<path d="M75.20 121.20 h5.28 M409.20 121.20 h-5.28"/>
<path d="M75.20 106.00 h5.28 M409.20 106.00 h-5.28"/>
<path d="M75.20 90.80 h5.28 M409.20 90.80 h-5.28"/>
<path d="M75.20 75.60 h10.56 M409.20 75.60 h-10.56"/>
<path d="M75.20 60.40 h5.28 M409.20 60.40 h-5.28"/>
<path d="M75.20 45.20 h5.28 M409.20 45.20 h-5.28"/>
<path d="M75.20 30.00 h5.28 M409.20 30.00 h-5.28"/>
<path d="M75.20 14.80 h10.56 M409.20 14.80 h-10.56"/>
<rect x="75.20" y="0.05" width="334.00" height="333.85"/>
<path d="M85.29 671.70 v-5.28 M85.29 337.40 v5.28"/>
<path d="M96.50 671.70 v-5.28 M96.50 337.40 v5.28"/>
<path d="M107.70 671.70 v-5.28 M107.70 337.40 v5.28"/>
<path d="M118.91 671.70 v-5.28 M118.91 337.40 v5.28"/>
<path d="M130.12 671.70 v-10.56 M130.12 337.40 v10.56"/>
<path d="M141.33 671.70 v-5.28 M141.33 337.40 v5.28"/>
<path d="M152.54 671.70 v-5.28 M152.54 337.40 v5.28"/>
<path d="M163.74 671.70 v-5.28 M163.74 337.40 v5.28"/>
<path d="M174.95 671.70 v-5.28 M174.95 337.40 v5.28"/>
<path d="M186.16 671.70 v-10.56 M186.16 337.40 v10.56"/>
<path d="M197.37 671.70 v-5.28 M197.37 337.40 v5.28"/>
<path d="M208.58 671.70 v-5.28 M208.58 337.40 v5.28"/>
<path d="M219.78 671.70 v-5.28 M219.78 337.40 v5.28"/>
<path d="M230.99 671.70 v-5.28 M230.99 337.40 v5.28"/>
<path d="M242.20 671.70 v-10.56 M242.20 337.40 v10.56"/>
<path d="M253.41 671.70 v-5.28 M253.41 337.40 v5.28"/>
<path d="M264.62 671.70 v-5.28 M264.62 337.40 v5.28"/>
<path d="M275.82 671.70 v-5.28 M275.82 337.40 v5.28"/>
<path d="M287.03 671.70 v-5.28 M287.03 337.40 v5.28"/>
<path d="M298.24 671.70 v-10.56 M298.24 337.40 v10.56"/>
<path d="M309.45 671.70 v-5.28 M309.45 337.40 v5.28"/>
<path d="M320.66 671.70 v-5.28 M320.66 337.40 v5.28"/>
<path d="M331.86 671.70 v-5.28 M331.86 337.40 v5.28"/>
<path d="M343.07 671.70 v-5.28 M343.07 337.40 v5.28"/>
<path d="M354.28 671.70 v-10.56 M354.28 337.40 v10.56"/>
<path d="M365.49 671.70 v-5.28 M365.49 337.40 v5.28"/>
<path d="M376.70 671.70 v-5.28 M376.70 337.40 v5.28"/>
<path d="M387.90 671.70 v-5.28 M387.90 337.40 v5.28"/>
<path d="M75.20 656.60 h10.56 M409.20 656.60 h-10.56"/>
<path d="M75.20 641.40 h5.28 M409.20 641.40 h-5.28"/>
<path d="M75.20 626.20 h5.28 M409.20 626.20 h-5.28"/>
<path d="M75.20 611.00 h5.28 M409.20 611.00 h-5.28"/>
<path d="M75.20 595.80 h10.56 M409.20 595.80 h-10.56"/>
<path d="M75.20 580.60 h5.28 M409.20 580.60 h-5.28"/>
<path d="M75.20 565.40 h5.28 M409.20 565.40 h-5.28"/>
<path d="M75.20 550.20 h5.28 M409.20 550.20 h-5.28"/>
<path d="M75.20 535.00 h10.56 M409.20 535.00 h-10.56"/>
<path d="M75.20 519.80 h5.28 M409.20 519.80 h-5.28"/>
<path d="M75.20 504.60 h5.28 M409.20 504.60 h-5.28"/>
<path d="M75.20 489.40 h5.28 M409.20 489.40 h-5.28"/>
<path d="M75.20 474.20 h10.56 M409.20 474.20 h-10.56"/>
<path d="M75.20 459.00 h5.28 M409.20 459.00 h-5.28"/>
<path d="M75.20 443.80 h5.28 M409.20 443.80 h-5.28"/>
<path d="M75.20 428.60 h5.28 M409.20 428.60 h-5.28"/>
<path d="M75.20 413.40 h10.56 M409.20 413.40 h-10.56"/>
<path d="M75.20 398.20 h5.28 M409.20 398.20 h-5.28"/>
<path d="M75.20 383.00 h5.28 M409.20 383.00 h-5.28"/>
<path d="M75.20 367.80 h5.28 M409.20 367.80 h-5.28"/>
<path d="M75.20 352.60 h10.56 M409.20 352.60 h-10.56"/>
<rect x="75.20" y="337.40" width="334.00" height="334.30"/>
<path d="M423.08 333.90 v-5.28 M423.08 -0.40 v5.28"/>
<path d="M434.28 333.90 v-5.28 M434.28 -0.40 v5.28"/>
<path d="M445.48 333.90 v-5.28 M445.48 -0.40 v5.28"/>
<path d="M456.69 333.90 v-5.28 M456.69 -0.40 v5.28"/>
<path d="M467.89 333.90 v-10.56 M467.89 -0.40 v10.56"/>
<path d="M479.09 333.90 v-5.28 M479.09 -0.40 v5.28"/>
<path d="M490.29 333.90 v-5.28 M490.29 -0.40 v5.28"/>
<path d="M501.49 333.90 v-5.28 M501.49 -0.40 v5.28"/>
<path d="M512.69 333.90 v-5.28 M512.69 -0.40 v5.28"/>
<path d="M523.89 333.90 v-10.56 M523.89 -0.40 v10.56"/>
<path d="M535.09 333.90 v-5.28 M535.09 -0.40 v5.28"/>
<path d="M546.30 333.90 v-5.28 M546.30 -0.40 v5.28"/>
<path d="M557.50 333.90 v-5.28 M557.50 -0.40 v5.28"/>
<path d="M568.70 333.90 v-5.28 M568.70 -0.40 v5.28"/>
<path d="M579.90 333.90 v-10.56 M579.90 -0.40 v10.56"/>
<path d="M591.10 333.90 v-5.28 M591.10 -0.40 v5.28"/>
<path d="M602.30 333.90 v-5.28 M602.30 -0.40 v5.28"/>
<path d="M613.50 333.90 v-5.28 M613.50 -0.40 v5.28"/>
<path d="M624.71 333.90 v-5.28 M624.71 -0.40 v5.28"/>
<path d="M635.91 333.90 v-10.56 M635.91 -0.40 v10.56"/>
<path d="M647.11 333.90 v-5.28 M647.11 -0.40 v5.28"/>
<path d="M658.31 333.90 v-5.28 M658.31 -0.40 v5.28"/>
<path d="M669.51 333.90 v-5.28 M669.51 -0.40 v5.28"/>
<path d="M680.71 333.90 v-5.28 M680.71 -0.40 v5.28"/>
<path d="M691.91 333.90 v-10.56 M691.91 -0.40 v10.56"/>
<path d="M703.11 333.90 v-5.28 M703.11 -0.40 v5.28"/>
<path d="M714.32 333.90 v-5.28 M714.32 -0.40 v5.28"/>
<path d="M725.52 333.90 v-5.28 M725.52 -0.40 v5.28"/>
<path d="M413.00 318.80 h10.56 M746.80 318.80 h-10.56"/>
<path d="M413.00 303.60 h5.28 M746.80 303.60 h-5.28"/>
<path d="M413.00 288.40 h5.28 M746.80 288.40 h-5.28"/>
<path d="M413.00 273.20 h5.28 M746.80 273.20 h-5.28"/>
<path d="M413.00 258.00 h10.56 M746.80 258.00 h-10.56"/>
<path d="M413.00 242.80 h5.28 M746.80 242.80 h-5.28"/>
<path d="M413.00 227.60 h5.28 M746.80 227.60 h-5.28"/>
<path d="M413.00 212.40 h5.28 M746.80 212.40 h-5.28"/>
<path d="M413.00 197.20 h10.56 M746.80 197.20 h-10.56"/>
<path d="M413.00 182.00 h5.28 M746.80 182.00 h-5.28"/>
<path d="M413.00 166.80 h5.28 M746.80 166.80 h-5.28"/>
<path d="M413.00 151.60 h5.28 M746.80 151.60 h-5.28"/>
<path d="M413.00 136.40 h10.56 M746.80 136.40 h-10.56"/>
<path d="M413.00 121.20 h5.28 M746.80 121.20 h-5.28"/>
<path d="M413.00 106.00 h5.28 M746.80 106.00 h-5.28"/>
<path d="M413.00 90.80 h5.28 M746.80 90.80 h-5.28"/>
<path d="M413.00 75.60 h10.56 M746.80 75.60 h-10.56"/>
<path d="M413.00 60.40 h5.28 M746.80 60.40 h-5.28"/>
<path d="M413.00 45.20 h5.28 M746.80 45.20 h-5.28"/>
<path d="M413.00 30.00 h5.28 M746.80 30.00 h-5.28"/>
<path d="M413.00 14.80 h10.56 M746.80 14.80 h-10.56"/>
<rect x="413.00" y="0.05" width="333.80" height="333.85"/>
<path d="M423.08 671.70 v-5.28 M423.08 337.40 v5.28"/>
<path d="M434.28 671.70 v-5.28 M434.28 337.40 v5.28"/>
<path d="M445.48 671.70 v-5.28 M445.48 337.40 v5.28"/>
<path d="M456.69 671.70 v-5.28 M456.69 337.40 v5.28"/>
<path d="M467.89 671.70 v-10.56 M467.89 337.40 v10.56"/>
<path d="M479.09 671.70 v-5.28 M479.09 337.40 v5.28"/>
<path d="M490.29 671.70 v-5.28 M490.29 337.40 v5.28"/>
<path d="M501.49 671.70 v-5.28 M501.49 337.40 v5.28"/>
<path d="M512.69 671.70 v-5.28 M512.69 337.40 v5.28"/>
<path d="M523.89 671.70 v-10.56 M523.89 337.40 v10.56"/>
<path d="M535.09 671.70 v-5.28 M535.09 337.40 v5.28"/>
<path d="M546.30 671.70 v-5.28 M546.30 337.40 v5.28"/>
<path d="M557.50 671.70 v-5.28 M557.50 337.40 v5.28"/>
<path d="M568.70 671.70 v-5.28 M568.70 337.40 v5.28"/>
<path d="M579.90 671.70 v-10.56 M579.90 337.40 v10.56"/>
<path d="M591.10 671.70 v-5.28 M591.10 337.40 v5.28"/>
<path d="M602.30 671.70 v-5.28 M602.30 337.40 v5.28"/>
<path d="M613.50 671.70 v-5.28 M613.50 337.40 v5.28"/>
<path d="M624.71 671.70 v-5.28 M624.71 337.40 v5.28"/>
<path d="M635.91 671.70 v-10.56 M635.91 337.40 v10.56"/>
<path d="M647.11 671.70 v-5.28 M647.11 337.40 v5.28"/>
<path d="M658.31 671.70 v-5.28 M658.31 337.40 v5.28"/>
<path d="M669.51 671.70 v-5.28 M669.51 337.40 v5.28"/>
<path d="M680.71 671.70 v-5.28 M680.71 337.40 v5.28"/>
<path d="M691.91 671.70 v-10.56 M691.91 337.40 v10.56"/>
<path d="M703.11 671.70 v-5.28 M703.11 337.40 v5.28"/>
<path d="M714.32 671.70 v-5.28 M714.32 337.40 v5.28"/>
<path d="M725.52 671.70 v-5.28 M725.52 337.40 v5.28"/>
<path d="M413.00 656.60 h10.56 M746.80 656.60 h-10.56"/>
<path d="M413.00 641.40 h5.28 M746.80 641.40 h-5.28"/>
<path d="M413.00 626.20 h5.28 M746.80 626.20 h-5.28"/>
<path d="M413.00 611.00 h5.28 M746.80 611.00 h-5.28"/>
<path d="M413.00 595.80 h10.56 M746.80 595.80 h-10.56"/>
<path d="M413.00 580.60 h5.28 M746.80 580.60 h-5.28"/>
<path d="M413.00 565.40 h5.28 M746.80 565.40 h-5.28"/>
<path d="M413.00 550.20 h5.28 M746.80 550.20 h-5.28"/>
<path d="M413.00 535.00 h10.56 M746.80 535.00 h-10.56"/>
<path d="M413.00 519.80 h5.28 M746.80 519.80 h-5.28"/>
<path d="M413.00 504.60 h5.28 M746.80 504.60 h-5.28"/>
<path d="M413.00 489.40 h5.28 M746.80 489.40 h-5.28"/>
<path d="M413.00 474.20 h10.56 M746.80 474.20 h-10.56"/>
<path d="M413.00 459.00 h5.28 M746.80 459.00 h-5.28"/>
<path d="M413.00 443.80 h5.28 M746.80 443.80 h-5.28"/>
<path d="M413.00 428.60 h5.28 M746.80 428.60 h-5.28"/>
<path d="M413.00 413.40 h10.56 M746.80 413.40 h-10.56"/>
<path d="M413.00 398.20 h5.28 M746.80 398.20 h-5.28"/>
<path d="M413.00 383.00 h5.28 M746.80 383.00 h-5.28"/>
<path d="M413.00 367.80 h5.28 M746.80 367.80 h-5.28"/>
<path d="M413.00 352.60 h10.56 M746.80 352.60 h-10.56"/>
<rect x="413.00" y="337.40" width="333.80" height="334.30"/>
</g>
<g font-family="Liberation Serif, serif" font-size="26.80" fill="#000">
<text x="68.50" y="324.90" text-anchor="end">1.0</text>
<text x="68.50" y="264.10" text-anchor="end">1.2</text>
<text x="68.50" y="203.30" text-anchor="end">1.4</text>
<text x="68.50" y="142.50" text-anchor="end">1.6</text>
<text x="68.50" y="81.70" text-anchor="end">1.8</text>
<text x="68.50" y="20.90" text-anchor="end">2.0</text>
<text x="68.50" y="662.70" text-anchor="end">1.0</text>
<text x="68.50" y="601.90" text-anchor="end">1.2</text>
<text x="68.50" y="541.10" text-anchor="end">1.4</text>
<text x="68.50" y="480.30" text-anchor="end">1.6</text>
<text x="68.50" y="419.50" text-anchor="end">1.8</text>
<text x="68.50" y="358.70" text-anchor="end">2.0</text>
<text x="123.82" y="696.40">1.0</text>
<path d="M105.42 689.70 H121.42" stroke="#000" stroke-width="1.3" fill="none"/>
<text x="179.36" y="696.40">0.5</text>
<path d="M161.46 689.70 H177.46" stroke="#000" stroke-width="1.3" fill="none"/>
<text x="242.20" y="696.40" text-anchor="middle">0.0</text>
<text x="298.24" y="696.40" text-anchor="middle">0.5</text>
<text x="354.98" y="696.40" text-anchor="middle">1.0</text>
<text x="461.59" y="696.40">1.0</text>
<path d="M443.19 689.70 H459.19" stroke="#000" stroke-width="1.3" fill="none"/>
<text x="517.09" y="696.40">0.5</text>
<path d="M499.19 689.70 H515.19" stroke="#000" stroke-width="1.3" fill="none"/>
<text x="579.90" y="696.40" text-anchor="middle">0.0</text>
<text x="635.91" y="696.40" text-anchor="middle">0.5</text>
<text x="692.61" y="696.40" text-anchor="middle">1.0</text>
</g>
<g font-family="Liberation Serif, serif" fill="#000">
<text transform="translate(318.4 251.00) scale(1.02 1)" font-size="20.50">MFM</text>
<text transform="translate(318.4 270.30) scale(1.02 1)" font-size="20.50">HD-SPH</text>
<text transform="translate(318.4 289.40) scale(1.02 1)" font-size="20.50">IG-SPH</text>
<text transform="translate(318.4 308.50) scale(1.02 1)" font-size="20.50">Exact</text>
</g>
<g font-family="Liberation Serif, serif" fill="#000">
<text transform="translate(85.60 30.60) scale(1.0480 1)" font-size="25.00">Isotropic</text>
<text transform="translate(423.10 30.60) scale(1.0480 1)" font-size="25.00">Anisotropic,</text>
<text transform="translate(433.30 57.00) scale(1.0480 1)" font-size="25.00">parallel</text>
<text transform="translate(84.60 367.90) scale(1.0480 1)" font-size="25.00">Anisotropic,</text>
<text transform="translate(423.10 367.90) scale(1.0480 1)" font-size="25.00">Anisotropic,</text>
<text transform="translate(434.30 394.30) scale(1.0400 1)" font-size="25.00">perpendicular</text>
</g>
<g transform="translate(435.70 87.10)" font-family="Liberation Serif, serif" fill="#000">
<path transform="translate(0.00 0.00)" d="M7.0 -20.3 C-2.3 -13 -2.3 -0.5 7.0 6.5 L7.45 6.05 C-0.1 -0.8 -0.1 -12.7 7.45 -19.85 Z" fill="#000" stroke="#000" stroke-width="0.15"/>
<text transform="translate(8.30 0.00) scale(1.0500 1)" font-size="25.20" font-style="italic" stroke="#000" stroke-width="0.2">B</text>
<path d="M15.3 -17.9 L19.1 -22.0 L22.9 -17.9" fill="none" stroke="#000" stroke-width="1.6" stroke-linejoin="miter"/>
<text transform="translate(23.60 4.50) scale(1.0000 1)" font-size="19.80" font-style="italic" stroke="#000" stroke-width="0.18">x</text>
<path d="M41.0 -8.8 H58.3 M41.0 -3.6 H58.3" fill="none" stroke="#000" stroke-width="1.3"/>
<text transform="translate(65.50 0.00) scale(1.0000 1)" font-size="26.30">1</text>
<path transform="translate(87.10 0.00) scale(-1 1)" d="M7.0 -20.3 C-2.3 -13 -2.3 -0.5 7.0 6.5 L7.45 6.05 C-0.1 -0.8 -0.1 -12.7 7.45 -19.85 Z" fill="#000" stroke="#000" stroke-width="0.15"/>
</g>
<g transform="translate(99.00 397.20)" font-family="Liberation Serif, serif" fill="#000">
<path transform="translate(0.00 0.00)" d="M7.0 -20.3 C-2.3 -13 -2.3 -0.5 7.0 6.5 L7.45 6.05 C-0.1 -0.8 -0.1 -12.7 7.45 -19.85 Z" fill="#000" stroke="#000" stroke-width="0.15"/>
<text transform="translate(8.30 0.00) scale(1.0500 1)" font-size="25.20" font-style="italic" stroke="#000" stroke-width="0.2">B</text>
<path d="M15.3 -17.9 L19.1 -22.0 L22.9 -17.9" fill="none" stroke="#000" stroke-width="1.6" stroke-linejoin="miter"/>
<text transform="translate(23.60 4.50) scale(1.0000 1)" font-size="19.80" font-style="italic" stroke="#000" stroke-width="0.18">x</text>
<path d="M41.0 -8.8 H58.3 M41.0 -3.6 H58.3" fill="none" stroke="#000" stroke-width="1.3"/>
<text transform="translate(65.50 0.00) scale(1.0000 1)" font-size="26.30">1</text>
<path d="M80.1 6.6 L89.7 -19.5" fill="none" stroke="#000" stroke-width="1.3"/>
<path d="M93.10 -8.00 L95.90 -9.70 L100.70 2.40 L112.40 -22.50 H125.80" fill="none" stroke="#000" stroke-width="1.3" stroke-linejoin="miter"/>
<path d="M96.00 -9.30 L100.40 1.50" fill="none" stroke="#000" stroke-width="2.5"/>
<text transform="translate(112.40 0.00) scale(1.0000 1)" font-size="26.30">2</text>
<path transform="translate(134.20 0.00) scale(-1 1)" d="M7.0 -20.3 C-2.3 -13 -2.3 -0.5 7.0 6.5 L7.45 6.05 C-0.1 -0.8 -0.1 -12.7 7.45 -19.85 Z" fill="#000" stroke="#000" stroke-width="0.15"/>
</g>
<g transform="translate(435.70 424.30)" font-family="Liberation Serif, serif" fill="#000">
<path transform="translate(0.00 0.00)" d="M7.0 -20.3 C-2.3 -13 -2.3 -0.5 7.0 6.5 L7.45 6.05 C-0.1 -0.8 -0.1 -12.7 7.45 -19.85 Z" fill="#000" stroke="#000" stroke-width="0.15"/>
<text transform="translate(8.30 0.00) scale(1.0500 1)" font-size="25.20" font-style="italic" stroke="#000" stroke-width="0.2">B</text>
<path d="M15.3 -17.9 L19.1 -22.0 L22.9 -17.9" fill="none" stroke="#000" stroke-width="1.6" stroke-linejoin="miter"/>
<text transform="translate(23.60 4.50) scale(1.0000 1)" font-size="19.80" font-style="italic" stroke="#000" stroke-width="0.18">x</text>
<path d="M41.0 -8.8 H58.3 M41.0 -3.6 H58.3" fill="none" stroke="#000" stroke-width="1.3"/>
<text transform="translate(65.50 0.00) scale(1.0000 1)" font-size="26.30">0</text>
<path transform="translate(87.10 0.00) scale(-1 1)" d="M7.0 -20.3 C-2.3 -13 -2.3 -0.5 7.0 6.5 L7.45 6.05 C-0.1 -0.8 -0.1 -12.7 7.45 -19.85 Z" fill="#000" stroke="#000" stroke-width="0.15"/>
</g>
<g transform="translate(0.00 0)" font-family="Liberation Serif, serif" fill="#000">
<text transform="translate(197.10 733.50) scale(1.0400 1)" font-size="26.00" font-style="italic" stroke="#000" stroke-width="0.18">x</text>
<path d="M209.3 742 L220.1 714" fill="none" stroke="#000" stroke-width="1.3"/>
<path d="M223.30 725.20 L226.10 723.50 L231.40 735.50 L243.40 711.00 H287.40" fill="none" stroke="#000" stroke-width="1.3" stroke-linejoin="miter"/>
<path d="M226.20 723.90 L231.10 734.60" fill="none" stroke="#000" stroke-width="2.5"/>
<text transform="translate(243.30 733.50) scale(1.0000 1)" font-size="26.30">4</text>
<text transform="translate(260.20 733.50) scale(1.0300 1)" font-size="27.00" stroke="#000" stroke-width="0.55">κ</text>
<text transform="translate(278.30 733.50) scale(1.0600 1)" font-size="25.30" font-style="italic" stroke="#000" stroke-width="0.18">t</text>
</g>
<g transform="translate(337.70 0)" font-family="Liberation Serif, serif" fill="#000">
<text transform="translate(197.10 733.50) scale(1.0400 1)" font-size="26.00" font-style="italic" stroke="#000" stroke-width="0.18">x</text>
<path d="M209.3 742 L220.1 714" fill="none" stroke="#000" stroke-width="1.3"/>
<path d="M223.30 725.20 L226.10 723.50 L231.40 735.50 L243.40 711.00 H287.40" fill="none" stroke="#000" stroke-width="1.3" stroke-linejoin="miter"/>
<path d="M226.20 723.90 L231.10 734.60" fill="none" stroke="#000" stroke-width="2.5"/>
<text transform="translate(243.30 733.50) scale(1.0000 1)" font-size="26.30">4</text>
<text transform="translate(260.20 733.50) scale(1.0300 1)" font-size="27.00" stroke="#000" stroke-width="0.55">κ</text>
<text transform="translate(278.30 733.50) scale(1.0600 1)" font-size="25.30" font-style="italic" stroke="#000" stroke-width="0.18">t</text>
</g>
<g transform="translate(20.2 168.30) rotate(-90)" font-family="Liberation Serif, serif" fill="#000">
<text transform="translate(-30.40 0.00) scale(1.0400 1)" font-size="26.00" font-style="italic" stroke="#000" stroke-width="0.18">q</text>
<path transform="translate(-14.60 0.00)" d="M7.0 -20.3 C-2.3 -13 -2.3 -0.5 7.0 6.5 L7.45 6.05 C-0.1 -0.8 -0.1 -12.7 7.45 -19.85 Z" fill="#000" stroke="#000" stroke-width="0.15"/>
<text transform="translate(-7.60 0.00) scale(1.0400 1)" font-size="26.00" font-style="italic" stroke="#000" stroke-width="0.18">x</text>
<text transform="translate(5.80 0.00) scale(1.0000 1)" font-size="26.30">,</text>
<text transform="translate(13.20 0.00) scale(1.0600 1)" font-size="25.30" font-style="italic" stroke="#000" stroke-width="0.18">t</text>
<path transform="translate(30.50 0.00) scale(-1 1)" d="M7.0 -20.3 C-2.3 -13 -2.3 -0.5 7.0 6.5 L7.45 6.05 C-0.1 -0.8 -0.1 -12.7 7.45 -19.85 Z" fill="#000" stroke="#000" stroke-width="0.15"/>
</g>
<g transform="translate(20.2 504.90) rotate(-90)" font-family="Liberation Serif, serif" fill="#000">
<text transform="translate(-30.40 0.00) scale(1.0400 1)" font-size="26.00" font-style="italic" stroke="#000" stroke-width="0.18">q</text>
<path transform="translate(-14.60 0.00)" d="M7.0 -20.3 C-2.3 -13 -2.3 -0.5 7.0 6.5 L7.45 6.05 C-0.1 -0.8 -0.1 -12.7 7.45 -19.85 Z" fill="#000" stroke="#000" stroke-width="0.15"/>
<text transform="translate(-7.60 0.00) scale(1.0400 1)" font-size="26.00" font-style="italic" stroke="#000" stroke-width="0.18">x</text>
<text transform="translate(5.80 0.00) scale(1.0000 1)" font-size="26.30">,</text>
<text transform="translate(13.20 0.00) scale(1.0600 1)" font-size="25.30" font-style="italic" stroke="#000" stroke-width="0.18">t</text>
<path transform="translate(30.50 0.00) scale(-1 1)" d="M7.0 -20.3 C-2.3 -13 -2.3 -0.5 7.0 6.5 L7.45 6.05 C-0.1 -0.8 -0.1 -12.7 7.45 -19.85 Z" fill="#000" stroke="#000" stroke-width="0.15"/>
</g>
</svg>
</body></html>
